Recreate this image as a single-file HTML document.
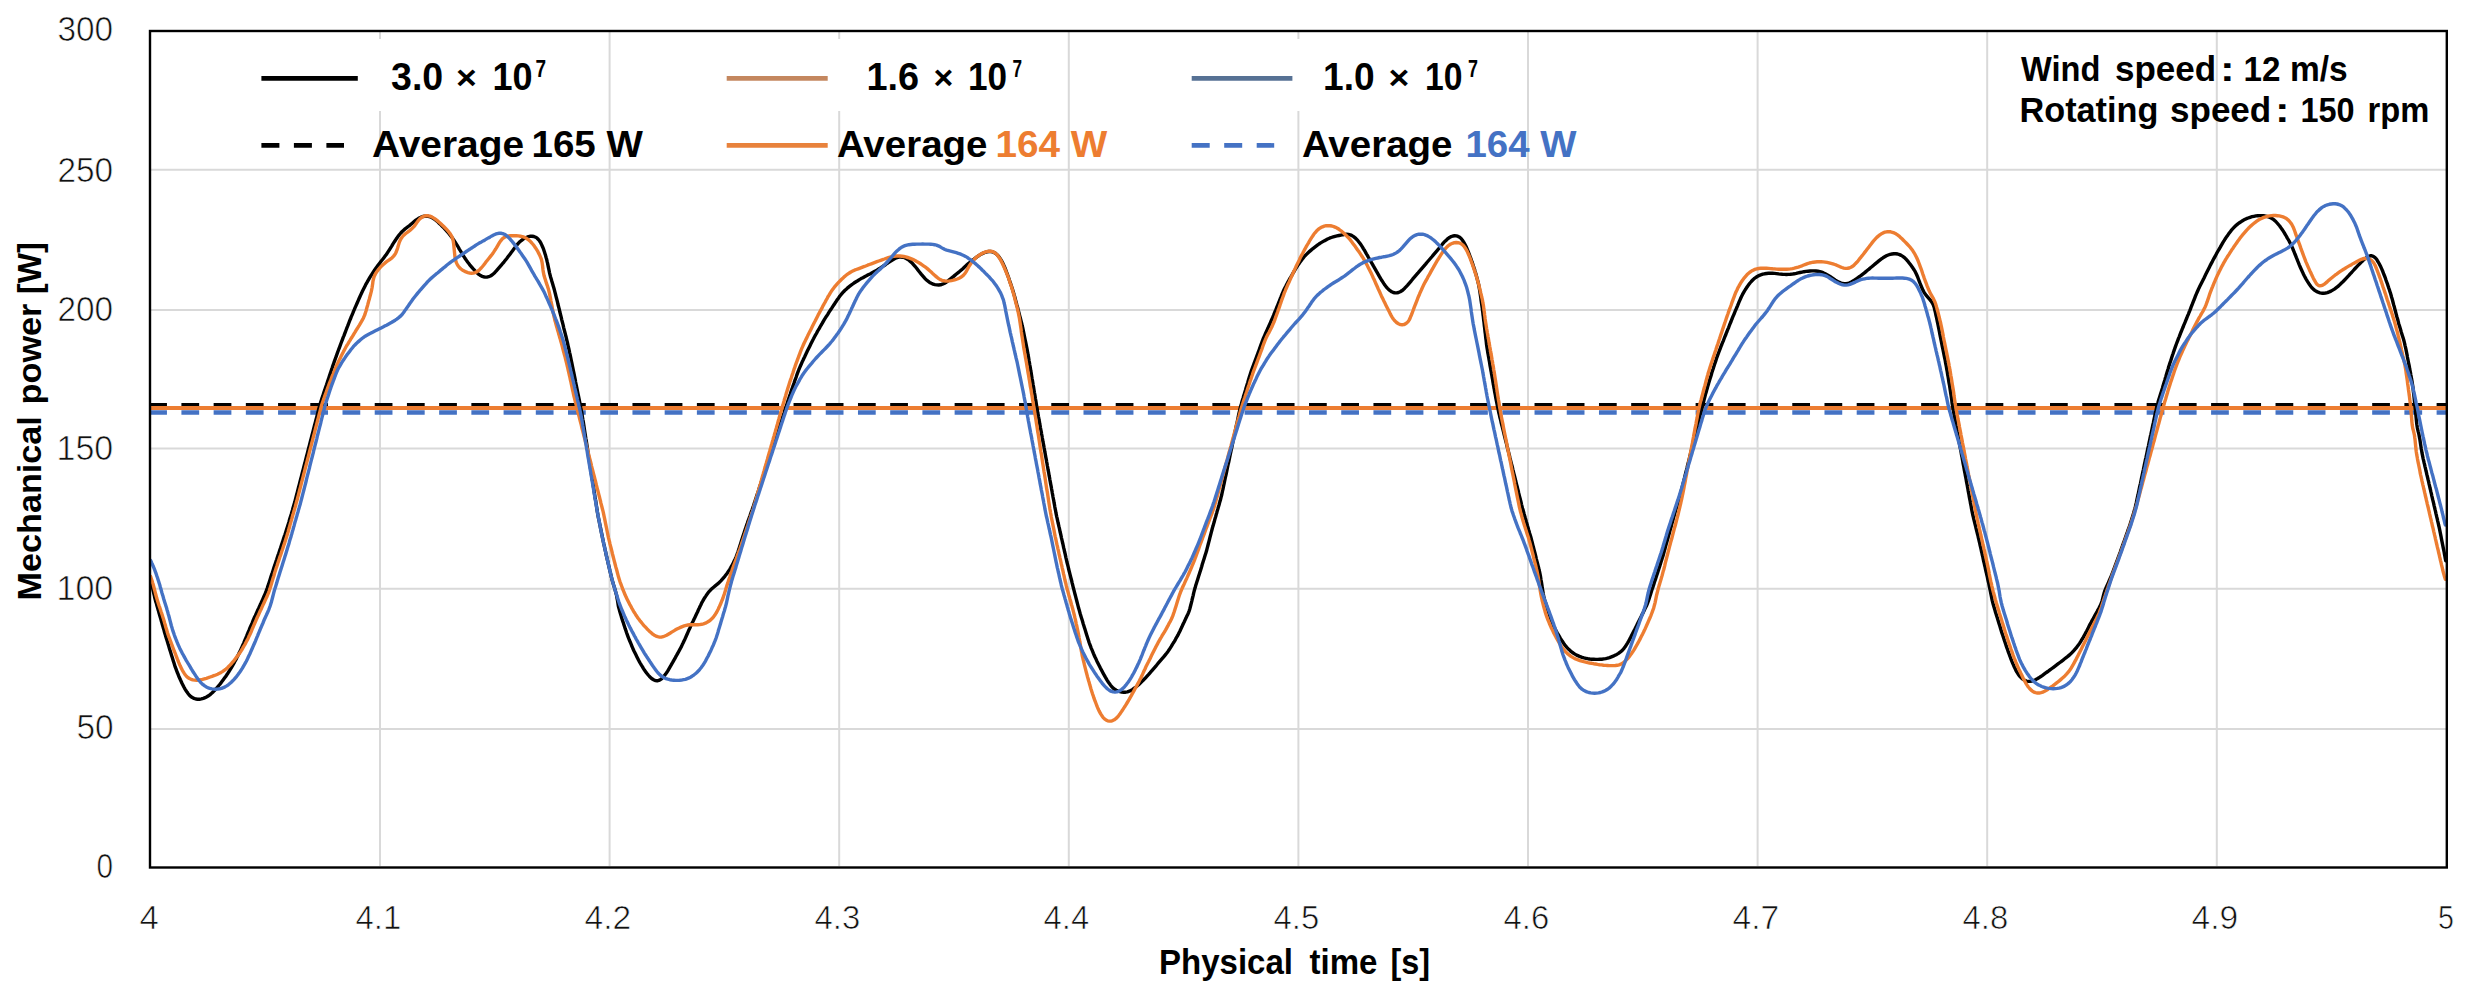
<!DOCTYPE html>
<html><head><meta charset="utf-8"><title>Mechanical power vs physical time</title>
<style>html,body{margin:0;padding:0;background:#fff;}body{width:2467px;height:996px;overflow:hidden;}svg{display:block;}</style>
</head><body>
<svg width="2467" height="996" viewBox="0 0 2467 996" font-family='"Liberation Sans", Arial, sans-serif'>
<rect width="2467" height="996" fill="#fff"/>
<g stroke="#d9d9d9" stroke-width="2"><line x1="151" y1="728.9" x2="2446" y2="728.9"/><line x1="151" y1="588.8" x2="2446" y2="588.8"/><line x1="151" y1="448.4" x2="2446" y2="448.4"/><line x1="151" y1="309.9" x2="2446" y2="309.9"/><line x1="151" y1="169.8" x2="2446" y2="169.8"/><line x1="380.0" y1="32" x2="380.0" y2="866"/><line x1="609.6" y1="32" x2="609.6" y2="866"/><line x1="839.2" y1="32" x2="839.2" y2="866"/><line x1="1068.8" y1="32" x2="1068.8" y2="866"/><line x1="1298.4" y1="32" x2="1298.4" y2="866"/><line x1="1528.0" y1="32" x2="1528.0" y2="866"/><line x1="1757.6" y1="32" x2="1757.6" y2="866"/><line x1="1987.2" y1="32" x2="1987.2" y2="866"/><line x1="2216.8" y1="32" x2="2216.8" y2="866"/></g>
<rect x="250" y="39" width="300" height="72" fill="#fff"/>
<rect x="715" y="39" width="300" height="72" fill="#fff"/>
<rect x="1180" y="39" width="300" height="72" fill="#fff"/>
<line x1="149.2" y1="404.4" x2="2446" y2="404.4" stroke="#000" stroke-width="3" stroke-dasharray="17.75 14.467"/>
<line x1="149.2" y1="412.5" x2="2446" y2="412.5" stroke="#4472c4" stroke-width="4.4" stroke-dasharray="17.75 14.467"/>
<line x1="151" y1="408" x2="2446" y2="408" stroke="#ed7d31" stroke-width="4"/>
<defs><clipPath id="pc"><rect x="151" y="32" width="2295" height="834"/></clipPath></defs>
<g fill="none" stroke-width="3.4" stroke-linejoin="round" stroke-linecap="round" clip-path="url(#pc)">
<path stroke="#000" d="M150.6,582.0 L151.0,583.1 L151.5,584.6 L152.1,586.3 L152.6,588.1 L153.0,590.0 L153.5,592.0 L153.9,593.9 L154.4,595.9 L154.8,597.8 L155.3,599.8 L155.8,601.7 L156.4,603.6 L156.9,605.5 L157.5,607.5 L158.0,609.4 L158.6,611.3 L159.1,613.2 L159.7,615.2 L160.2,617.1 L160.8,619.0 L161.3,620.9 L161.9,622.8 L162.4,624.8 L163.0,626.7 L163.5,628.6 L164.1,630.5 L164.6,632.5 L165.2,634.4 L165.7,636.3 L166.3,638.2 L166.9,640.1 L167.5,642.0 L168.1,644.0 L168.7,645.9 L169.2,647.8 L169.8,649.7 L170.4,651.6 L171.0,653.5 L171.6,655.4 L172.2,657.3 L172.8,659.2 L173.4,661.2 L174.0,663.1 L174.6,665.0 L175.2,666.9 L175.9,668.7 L176.6,670.6 L177.3,672.5 L178.1,674.3 L178.8,676.2 L179.6,678.0 L180.4,679.8 L181.3,681.7 L182.1,683.5 L183.0,685.2 L183.9,687.0 L184.9,688.8 L185.9,690.5 L187.0,692.1 L188.2,693.7 L189.4,695.2 L190.8,696.5 L192.4,697.6 L194.0,698.4 L195.8,699.0 L197.7,699.2 L199.5,699.2 L201.4,698.9 L203.3,698.4 L205.1,697.7 L206.9,696.8 L208.5,695.8 L210.1,694.6 L211.6,693.3 L213.1,691.9 L214.4,690.5 L215.8,689.0 L217.1,687.5 L218.4,686.0 L219.7,684.5 L220.9,682.9 L222.1,681.3 L223.3,679.7 L224.5,678.1 L225.7,676.5 L226.8,674.8 L227.9,673.2 L229.0,671.5 L230.0,669.8 L231.1,668.1 L232.1,666.4 L233.1,664.6 L234.1,662.9 L235.0,661.1 L236.0,659.4 L236.9,657.6 L237.8,655.8 L238.7,654.0 L239.5,652.2 L240.4,650.4 L241.3,648.6 L242.1,646.8 L242.9,644.9 L243.7,643.1 L244.4,641.3 L245.2,639.4 L246.0,637.6 L246.8,635.7 L247.5,633.9 L248.3,632.0 L249.1,630.2 L249.8,628.3 L250.6,626.5 L251.4,624.7 L252.2,622.8 L252.9,621.0 L253.7,619.1 L254.5,617.3 L255.4,615.5 L256.2,613.7 L257.0,611.8 L257.8,610.0 L258.7,608.2 L259.5,606.4 L260.3,604.6 L261.2,602.7 L262.0,600.9 L262.8,599.1 L263.6,597.3 L264.4,595.4 L265.2,593.6 L266.0,591.7 L266.6,589.9 L267.3,588.0 L267.9,586.1 L268.6,584.2 L269.2,582.3 L269.8,580.4 L270.4,578.5 L271.0,576.6 L271.6,574.7 L272.3,572.8 L272.9,570.9 L273.5,569.0 L274.1,567.1 L274.8,565.2 L275.4,563.3 L276.0,561.4 L276.7,559.5 L277.3,557.6 L277.9,555.7 L278.6,553.8 L279.2,551.9 L279.8,550.0 L280.5,548.1 L281.1,546.2 L281.7,544.3 L282.4,542.4 L283.0,540.5 L283.6,538.6 L284.2,536.7 L284.9,534.8 L285.5,532.9 L286.1,531.0 L286.7,529.1 L287.3,527.2 L287.9,525.3 L288.5,523.4 L289.1,521.5 L289.6,519.5 L290.2,517.6 L290.8,515.7 L291.4,513.8 L291.9,511.9 L292.5,510.0 L293.0,508.0 L293.6,506.1 L294.1,504.2 L294.7,502.3 L295.2,500.3 L295.7,498.4 L296.2,496.5 L296.7,494.5 L297.2,492.6 L297.7,490.7 L298.2,488.7 L298.7,486.8 L299.2,484.9 L299.7,482.9 L300.2,481.0 L300.7,479.0 L301.2,477.1 L301.7,475.2 L302.2,473.2 L302.7,471.3 L303.2,469.4 L303.7,467.4 L304.2,465.5 L304.7,463.5 L305.2,461.6 L305.7,459.7 L306.2,457.7 L306.7,455.8 L307.2,453.9 L307.7,451.9 L308.2,450.0 L308.7,448.0 L309.2,446.1 L309.7,444.2 L310.2,442.2 L310.7,440.3 L311.2,438.4 L311.7,436.4 L312.2,434.5 L312.7,432.6 L313.2,430.6 L313.7,428.7 L314.2,426.7 L314.7,424.8 L315.2,422.9 L315.7,420.9 L316.2,419.0 L316.7,417.1 L317.2,415.1 L317.7,413.2 L318.2,411.2 L318.7,409.3 L319.2,407.4 L319.7,405.5 L320.3,403.5 L320.9,401.6 L321.5,399.7 L322.1,397.8 L322.8,395.9 L323.4,394.0 L324.0,392.1 L324.7,390.2 L325.3,388.3 L325.9,386.5 L326.6,384.6 L327.2,382.7 L327.8,380.8 L328.5,378.9 L329.1,377.0 L329.7,375.1 L330.4,373.2 L331.0,371.3 L331.6,369.4 L332.3,367.5 L332.9,365.6 L333.6,363.7 L334.2,361.8 L334.9,359.9 L335.6,358.0 L336.3,356.2 L336.9,354.3 L337.6,352.4 L338.3,350.5 L339.0,348.6 L339.7,346.8 L340.4,344.9 L341.1,343.0 L341.8,341.2 L342.5,339.3 L343.2,337.4 L344.0,335.6 L344.7,333.7 L345.4,331.8 L346.1,330.0 L346.8,328.1 L347.6,326.2 L348.3,324.4 L349.0,322.5 L349.7,320.6 L350.5,318.8 L351.2,316.9 L352.0,315.1 L352.8,313.2 L353.5,311.4 L354.3,309.6 L355.1,307.7 L355.9,305.9 L356.7,304.0 L357.5,302.2 L358.3,300.4 L359.1,298.5 L359.9,296.7 L360.7,294.9 L361.6,293.1 L362.4,291.3 L363.3,289.5 L364.2,287.7 L365.1,285.9 L366.0,284.1 L367.0,282.4 L368.0,280.6 L369.0,278.9 L370.0,277.2 L371.1,275.5 L372.1,273.8 L373.2,272.1 L374.3,270.5 L375.5,268.8 L376.6,267.2 L377.8,265.6 L379.0,264.0 L380.2,262.4 L381.5,260.8 L382.7,259.3 L383.9,257.7 L385.1,256.1 L386.3,254.5 L387.4,252.8 L388.5,251.1 L389.6,249.5 L390.6,247.8 L391.7,246.1 L392.7,244.4 L393.8,242.7 L394.9,241.0 L396.0,239.3 L397.1,237.7 L398.3,236.1 L399.5,234.5 L400.8,233.0 L402.2,231.5 L403.6,230.2 L405.1,228.9 L406.7,227.7 L408.2,226.5 L409.8,225.3 L411.3,224.0 L412.8,222.7 L414.4,221.4 L415.9,220.2 L417.5,219.1 L419.2,218.0 L421.0,217.2 L422.8,216.5 L424.6,216.2 L426.5,216.1 L428.3,216.3 L430.2,216.8 L431.9,217.6 L433.5,218.6 L435.1,219.7 L436.7,221.0 L438.2,222.3 L439.6,223.7 L441.1,225.0 L442.5,226.5 L443.9,227.9 L445.2,229.3 L446.6,230.8 L447.9,232.3 L449.2,233.9 L450.4,235.4 L451.6,237.0 L452.8,238.6 L453.9,240.3 L455.0,241.9 L456.1,243.6 L457.2,245.3 L458.2,247.0 L459.2,248.8 L460.2,250.5 L461.2,252.2 L462.3,253.9 L463.3,255.6 L464.4,257.3 L465.5,259.0 L466.6,260.6 L467.8,262.3 L469.0,263.8 L470.2,265.4 L471.5,266.9 L472.8,268.4 L474.2,269.9 L475.5,271.4 L477.0,272.7 L478.4,274.1 L480.0,275.2 L481.6,276.1 L483.3,276.8 L485.1,277.1 L486.9,277.1 L488.7,276.7 L490.4,276.0 L492.0,275.0 L493.5,273.7 L494.9,272.4 L496.3,270.9 L497.6,269.4 L498.9,267.9 L500.2,266.4 L501.5,264.9 L502.8,263.3 L504.1,261.8 L505.3,260.3 L506.6,258.7 L507.8,257.1 L509.0,255.5 L510.2,253.9 L511.4,252.3 L512.6,250.7 L513.8,249.1 L515.0,247.5 L516.2,245.9 L517.4,244.4 L518.7,242.9 L520.1,241.5 L521.6,240.3 L523.2,239.1 L524.9,238.1 L526.7,237.3 L528.5,236.6 L530.3,236.3 L532.1,236.2 L533.9,236.5 L535.6,237.2 L537.1,238.2 L538.4,239.5 L539.6,241.0 L540.6,242.6 L541.5,244.4 L542.3,246.2 L543.1,248.0 L543.8,249.9 L544.4,251.8 L545.0,253.7 L545.6,255.6 L546.1,257.5 L546.7,259.5 L547.1,261.4 L547.6,263.4 L548.0,265.3 L548.4,267.3 L548.8,269.2 L549.2,271.2 L549.6,273.1 L550.1,275.1 L550.6,277.0 L551.2,278.9 L551.7,280.8 L552.3,282.8 L552.9,284.7 L553.4,286.6 L554.0,288.5 L554.5,290.4 L555.0,292.4 L555.5,294.3 L556.0,296.3 L556.5,298.2 L557.0,300.1 L557.5,302.1 L557.9,304.0 L558.4,306.0 L558.9,307.9 L559.4,309.8 L559.8,311.8 L560.3,313.7 L560.8,315.7 L561.3,317.6 L561.7,319.6 L562.2,321.5 L562.7,323.4 L563.2,325.4 L563.6,327.3 L564.1,329.3 L564.6,331.2 L565.1,333.2 L565.6,335.1 L566.1,337.0 L566.5,339.0 L567.0,340.9 L567.5,342.9 L567.9,344.8 L568.3,346.8 L568.8,348.7 L569.2,350.7 L569.6,352.6 L570.1,354.6 L570.5,356.5 L570.9,358.5 L571.3,360.5 L571.7,362.4 L572.1,364.4 L572.5,366.3 L572.9,368.3 L573.3,370.3 L573.7,372.2 L574.1,374.2 L574.5,376.1 L574.9,378.1 L575.3,380.1 L575.6,382.0 L576.0,384.0 L576.4,385.9 L576.8,387.9 L577.2,389.9 L577.6,391.8 L578.0,393.8 L578.4,395.7 L578.8,397.7 L579.2,399.7 L579.6,401.6 L580.0,403.6 L580.4,405.6 L580.7,407.5 L581.1,409.5 L581.5,411.4 L581.9,413.4 L582.2,415.4 L582.5,417.4 L582.8,419.3 L583.2,421.3 L583.5,423.3 L583.8,425.3 L584.1,427.2 L584.4,429.2 L584.7,431.2 L585.0,433.2 L585.3,435.1 L585.6,437.1 L585.9,439.1 L586.3,441.1 L586.6,443.0 L586.9,445.0 L587.2,447.0 L587.5,449.0 L587.8,450.9 L588.1,452.9 L588.4,454.9 L588.7,456.9 L589.0,458.8 L589.4,460.8 L589.7,462.8 L590.0,464.8 L590.3,466.7 L590.6,468.7 L590.9,470.7 L591.2,472.7 L591.5,474.6 L591.8,476.6 L592.1,478.6 L592.5,480.6 L592.8,482.6 L593.1,484.5 L593.4,486.5 L593.7,488.5 L594.0,490.5 L594.3,492.4 L594.6,494.4 L594.9,496.4 L595.2,498.4 L595.6,500.3 L595.9,502.3 L596.2,504.3 L596.5,506.3 L596.8,508.2 L597.1,510.2 L597.4,512.2 L597.8,514.2 L598.1,516.1 L598.5,518.1 L598.9,520.0 L599.3,522.0 L599.7,524.0 L600.1,525.9 L600.5,527.9 L600.9,529.9 L601.3,531.8 L601.7,533.8 L602.1,535.7 L602.5,537.7 L602.9,539.7 L603.3,541.6 L603.7,543.6 L604.2,545.5 L604.6,547.5 L605.0,549.4 L605.5,551.4 L605.9,553.3 L606.3,555.3 L606.8,557.2 L607.2,559.2 L607.7,561.1 L608.1,563.1 L608.6,565.0 L609.0,567.0 L609.5,568.9 L609.9,570.9 L610.4,572.8 L610.9,574.8 L611.3,576.7 L611.8,578.6 L612.3,580.6 L612.9,582.5 L613.4,584.4 L614.0,586.3 L614.6,588.2 L615.2,590.2 L615.7,592.1 L616.2,594.0 L616.7,595.9 L617.0,597.9 L617.4,599.9 L617.7,601.8 L618.0,603.8 L618.3,605.8 L618.8,607.7 L619.3,609.6 L619.8,611.6 L620.4,613.5 L621.0,615.4 L621.5,617.3 L622.1,619.2 L622.7,621.1 L623.4,623.0 L624.0,624.9 L624.6,626.8 L625.2,628.7 L625.9,630.6 L626.5,632.5 L627.2,634.4 L627.9,636.3 L628.6,638.1 L629.3,640.0 L630.1,641.8 L630.9,643.7 L631.6,645.5 L632.4,647.4 L633.2,649.2 L634.0,651.0 L634.9,652.8 L635.8,654.6 L636.7,656.4 L637.6,658.2 L638.5,660.0 L639.4,661.7 L640.4,663.5 L641.4,665.2 L642.5,666.9 L643.5,668.6 L644.6,670.3 L645.8,671.9 L647.0,673.5 L648.2,675.0 L649.5,676.5 L650.9,677.9 L652.4,679.1 L654.0,680.0 L655.6,680.6 L657.2,680.8 L658.8,680.4 L660.3,679.7 L661.8,678.6 L663.1,677.2 L664.4,675.7 L665.6,674.1 L666.7,672.5 L667.8,670.8 L668.8,669.1 L669.8,667.4 L670.8,665.7 L671.8,663.9 L672.8,662.2 L673.8,660.4 L674.8,658.7 L675.7,656.9 L676.7,655.2 L677.7,653.4 L678.6,651.7 L679.6,649.9 L680.5,648.2 L681.5,646.4 L682.3,644.6 L683.2,642.8 L684.0,641.0 L684.9,639.2 L685.7,637.3 L686.5,635.5 L687.3,633.7 L688.1,631.9 L688.9,630.0 L689.8,628.2 L690.6,626.4 L691.4,624.6 L692.3,622.8 L693.2,621.0 L694.0,619.2 L694.9,617.4 L695.8,615.6 L696.6,613.8 L697.5,612.0 L698.3,610.1 L699.2,608.3 L700.0,606.5 L700.9,604.7 L701.7,602.9 L702.7,601.2 L703.7,599.4 L704.7,597.7 L705.8,596.1 L706.9,594.4 L708.1,592.8 L709.3,591.3 L710.7,589.8 L712.1,588.5 L713.6,587.2 L715.2,585.9 L716.7,584.7 L718.2,583.4 L719.7,582.0 L721.1,580.6 L722.4,579.1 L723.7,577.6 L725.0,576.1 L726.2,574.5 L727.4,572.9 L728.5,571.2 L729.6,569.6 L730.6,567.9 L731.6,566.1 L732.6,564.4 L733.5,562.6 L734.3,560.8 L735.2,559.0 L736.0,557.1 L736.7,555.3 L737.4,553.4 L738.1,551.5 L738.7,549.6 L739.3,547.7 L739.9,545.8 L740.5,543.9 L741.1,542.0 L741.7,540.1 L742.3,538.2 L742.9,536.3 L743.6,534.4 L744.2,532.5 L744.8,530.6 L745.5,528.7 L746.1,526.8 L746.7,524.9 L747.4,523.0 L748.0,521.1 L748.7,519.3 L749.4,517.4 L750.1,515.5 L750.7,513.6 L751.4,511.7 L752.1,509.8 L752.7,507.9 L753.4,506.1 L754.0,504.2 L754.6,502.3 L755.3,500.4 L755.9,498.5 L756.5,496.6 L757.1,494.7 L757.8,492.8 L758.4,490.9 L759.0,489.0 L759.6,487.1 L760.3,485.2 L760.9,483.3 L761.5,481.4 L762.1,479.5 L762.8,477.6 L763.4,475.7 L764.0,473.8 L764.6,471.9 L765.2,470.0 L765.9,468.1 L766.5,466.2 L767.1,464.3 L767.7,462.4 L768.4,460.5 L769.0,458.6 L769.6,456.7 L770.2,454.8 L770.9,452.9 L771.5,451.0 L772.1,449.1 L772.7,447.2 L773.4,445.3 L774.0,443.4 L774.6,441.5 L775.2,439.6 L775.9,437.7 L776.5,435.8 L777.1,433.9 L777.7,432.0 L778.3,430.1 L779.0,428.2 L779.6,426.3 L780.2,424.4 L780.8,422.5 L781.5,420.6 L782.1,418.7 L782.7,416.8 L783.3,414.9 L784.0,413.0 L784.6,411.1 L785.2,409.2 L785.8,407.3 L786.5,405.4 L787.1,403.5 L787.7,401.6 L788.4,399.7 L789.0,397.8 L789.6,395.9 L790.3,394.0 L790.9,392.1 L791.5,390.2 L792.2,388.3 L792.9,386.4 L793.5,384.5 L794.2,382.6 L794.8,380.7 L795.5,378.9 L796.2,377.0 L796.8,375.1 L797.5,373.2 L798.2,371.3 L798.9,369.5 L799.7,367.6 L800.5,365.8 L801.3,364.0 L802.1,362.1 L803.0,360.3 L803.8,358.5 L804.7,356.7 L805.5,354.9 L806.4,353.1 L807.2,351.3 L808.1,349.5 L809.0,347.7 L809.9,345.9 L810.8,344.1 L811.7,342.3 L812.6,340.5 L813.5,338.8 L814.4,337.0 L815.4,335.2 L816.4,333.5 L817.3,331.7 L818.3,330.0 L819.3,328.3 L820.3,326.5 L821.3,324.8 L822.3,323.1 L823.3,321.3 L824.3,319.6 L825.4,317.9 L826.5,316.2 L827.6,314.6 L828.6,312.9 L829.7,311.2 L830.8,309.5 L831.9,307.9 L833.0,306.2 L834.1,304.5 L835.2,302.8 L836.3,301.2 L837.4,299.5 L838.6,297.9 L839.7,296.3 L841.0,294.7 L842.3,293.2 L843.6,291.7 L845.0,290.3 L846.5,289.0 L848.0,287.6 L849.5,286.4 L851.1,285.2 L852.7,284.0 L854.3,282.8 L856.0,281.7 L857.7,280.7 L859.4,279.6 L861.1,278.6 L862.9,277.7 L864.6,276.7 L866.4,275.8 L868.2,274.8 L870.0,273.9 L871.7,273.0 L873.5,272.0 L875.2,271.1 L876.9,270.1 L878.7,269.0 L880.4,268.0 L882.0,266.9 L883.7,265.8 L885.4,264.7 L887.0,263.5 L888.7,262.4 L890.3,261.3 L892.0,260.2 L893.7,259.2 L895.4,258.3 L897.1,257.6 L899.0,257.1 L900.8,257.0 L902.6,257.2 L904.5,257.7 L906.2,258.5 L907.9,259.5 L909.4,260.6 L910.9,261.9 L912.4,263.3 L913.7,264.8 L915.0,266.3 L916.2,267.8 L917.5,269.4 L918.7,271.0 L919.9,272.5 L921.2,274.1 L922.5,275.6 L923.8,277.1 L925.1,278.6 L926.5,280.0 L928.0,281.2 L929.6,282.4 L931.3,283.3 L933.1,284.1 L934.9,284.6 L936.8,284.9 L938.7,285.0 L940.6,284.8 L942.4,284.2 L944.1,283.5 L945.7,282.5 L947.4,281.3 L948.9,280.1 L950.5,278.9 L952.1,277.6 L953.6,276.4 L955.1,275.1 L956.7,273.8 L958.2,272.6 L959.8,271.3 L961.3,270.0 L962.8,268.7 L964.3,267.3 L965.7,266.0 L967.2,264.6 L968.7,263.3 L970.3,262.1 L971.8,260.8 L973.4,259.6 L975.0,258.4 L976.6,257.2 L978.2,256.0 L979.9,254.9 L981.6,253.9 L983.3,253.1 L985.2,252.3 L987.0,251.8 L988.9,251.5 L990.7,251.5 L992.5,251.9 L994.2,252.5 L995.7,253.5 L997.2,254.8 L998.5,256.2 L999.6,257.8 L1000.7,259.4 L1001.7,261.1 L1002.7,262.9 L1003.5,264.7 L1004.3,266.5 L1005.1,268.3 L1005.8,270.2 L1006.5,272.1 L1007.2,273.9 L1007.9,275.8 L1008.6,277.7 L1009.2,279.6 L1009.9,281.5 L1010.5,283.4 L1011.2,285.3 L1011.8,287.2 L1012.4,289.1 L1013.0,291.0 L1013.6,292.9 L1014.1,294.8 L1014.7,296.7 L1015.2,298.7 L1015.7,300.6 L1016.2,302.5 L1016.7,304.5 L1017.3,306.4 L1017.8,308.3 L1018.3,310.3 L1018.8,312.2 L1019.3,314.1 L1019.8,316.1 L1020.3,318.0 L1020.8,319.9 L1021.3,321.9 L1021.8,323.8 L1022.2,325.8 L1022.7,327.7 L1023.1,329.7 L1023.5,331.6 L1023.9,333.6 L1024.3,335.5 L1024.7,337.5 L1025.1,339.5 L1025.5,341.4 L1025.9,343.4 L1026.3,345.3 L1026.7,347.3 L1027.1,349.3 L1027.4,351.2 L1027.8,353.2 L1028.1,355.2 L1028.5,357.1 L1028.8,359.1 L1029.1,361.1 L1029.5,363.1 L1029.8,365.0 L1030.2,367.0 L1030.5,369.0 L1030.8,370.9 L1031.2,372.9 L1031.5,374.9 L1031.8,376.9 L1032.1,378.8 L1032.5,380.8 L1032.8,382.8 L1033.1,384.8 L1033.5,386.7 L1033.8,388.7 L1034.1,390.7 L1034.4,392.6 L1034.8,394.6 L1035.1,396.6 L1035.4,398.6 L1035.8,400.5 L1036.1,402.5 L1036.4,404.5 L1036.7,406.5 L1037.1,408.4 L1037.4,410.4 L1037.7,412.4 L1038.1,414.3 L1038.4,416.3 L1038.8,418.3 L1039.1,420.2 L1039.5,422.2 L1039.8,424.2 L1040.2,426.2 L1040.5,428.1 L1040.9,430.1 L1041.3,432.1 L1041.6,434.0 L1042.0,436.0 L1042.3,438.0 L1042.7,439.9 L1043.0,441.9 L1043.4,443.9 L1043.8,445.8 L1044.1,447.8 L1044.5,449.8 L1044.8,451.7 L1045.2,453.7 L1045.5,455.7 L1045.9,457.6 L1046.3,459.6 L1046.6,461.6 L1047.0,463.5 L1047.3,465.5 L1047.7,467.5 L1048.0,469.4 L1048.4,471.4 L1048.8,473.4 L1049.1,475.4 L1049.5,477.3 L1049.8,479.3 L1050.2,481.3 L1050.5,483.2 L1050.9,485.2 L1051.3,487.2 L1051.6,489.1 L1052.0,491.1 L1052.3,493.1 L1052.7,495.0 L1053.0,497.0 L1053.4,499.0 L1053.8,500.9 L1054.1,502.9 L1054.5,504.9 L1054.8,506.8 L1055.2,508.8 L1055.6,510.8 L1055.9,512.7 L1056.3,514.7 L1056.7,516.6 L1057.2,518.6 L1057.6,520.6 L1058.0,522.5 L1058.5,524.5 L1058.9,526.4 L1059.4,528.4 L1059.8,530.3 L1060.2,532.3 L1060.7,534.2 L1061.1,536.2 L1061.5,538.1 L1062.0,540.1 L1062.4,542.0 L1062.9,544.0 L1063.3,545.9 L1063.7,547.9 L1064.2,549.8 L1064.6,551.8 L1065.1,553.7 L1065.5,555.7 L1065.9,557.6 L1066.4,559.6 L1066.8,561.5 L1067.3,563.5 L1067.8,565.4 L1068.3,567.4 L1068.7,569.3 L1069.2,571.2 L1069.7,573.2 L1070.2,575.1 L1070.7,577.1 L1071.2,579.0 L1071.7,580.9 L1072.1,582.9 L1072.6,584.8 L1073.1,586.8 L1073.6,588.7 L1074.1,590.6 L1074.6,592.6 L1075.1,594.5 L1075.6,596.4 L1076.1,598.4 L1076.6,600.3 L1077.1,602.2 L1077.6,604.2 L1078.1,606.1 L1078.6,608.1 L1079.2,610.0 L1079.7,611.9 L1080.2,613.8 L1080.8,615.8 L1081.4,617.7 L1082.0,619.6 L1082.6,621.5 L1083.1,623.4 L1083.7,625.3 L1084.3,627.2 L1084.9,629.1 L1085.5,631.0 L1086.1,633.0 L1086.7,634.9 L1087.3,636.8 L1087.9,638.7 L1088.5,640.6 L1089.1,642.5 L1089.8,644.4 L1090.5,646.2 L1091.2,648.1 L1092.0,649.9 L1092.8,651.8 L1093.5,653.6 L1094.3,655.5 L1095.1,657.3 L1096.0,659.1 L1096.8,660.9 L1097.7,662.7 L1098.6,664.5 L1099.5,666.3 L1100.4,668.1 L1101.3,669.8 L1102.3,671.6 L1103.2,673.4 L1104.2,675.1 L1105.2,676.9 L1106.2,678.6 L1107.2,680.3 L1108.3,682.0 L1109.4,683.6 L1110.6,685.2 L1111.8,686.7 L1113.2,688.1 L1114.7,689.3 L1116.3,690.2 L1118.1,691.0 L1119.9,691.6 L1121.8,692.1 L1123.7,692.2 L1125.6,692.2 L1127.5,691.8 L1129.3,691.2 L1131.1,690.4 L1132.7,689.4 L1134.3,688.2 L1135.9,687.0 L1137.4,685.7 L1138.9,684.4 L1140.4,683.0 L1141.8,681.6 L1143.2,680.2 L1144.6,678.8 L1146.0,677.3 L1147.3,675.9 L1148.7,674.4 L1150.0,672.9 L1151.3,671.3 L1152.6,669.8 L1153.9,668.3 L1155.2,666.8 L1156.5,665.3 L1157.8,663.7 L1159.1,662.2 L1160.4,660.7 L1161.7,659.2 L1163.0,657.7 L1164.3,656.1 L1165.5,654.6 L1166.8,653.0 L1168.0,651.4 L1169.1,649.8 L1170.2,648.1 L1171.3,646.4 L1172.3,644.7 L1173.3,643.0 L1174.4,641.3 L1175.4,639.6 L1176.3,637.8 L1177.3,636.1 L1178.3,634.3 L1179.2,632.5 L1180.1,630.7 L1180.9,628.9 L1181.8,627.1 L1182.6,625.3 L1183.4,623.5 L1184.3,621.7 L1185.1,619.9 L1186.0,618.1 L1186.8,616.3 L1187.7,614.5 L1188.5,612.6 L1189.2,610.8 L1189.8,608.9 L1190.3,607.0 L1190.8,605.0 L1191.3,603.1 L1191.8,601.1 L1192.2,599.2 L1192.7,597.3 L1193.2,595.3 L1193.6,593.4 L1194.1,591.4 L1194.6,589.5 L1195.2,587.6 L1195.7,585.6 L1196.3,583.7 L1196.9,581.8 L1197.5,579.9 L1198.1,578.0 L1198.7,576.1 L1199.3,574.2 L1199.9,572.3 L1200.5,570.4 L1201.1,568.5 L1201.7,566.5 L1202.2,564.6 L1202.8,562.7 L1203.4,560.8 L1204.0,558.9 L1204.6,557.0 L1205.2,555.1 L1205.8,553.2 L1206.4,551.3 L1206.9,549.3 L1207.4,547.4 L1207.9,545.5 L1208.4,543.5 L1208.9,541.6 L1209.4,539.7 L1209.9,537.7 L1210.4,535.8 L1210.9,533.8 L1211.4,531.9 L1211.9,530.0 L1212.4,528.0 L1213.0,526.1 L1213.5,524.2 L1214.1,522.3 L1214.6,520.3 L1215.1,518.4 L1215.7,516.5 L1216.2,514.6 L1216.8,512.7 L1217.3,510.7 L1217.9,508.8 L1218.4,506.9 L1219.0,505.0 L1219.5,503.0 L1220.1,501.1 L1220.6,499.2 L1221.1,497.2 L1221.6,495.3 L1222.0,493.4 L1222.4,491.4 L1222.9,489.4 L1223.3,487.5 L1223.7,485.5 L1224.1,483.6 L1224.5,481.6 L1224.9,479.7 L1225.3,477.7 L1225.8,475.7 L1226.2,473.8 L1226.6,471.8 L1227.0,469.9 L1227.4,467.9 L1227.8,466.0 L1228.2,464.0 L1228.7,462.1 L1229.1,460.1 L1229.5,458.1 L1229.9,456.2 L1230.3,454.2 L1230.7,452.3 L1231.1,450.3 L1231.6,448.4 L1232.0,446.4 L1232.4,444.4 L1232.8,442.5 L1233.2,440.5 L1233.6,438.6 L1234.1,436.6 L1234.5,434.7 L1234.9,432.7 L1235.3,430.7 L1235.7,428.8 L1236.1,426.8 L1236.5,424.9 L1237.0,422.9 L1237.4,421.0 L1237.8,419.0 L1238.2,417.1 L1238.6,415.1 L1239.0,413.1 L1239.5,411.2 L1239.9,409.2 L1240.4,407.3 L1240.9,405.4 L1241.5,403.4 L1242.0,401.5 L1242.6,399.6 L1243.2,397.7 L1243.7,395.8 L1244.3,393.9 L1244.9,391.9 L1245.5,390.0 L1246.0,388.1 L1246.6,386.2 L1247.2,384.3 L1247.8,382.4 L1248.3,380.5 L1248.9,378.5 L1249.5,376.6 L1250.1,374.7 L1250.7,372.8 L1251.3,370.9 L1252.0,369.0 L1252.7,367.2 L1253.4,365.3 L1254.1,363.4 L1254.8,361.5 L1255.5,359.7 L1256.2,357.8 L1256.9,355.9 L1257.6,354.1 L1258.3,352.2 L1259.0,350.3 L1259.7,348.4 L1260.3,346.5 L1261.0,344.7 L1261.7,342.8 L1262.4,340.9 L1263.1,339.0 L1263.9,337.2 L1264.7,335.4 L1265.5,333.5 L1266.3,331.7 L1267.1,329.9 L1268.0,328.1 L1268.8,326.2 L1269.6,324.4 L1270.4,322.6 L1271.2,320.7 L1272.0,318.9 L1272.8,317.1 L1273.6,315.2 L1274.3,313.4 L1275.1,311.5 L1275.9,309.7 L1276.6,307.8 L1277.4,306.0 L1278.1,304.1 L1278.9,302.3 L1279.6,300.4 L1280.3,298.5 L1281.1,296.7 L1281.8,294.8 L1282.6,293.0 L1283.3,291.2 L1284.2,289.3 L1285.1,287.5 L1286.0,285.8 L1286.9,284.0 L1287.9,282.2 L1288.8,280.5 L1289.8,278.7 L1290.8,277.0 L1291.8,275.3 L1292.8,273.5 L1293.8,271.8 L1294.8,270.1 L1295.9,268.4 L1297.0,266.7 L1298.0,265.0 L1299.2,263.4 L1300.3,261.8 L1301.5,260.2 L1302.7,258.6 L1304.0,257.0 L1305.3,255.5 L1306.7,254.1 L1308.1,252.7 L1309.6,251.4 L1311.1,250.1 L1312.6,248.8 L1314.2,247.6 L1315.8,246.4 L1317.4,245.2 L1319.0,244.0 L1320.7,242.9 L1322.4,241.9 L1324.1,240.9 L1325.9,239.9 L1327.6,239.0 L1329.5,238.2 L1331.3,237.5 L1333.2,236.9 L1335.1,236.3 L1337.0,235.9 L1339.0,235.5 L1340.9,235.1 L1342.9,234.7 L1344.8,234.4 L1346.7,234.3 L1348.5,234.4 L1350.3,234.8 L1352.0,235.6 L1353.6,236.6 L1355.1,237.8 L1356.5,239.2 L1357.9,240.7 L1359.1,242.2 L1360.3,243.8 L1361.4,245.4 L1362.5,247.1 L1363.5,248.8 L1364.6,250.5 L1365.6,252.3 L1366.5,254.0 L1367.5,255.7 L1368.5,257.5 L1369.5,259.2 L1370.5,261.0 L1371.5,262.7 L1372.5,264.4 L1373.5,266.2 L1374.5,267.9 L1375.5,269.6 L1376.5,271.4 L1377.5,273.1 L1378.5,274.8 L1379.5,276.6 L1380.5,278.3 L1381.5,280.0 L1382.6,281.7 L1383.7,283.4 L1384.8,285.0 L1386.0,286.6 L1387.3,288.1 L1388.7,289.5 L1390.1,290.7 L1391.7,291.8 L1393.3,292.5 L1395.0,292.9 L1396.8,292.9 L1398.5,292.5 L1400.2,291.8 L1401.8,290.8 L1403.3,289.6 L1404.7,288.2 L1406.0,286.8 L1407.4,285.3 L1408.7,283.8 L1410.0,282.3 L1411.3,280.8 L1412.6,279.2 L1413.9,277.7 L1415.2,276.2 L1416.5,274.7 L1417.8,273.2 L1419.1,271.6 L1420.4,270.1 L1421.7,268.6 L1423.0,267.1 L1424.3,265.6 L1425.6,264.1 L1426.9,262.5 L1428.2,261.0 L1429.5,259.5 L1430.8,258.0 L1432.1,256.5 L1433.4,254.9 L1434.7,253.4 L1436.0,251.9 L1437.3,250.4 L1438.6,248.8 L1439.9,247.3 L1441.1,245.8 L1442.4,244.2 L1443.7,242.7 L1445.1,241.2 L1446.5,239.9 L1447.9,238.6 L1449.5,237.5 L1451.2,236.6 L1452.9,236.0 L1454.7,235.8 L1456.5,235.9 L1458.1,236.4 L1459.7,237.3 L1461.1,238.5 L1462.3,240.0 L1463.4,241.6 L1464.4,243.3 L1465.3,245.0 L1466.2,246.8 L1467.0,248.6 L1467.7,250.5 L1468.5,252.3 L1469.2,254.2 L1469.9,256.1 L1470.6,257.9 L1471.3,259.8 L1471.9,261.7 L1472.6,263.6 L1473.2,265.5 L1473.8,267.4 L1474.5,269.3 L1475.0,271.2 L1475.6,273.1 L1476.2,275.1 L1476.7,277.0 L1477.2,278.9 L1477.7,280.8 L1478.2,282.8 L1478.7,284.7 L1479.0,286.7 L1479.4,288.7 L1479.7,290.6 L1480.0,292.6 L1480.3,294.6 L1480.6,296.6 L1480.9,298.6 L1481.1,300.5 L1481.4,302.5 L1481.7,304.5 L1482.0,306.5 L1482.3,308.5 L1482.5,310.4 L1482.8,312.4 L1483.0,314.4 L1483.3,316.4 L1483.5,318.4 L1483.7,320.4 L1484.0,322.3 L1484.2,324.3 L1484.4,326.3 L1484.7,328.3 L1484.9,330.3 L1485.1,332.3 L1485.4,334.3 L1485.6,336.3 L1485.8,338.2 L1486.1,340.2 L1486.3,342.2 L1486.5,344.2 L1486.8,346.2 L1487.1,348.2 L1487.4,350.1 L1487.7,352.1 L1488.1,354.1 L1488.4,356.0 L1488.8,358.0 L1489.1,360.0 L1489.5,362.0 L1489.8,363.9 L1490.1,365.9 L1490.5,367.9 L1490.8,369.8 L1491.2,371.8 L1491.5,373.8 L1491.9,375.7 L1492.2,377.7 L1492.6,379.7 L1492.9,381.7 L1493.2,383.6 L1493.6,385.6 L1493.9,387.6 L1494.3,389.5 L1494.6,391.5 L1495.0,393.5 L1495.4,395.4 L1495.7,397.4 L1496.1,399.4 L1496.5,401.3 L1496.9,403.3 L1497.3,405.3 L1497.7,407.2 L1498.1,409.2 L1498.5,411.1 L1498.9,413.1 L1499.4,415.0 L1499.8,417.0 L1500.3,418.9 L1500.8,420.9 L1501.2,422.8 L1501.7,424.7 L1502.2,426.7 L1502.7,428.6 L1503.2,430.6 L1503.7,432.5 L1504.1,434.4 L1504.6,436.4 L1505.1,438.3 L1505.6,440.3 L1506.1,442.2 L1506.6,444.2 L1507.0,446.1 L1507.5,448.0 L1508.0,450.0 L1508.5,451.9 L1509.0,453.9 L1509.5,455.8 L1509.9,457.7 L1510.4,459.7 L1510.9,461.6 L1511.4,463.6 L1511.9,465.5 L1512.4,467.4 L1512.8,469.4 L1513.3,471.3 L1513.8,473.3 L1514.3,475.2 L1514.8,477.1 L1515.3,479.1 L1515.7,481.0 L1516.2,483.0 L1516.7,484.9 L1517.2,486.8 L1517.7,488.8 L1518.2,490.7 L1518.6,492.7 L1519.1,494.6 L1519.6,496.6 L1520.1,498.5 L1520.6,500.4 L1521.1,502.4 L1521.5,504.3 L1522.0,506.3 L1522.5,508.2 L1523.1,510.1 L1523.6,512.0 L1524.1,514.0 L1524.7,515.9 L1525.2,517.8 L1525.8,519.7 L1526.3,521.7 L1526.9,523.6 L1527.4,525.5 L1528.0,527.4 L1528.5,529.4 L1529.1,531.3 L1529.6,533.2 L1530.2,535.1 L1530.8,537.0 L1531.3,539.0 L1531.8,540.9 L1532.3,542.8 L1532.8,544.8 L1533.3,546.7 L1533.8,548.6 L1534.3,550.6 L1534.8,552.5 L1535.3,554.5 L1535.8,556.4 L1536.2,558.3 L1536.7,560.3 L1537.2,562.2 L1537.7,564.2 L1538.2,566.1 L1538.7,568.0 L1539.1,570.0 L1539.6,571.9 L1540.0,573.9 L1540.4,575.8 L1540.7,577.8 L1541.0,579.8 L1541.4,581.8 L1541.7,583.7 L1542.0,585.7 L1542.2,587.7 L1542.6,589.7 L1542.9,591.6 L1543.2,593.6 L1543.6,595.6 L1544.0,597.5 L1544.5,599.4 L1545.1,601.4 L1545.7,603.3 L1546.3,605.2 L1546.9,607.1 L1547.5,609.0 L1548.1,610.9 L1548.8,612.8 L1549.4,614.7 L1550.0,616.6 L1550.7,618.5 L1551.4,620.4 L1552.1,622.2 L1552.8,624.1 L1553.6,625.9 L1554.5,627.7 L1555.4,629.5 L1556.3,631.2 L1557.3,633.0 L1558.3,634.7 L1559.3,636.4 L1560.3,638.1 L1561.4,639.8 L1562.5,641.5 L1563.6,643.2 L1564.7,644.8 L1566.0,646.3 L1567.3,647.8 L1568.7,649.3 L1570.1,650.6 L1571.6,651.9 L1573.2,653.0 L1574.9,654.1 L1576.6,655.1 L1578.4,655.9 L1580.2,656.7 L1582.1,657.4 L1584.0,657.9 L1585.9,658.3 L1587.9,658.7 L1589.9,659.0 L1591.8,659.2 L1593.8,659.3 L1595.8,659.4 L1597.8,659.4 L1599.8,659.3 L1601.8,659.2 L1603.8,658.9 L1605.7,658.6 L1607.6,658.2 L1609.5,657.6 L1611.4,656.9 L1613.2,656.2 L1615.0,655.3 L1616.8,654.4 L1618.5,653.4 L1620.1,652.2 L1621.6,651.0 L1622.9,649.6 L1624.2,648.1 L1625.4,646.5 L1626.4,644.8 L1627.5,643.1 L1628.5,641.4 L1629.5,639.6 L1630.4,637.9 L1631.3,636.1 L1632.2,634.3 L1633.1,632.5 L1634.0,630.7 L1634.9,629.0 L1635.8,627.2 L1636.7,625.4 L1637.6,623.6 L1638.5,621.8 L1639.4,620.0 L1640.3,618.2 L1641.2,616.4 L1642.1,614.6 L1643.0,612.9 L1643.9,611.1 L1644.7,609.3 L1645.6,607.5 L1646.5,605.7 L1647.3,603.9 L1648.0,602.0 L1648.7,600.1 L1649.3,598.2 L1649.9,596.3 L1650.5,594.4 L1651.1,592.5 L1651.7,590.6 L1652.3,588.7 L1653.0,586.8 L1653.6,584.9 L1654.2,583.0 L1654.8,581.1 L1655.5,579.2 L1656.1,577.3 L1656.7,575.4 L1657.4,573.5 L1658.0,571.6 L1658.6,569.7 L1659.2,567.8 L1659.8,565.9 L1660.4,564.0 L1661.0,562.1 L1661.6,560.2 L1662.2,558.3 L1662.8,556.4 L1663.4,554.4 L1663.9,552.5 L1664.4,550.6 L1665.0,548.7 L1665.5,546.7 L1666.0,544.8 L1666.6,542.9 L1667.1,541.0 L1667.7,539.0 L1668.2,537.1 L1668.7,535.2 L1669.3,533.2 L1669.8,531.3 L1670.3,529.4 L1670.9,527.5 L1671.4,525.5 L1671.9,523.6 L1672.5,521.7 L1673.0,519.8 L1673.5,517.8 L1674.1,515.9 L1674.6,514.0 L1675.2,512.1 L1675.7,510.1 L1676.3,508.2 L1676.9,506.3 L1677.4,504.4 L1678.0,502.5 L1678.6,500.5 L1679.1,498.6 L1679.7,496.7 L1680.2,494.8 L1680.7,492.9 L1681.2,490.9 L1681.7,489.0 L1682.2,487.0 L1682.7,485.1 L1683.2,483.2 L1683.7,481.2 L1684.2,479.3 L1684.7,477.3 L1685.1,475.4 L1685.6,473.5 L1686.1,471.5 L1686.6,469.6 L1687.1,467.6 L1687.5,465.7 L1688.0,463.8 L1688.5,461.8 L1689.0,459.9 L1689.5,457.9 L1690.0,456.0 L1690.4,454.0 L1690.9,452.1 L1691.4,450.2 L1691.9,448.2 L1692.4,446.3 L1692.9,444.3 L1693.3,442.4 L1693.8,440.5 L1694.3,438.5 L1694.8,436.6 L1695.3,434.6 L1695.8,432.7 L1696.2,430.8 L1696.7,428.8 L1697.2,426.9 L1697.7,424.9 L1698.2,423.0 L1698.7,421.1 L1699.1,419.1 L1699.6,417.2 L1700.1,415.2 L1700.6,413.3 L1701.1,411.4 L1701.6,409.4 L1702.1,407.5 L1702.6,405.5 L1703.1,403.6 L1703.6,401.7 L1704.1,399.7 L1704.6,397.8 L1705.1,395.9 L1705.6,393.9 L1706.2,392.0 L1706.7,390.1 L1707.3,388.2 L1707.8,386.2 L1708.4,384.3 L1708.9,382.4 L1709.5,380.5 L1710.1,378.6 L1710.7,376.7 L1711.3,374.7 L1711.8,372.8 L1712.4,370.9 L1713.1,369.0 L1713.7,367.1 L1714.3,365.2 L1714.9,363.3 L1715.6,361.4 L1716.2,359.5 L1716.8,357.6 L1717.5,355.7 L1718.2,353.9 L1718.9,352.0 L1719.6,350.1 L1720.3,348.3 L1721.0,346.4 L1721.8,344.5 L1722.5,342.7 L1723.3,340.8 L1724.0,339.0 L1724.7,337.1 L1725.5,335.3 L1726.2,333.4 L1727.0,331.5 L1727.7,329.7 L1728.5,327.8 L1729.2,326.0 L1729.9,324.1 L1730.7,322.3 L1731.4,320.4 L1732.2,318.5 L1732.9,316.7 L1733.7,314.8 L1734.5,313.0 L1735.2,311.2 L1736.0,309.3 L1736.8,307.5 L1737.6,305.6 L1738.3,303.8 L1739.1,301.9 L1739.9,300.1 L1740.7,298.3 L1741.5,296.5 L1742.4,294.7 L1743.4,292.9 L1744.4,291.2 L1745.4,289.5 L1746.5,287.8 L1747.6,286.2 L1748.8,284.6 L1750.0,283.0 L1751.3,281.5 L1752.7,280.0 L1754.1,278.7 L1755.7,277.5 L1757.3,276.5 L1759.0,275.6 L1760.8,274.8 L1762.7,274.2 L1764.6,273.8 L1766.6,273.5 L1768.5,273.3 L1770.5,273.3 L1772.5,273.3 L1774.5,273.4 L1776.5,273.6 L1778.4,273.9 L1780.4,274.1 L1782.4,274.3 L1784.4,274.4 L1786.4,274.5 L1788.4,274.4 L1790.4,274.3 L1792.3,274.1 L1794.3,273.8 L1796.2,273.4 L1798.2,272.9 L1800.1,272.5 L1802.1,272.1 L1804.0,271.7 L1806.0,271.4 L1808.0,271.2 L1810.0,271.0 L1812.0,270.9 L1814.0,270.9 L1815.9,271.0 L1817.9,271.2 L1819.8,271.6 L1821.7,272.2 L1823.5,272.9 L1825.3,273.8 L1827.0,274.7 L1828.7,275.7 L1830.4,276.8 L1832.1,277.9 L1833.7,279.0 L1835.4,280.1 L1837.1,281.1 L1838.8,282.1 L1840.6,282.9 L1842.4,283.5 L1844.3,283.8 L1846.1,283.8 L1847.9,283.5 L1849.6,282.8 L1851.3,282.0 L1853.0,281.0 L1854.7,279.9 L1856.3,278.8 L1858.0,277.6 L1859.6,276.5 L1861.2,275.3 L1862.8,274.1 L1864.4,272.9 L1865.9,271.6 L1867.5,270.3 L1869.0,269.1 L1870.5,267.8 L1872.1,266.5 L1873.6,265.2 L1875.2,263.9 L1876.7,262.7 L1878.2,261.4 L1879.8,260.1 L1881.4,258.9 L1883.0,257.8 L1884.7,256.8 L1886.4,255.8 L1888.2,255.0 L1890.1,254.4 L1892.0,254.0 L1893.9,253.7 L1895.8,253.7 L1897.7,254.0 L1899.5,254.6 L1901.2,255.4 L1902.8,256.4 L1904.4,257.6 L1905.8,258.9 L1907.1,260.4 L1908.4,261.9 L1909.6,263.5 L1910.8,265.1 L1912.0,266.7 L1913.1,268.3 L1914.2,270.0 L1915.2,271.7 L1916.1,273.5 L1916.9,275.3 L1917.7,277.2 L1918.4,279.0 L1919.1,280.9 L1919.8,282.7 L1920.6,284.6 L1921.3,286.5 L1922.1,288.3 L1922.9,290.1 L1923.8,291.8 L1924.9,293.5 L1926.0,295.1 L1927.3,296.6 L1928.6,298.1 L1929.9,299.6 L1931.1,301.1 L1932.2,302.8 L1933.1,304.5 L1933.8,306.3 L1934.4,308.1 L1934.8,310.1 L1935.3,312.0 L1935.7,314.0 L1936.1,315.9 L1936.6,317.9 L1937.0,319.8 L1937.4,321.8 L1937.8,323.7 L1938.2,325.7 L1938.6,327.7 L1939.0,329.6 L1939.4,331.6 L1939.7,333.5 L1940.1,335.5 L1940.5,337.5 L1940.9,339.4 L1941.3,341.4 L1941.7,343.4 L1942.1,345.3 L1942.5,347.3 L1942.9,349.2 L1943.3,351.2 L1943.7,353.2 L1944.1,355.1 L1944.5,357.1 L1944.9,359.0 L1945.3,361.0 L1945.6,363.0 L1946.0,364.9 L1946.4,366.9 L1946.7,368.9 L1947.1,370.8 L1947.4,372.8 L1947.7,374.8 L1948.1,376.7 L1948.4,378.7 L1948.7,380.7 L1949.0,382.7 L1949.4,384.6 L1949.7,386.6 L1950.0,388.6 L1950.3,390.6 L1950.6,392.5 L1950.9,394.5 L1951.2,396.5 L1951.5,398.5 L1951.8,400.5 L1952.0,402.4 L1952.3,404.4 L1952.7,406.4 L1953.0,408.4 L1953.3,410.3 L1953.7,412.3 L1954.0,414.3 L1954.4,416.2 L1954.8,418.2 L1955.1,420.2 L1955.5,422.1 L1955.9,424.1 L1956.2,426.1 L1956.6,428.0 L1957.0,430.0 L1957.3,432.0 L1957.7,433.9 L1958.0,435.9 L1958.4,437.9 L1958.8,439.8 L1959.1,441.8 L1959.5,443.8 L1959.9,445.7 L1960.2,447.7 L1960.6,449.7 L1961.0,451.6 L1961.3,453.6 L1961.7,455.6 L1962.1,457.5 L1962.4,459.5 L1962.8,461.5 L1963.1,463.4 L1963.5,465.4 L1963.9,467.4 L1964.2,469.3 L1964.6,471.3 L1965.0,473.3 L1965.3,475.2 L1965.7,477.2 L1966.1,479.2 L1966.4,481.1 L1966.8,483.1 L1967.2,485.1 L1967.5,487.0 L1967.9,489.0 L1968.2,491.0 L1968.6,492.9 L1969.0,494.9 L1969.3,496.9 L1969.7,498.8 L1970.1,500.8 L1970.4,502.8 L1970.8,504.7 L1971.2,506.7 L1971.5,508.7 L1971.9,510.6 L1972.3,512.6 L1972.7,514.5 L1973.2,516.5 L1973.6,518.4 L1974.1,520.4 L1974.6,522.3 L1975.1,524.3 L1975.6,526.2 L1976.0,528.1 L1976.5,530.1 L1977.0,532.0 L1977.5,534.0 L1978.0,535.9 L1978.4,537.8 L1978.9,539.8 L1979.3,541.7 L1979.8,543.7 L1980.2,545.6 L1980.7,547.6 L1981.1,549.5 L1981.5,551.5 L1982.0,553.4 L1982.4,555.4 L1982.9,557.3 L1983.3,559.3 L1983.7,561.3 L1984.2,563.2 L1984.6,565.2 L1985.1,567.1 L1985.5,569.1 L1985.9,571.0 L1986.4,573.0 L1986.8,574.9 L1987.3,576.9 L1987.7,578.8 L1988.1,580.8 L1988.6,582.7 L1989.0,584.7 L1989.4,586.6 L1989.8,588.6 L1990.2,590.5 L1990.6,592.5 L1991.0,594.5 L1991.4,596.4 L1991.8,598.4 L1992.2,600.3 L1992.7,602.3 L1993.2,604.2 L1993.7,606.1 L1994.3,608.1 L1994.9,610.0 L1995.4,611.9 L1996.0,613.8 L1996.6,615.7 L1997.2,617.6 L1997.8,619.5 L1998.4,621.4 L1999.0,623.4 L1999.6,625.3 L2000.2,627.2 L2000.7,629.1 L2001.3,631.0 L2001.9,632.9 L2002.6,634.8 L2003.2,636.7 L2003.8,638.6 L2004.4,640.5 L2005.1,642.4 L2005.7,644.3 L2006.3,646.2 L2007.0,648.1 L2007.7,650.0 L2008.3,651.9 L2009.0,653.7 L2009.7,655.6 L2010.4,657.5 L2011.1,659.4 L2011.8,661.2 L2012.6,663.1 L2013.4,664.9 L2014.2,666.7 L2015.1,668.5 L2015.9,670.3 L2016.9,672.1 L2017.9,673.7 L2019.0,675.3 L2020.3,676.8 L2021.6,678.2 L2023.1,679.4 L2024.7,680.4 L2026.4,681.1 L2028.2,681.4 L2030.0,681.4 L2031.9,681.1 L2033.7,680.5 L2035.4,679.7 L2037.2,678.8 L2038.9,677.8 L2040.5,676.7 L2042.2,675.6 L2043.8,674.4 L2045.4,673.2 L2047.1,672.0 L2048.7,670.9 L2050.3,669.7 L2051.9,668.5 L2053.5,667.3 L2055.1,666.1 L2056.7,664.9 L2058.3,663.7 L2059.9,662.5 L2061.5,661.3 L2063.1,660.1 L2064.7,658.8 L2066.2,657.6 L2067.8,656.4 L2069.3,655.1 L2070.8,653.8 L2072.2,652.4 L2073.6,650.9 L2074.9,649.4 L2076.2,647.9 L2077.4,646.3 L2078.6,644.7 L2079.7,643.1 L2080.8,641.4 L2081.8,639.7 L2082.9,638.0 L2083.9,636.2 L2084.8,634.5 L2085.8,632.7 L2086.7,631.0 L2087.6,629.2 L2088.5,627.4 L2089.4,625.6 L2090.3,623.8 L2091.3,622.1 L2092.2,620.3 L2093.2,618.6 L2094.2,616.8 L2095.1,615.1 L2096.1,613.3 L2097.1,611.6 L2098.0,609.8 L2099.0,608.1 L2099.9,606.3 L2100.8,604.5 L2101.5,602.7 L2102.1,600.8 L2102.6,598.9 L2103.1,597.0 L2103.6,595.0 L2104.1,593.1 L2104.7,591.2 L2105.4,589.4 L2106.2,587.5 L2107.0,585.7 L2107.8,583.9 L2108.6,582.1 L2109.4,580.3 L2110.2,578.4 L2111.0,576.6 L2111.8,574.7 L2112.5,572.9 L2113.2,571.0 L2113.9,569.1 L2114.6,567.3 L2115.3,565.4 L2116.0,563.5 L2116.7,561.6 L2117.4,559.8 L2118.1,557.9 L2118.8,556.0 L2119.5,554.1 L2120.2,552.3 L2120.8,550.4 L2121.5,548.5 L2122.2,546.6 L2122.9,544.7 L2123.5,542.8 L2124.2,541.0 L2124.9,539.1 L2125.6,537.2 L2126.2,535.3 L2126.9,533.4 L2127.6,531.5 L2128.2,529.6 L2128.9,527.8 L2129.6,525.9 L2130.2,524.0 L2130.8,522.1 L2131.4,520.2 L2132.0,518.3 L2132.6,516.4 L2133.2,514.4 L2133.8,512.5 L2134.3,510.6 L2134.9,508.7 L2135.4,506.7 L2135.8,504.8 L2136.3,502.9 L2136.7,500.9 L2137.1,498.9 L2137.5,497.0 L2138.0,495.0 L2138.4,493.1 L2138.8,491.1 L2139.2,489.2 L2139.6,487.2 L2140.0,485.3 L2140.5,483.3 L2140.9,481.3 L2141.3,479.4 L2141.7,477.4 L2142.1,475.5 L2142.5,473.5 L2142.9,471.6 L2143.4,469.6 L2143.8,467.6 L2144.2,465.7 L2144.6,463.7 L2145.0,461.8 L2145.4,459.8 L2145.9,457.9 L2146.3,455.9 L2146.7,454.0 L2147.1,452.0 L2147.5,450.0 L2147.9,448.1 L2148.4,446.1 L2148.8,444.2 L2149.2,442.2 L2149.6,440.3 L2150.0,438.3 L2150.4,436.3 L2150.9,434.4 L2151.3,432.4 L2151.7,430.5 L2152.1,428.5 L2152.5,426.6 L2152.9,424.6 L2153.4,422.7 L2153.8,420.7 L2154.2,418.7 L2154.6,416.8 L2155.0,414.8 L2155.4,412.9 L2155.9,410.9 L2156.3,409.0 L2156.8,407.0 L2157.2,405.1 L2157.8,403.2 L2158.3,401.2 L2158.9,399.3 L2159.5,397.4 L2160.1,395.5 L2160.7,393.6 L2161.3,391.7 L2161.9,389.8 L2162.5,387.9 L2163.0,385.9 L2163.6,384.0 L2164.2,382.1 L2164.8,380.2 L2165.3,378.3 L2165.9,376.4 L2166.4,374.4 L2167.0,372.5 L2167.6,370.6 L2168.2,368.7 L2168.7,366.8 L2169.3,364.9 L2169.9,363.0 L2170.6,361.1 L2171.2,359.2 L2171.8,357.3 L2172.4,355.4 L2173.1,353.5 L2173.7,351.6 L2174.4,349.7 L2175.0,347.8 L2175.7,345.9 L2176.4,344.0 L2177.1,342.2 L2177.8,340.3 L2178.5,338.4 L2179.3,336.6 L2180.0,334.7 L2180.7,332.8 L2181.5,331.0 L2182.2,329.1 L2183.0,327.3 L2183.7,325.4 L2184.5,323.6 L2185.3,321.7 L2186.0,319.9 L2186.8,318.0 L2187.5,316.2 L2188.3,314.3 L2189.0,312.5 L2189.8,310.6 L2190.5,308.8 L2191.2,306.9 L2192.0,305.0 L2192.7,303.2 L2193.4,301.3 L2194.2,299.5 L2194.9,297.6 L2195.6,295.7 L2196.4,293.9 L2197.2,292.0 L2198.0,290.2 L2198.8,288.4 L2199.7,286.6 L2200.6,284.8 L2201.5,283.0 L2202.4,281.2 L2203.3,279.4 L2204.2,277.7 L2205.0,275.9 L2205.9,274.1 L2206.8,272.3 L2207.7,270.5 L2208.6,268.7 L2209.5,266.9 L2210.4,265.1 L2211.3,263.4 L2212.3,261.6 L2213.2,259.8 L2214.1,258.1 L2215.1,256.3 L2216.1,254.5 L2217.0,252.8 L2218.0,251.0 L2219.0,249.3 L2220.0,247.6 L2221.0,245.8 L2222.0,244.1 L2223.0,242.4 L2224.1,240.7 L2225.1,239.0 L2226.2,237.3 L2227.4,235.7 L2228.5,234.1 L2229.7,232.5 L2230.9,230.9 L2232.2,229.3 L2233.5,227.9 L2234.9,226.5 L2236.4,225.1 L2237.9,223.9 L2239.5,222.7 L2241.2,221.6 L2242.9,220.5 L2244.6,219.6 L2246.4,218.7 L2248.2,218.0 L2250.1,217.3 L2252.0,216.7 L2253.9,216.3 L2255.9,215.9 L2257.8,215.7 L2259.8,215.6 L2261.8,215.6 L2263.7,215.8 L2265.7,216.1 L2267.6,216.6 L2269.4,217.2 L2271.1,218.0 L2272.8,219.0 L2274.3,220.2 L2275.8,221.5 L2277.1,223.0 L2278.4,224.5 L2279.7,226.0 L2280.8,227.6 L2282.0,229.3 L2283.1,230.9 L2284.2,232.6 L2285.2,234.3 L2286.2,236.0 L2287.2,237.8 L2288.2,239.5 L2289.2,241.2 L2290.1,243.0 L2291.0,244.8 L2291.9,246.6 L2292.7,248.4 L2293.4,250.3 L2294.2,252.1 L2294.9,254.0 L2295.7,255.8 L2296.4,257.7 L2297.2,259.6 L2297.9,261.4 L2298.7,263.3 L2299.4,265.1 L2300.2,267.0 L2301.0,268.8 L2301.8,270.6 L2302.7,272.4 L2303.5,274.2 L2304.4,276.0 L2305.4,277.8 L2306.3,279.5 L2307.3,281.2 L2308.4,282.9 L2309.5,284.6 L2310.7,286.2 L2311.9,287.7 L2313.3,289.1 L2314.8,290.3 L2316.4,291.4 L2318.1,292.2 L2319.9,292.8 L2321.7,293.2 L2323.6,293.2 L2325.5,293.0 L2327.4,292.6 L2329.2,291.9 L2331.0,291.1 L2332.7,290.1 L2334.4,289.1 L2336.0,287.9 L2337.6,286.7 L2339.1,285.4 L2340.5,284.0 L2342.0,282.6 L2343.4,281.2 L2344.8,279.8 L2346.1,278.4 L2347.5,276.9 L2348.9,275.4 L2350.2,273.9 L2351.6,272.5 L2352.9,271.0 L2354.2,269.5 L2355.6,268.0 L2356.9,266.6 L2358.3,265.1 L2359.7,263.7 L2361.1,262.3 L2362.6,260.9 L2364.0,259.5 L2365.5,258.3 L2367.1,257.2 L2368.6,256.3 L2370.2,255.8 L2371.8,255.8 L2373.3,256.3 L2374.7,257.3 L2376.0,258.6 L2377.1,260.1 L2378.1,261.8 L2379.1,263.5 L2380.0,265.3 L2380.9,267.1 L2381.7,268.9 L2382.5,270.7 L2383.2,272.6 L2383.9,274.5 L2384.7,276.3 L2385.4,278.2 L2386.0,280.1 L2386.7,282.0 L2387.4,283.8 L2388.0,285.7 L2388.6,287.6 L2389.3,289.5 L2389.9,291.4 L2390.5,293.3 L2391.1,295.3 L2391.6,297.2 L2392.2,299.1 L2392.7,301.0 L2393.2,303.0 L2393.7,304.9 L2394.3,306.8 L2394.8,308.8 L2395.3,310.7 L2395.8,312.6 L2396.3,314.6 L2396.8,316.5 L2397.4,318.4 L2397.9,320.3 L2398.4,322.3 L2398.9,324.2 L2399.5,326.1 L2400.1,328.0 L2400.7,329.9 L2401.2,331.9 L2401.8,333.8 L2402.4,335.7 L2403.0,337.6 L2403.6,339.5 L2404.1,341.4 L2404.6,343.4 L2405.0,345.3 L2405.5,347.3 L2405.9,349.2 L2406.3,351.2 L2406.7,353.2 L2407.1,355.1 L2407.4,357.1 L2407.8,359.0 L2408.2,361.0 L2408.6,363.0 L2409.0,364.9 L2409.4,366.9 L2409.7,368.9 L2410.1,370.8 L2410.5,372.8 L2410.8,374.8 L2411.2,376.7 L2411.5,378.7 L2411.9,380.7 L2412.2,382.6 L2412.5,384.6 L2412.8,386.6 L2413.1,388.6 L2413.3,390.5 L2413.5,392.5 L2413.8,394.5 L2414.0,396.5 L2414.2,398.5 L2414.4,400.5 L2414.6,402.5 L2414.8,404.5 L2415.0,406.5 L2415.2,408.4 L2415.4,410.4 L2415.6,412.4 L2415.8,414.4 L2416.0,416.4 L2416.2,418.4 L2416.4,420.4 L2416.6,422.4 L2416.8,424.3 L2417.1,426.2 L2417.4,428.1 L2417.8,429.8 L2418.2,431.6 L2418.7,433.4 L2419.1,435.3 L2419.4,437.2 L2419.8,439.1 L2420.1,441.1 L2420.4,443.1 L2420.7,445.0 L2421.0,447.0 L2421.3,449.0 L2421.7,451.0 L2422.0,452.9 L2422.4,454.9 L2422.8,456.9 L2423.2,458.8 L2423.7,460.8 L2424.1,462.7 L2424.6,464.6 L2425.0,466.6 L2425.5,468.5 L2425.9,470.5 L2426.4,472.4 L2426.8,474.4 L2427.3,476.3 L2427.8,478.3 L2428.2,480.2 L2428.7,482.2 L2429.1,484.1 L2429.6,486.1 L2430.0,488.0 L2430.5,490.0 L2430.9,491.9 L2431.4,493.9 L2431.8,495.8 L2432.3,497.8 L2432.7,499.7 L2433.2,501.7 L2433.7,503.6 L2434.1,505.6 L2434.6,507.5 L2435.0,509.4 L2435.5,511.4 L2435.9,513.3 L2436.4,515.3 L2436.8,517.2 L2437.3,519.2 L2437.7,521.1 L2438.2,523.1 L2438.6,525.0 L2439.1,527.0 L2439.5,528.9 L2439.9,530.9 L2440.3,532.9 L2440.7,534.8 L2441.1,536.8 L2441.4,538.7 L2441.8,540.7 L2442.2,542.7 L2442.6,544.6 L2443.0,546.6 L2443.4,548.6 L2443.8,550.5 L2444.2,552.5 L2444.5,554.4 L2444.9,556.3 L2445.2,558.1 L2445.5,559.6 L2445.7,560.8 L2445.7,560.8"/>
<path stroke="#ed7d31" d="M150.6,576.6 L151.0,577.7 L151.5,579.2 L152.1,580.9 L152.6,582.7 L153.2,584.6 L153.7,586.5 L154.2,588.5 L154.7,590.4 L155.2,592.4 L155.7,594.3 L156.2,596.2 L156.7,598.1 L157.3,600.1 L157.9,602.0 L158.5,603.9 L159.1,605.8 L159.8,607.7 L160.4,609.6 L161.0,611.5 L161.7,613.4 L162.3,615.3 L162.9,617.2 L163.5,619.1 L164.1,621.0 L164.6,622.9 L165.2,624.8 L165.7,626.7 L166.3,628.7 L166.9,630.6 L167.4,632.5 L168.0,634.4 L168.7,636.3 L169.4,638.2 L170.1,640.1 L170.8,641.9 L171.5,643.8 L172.2,645.7 L172.9,647.5 L173.6,649.4 L174.3,651.3 L175.1,653.1 L175.8,655.0 L176.5,656.9 L177.2,658.7 L178.0,660.6 L178.7,662.4 L179.5,664.3 L180.3,666.1 L181.2,667.9 L182.1,669.7 L183.0,671.4 L184.1,673.1 L185.2,674.7 L186.4,676.2 L187.8,677.5 L189.4,678.5 L191.1,679.3 L192.9,679.9 L194.7,680.1 L196.7,680.2 L198.6,680.0 L200.6,679.7 L202.5,679.3 L204.4,678.8 L206.4,678.3 L208.3,677.7 L210.2,677.0 L212.0,676.4 L213.9,675.7 L215.8,675.0 L217.6,674.2 L219.4,673.3 L221.1,672.4 L222.8,671.4 L224.5,670.2 L226.0,669.0 L227.5,667.7 L228.9,666.3 L230.3,664.9 L231.6,663.4 L232.9,661.8 L234.2,660.3 L235.4,658.7 L236.6,657.1 L237.8,655.6 L239.0,653.9 L240.2,652.3 L241.3,650.6 L242.3,649.0 L243.3,647.2 L244.3,645.5 L245.3,643.8 L246.2,642.0 L247.2,640.2 L248.1,638.4 L248.9,636.6 L249.8,634.8 L250.6,633.0 L251.4,631.2 L252.1,629.3 L252.9,627.5 L253.7,625.6 L254.5,623.8 L255.3,622.0 L256.1,620.1 L256.9,618.3 L257.7,616.5 L258.6,614.7 L259.4,612.8 L260.2,611.0 L261.1,609.2 L261.9,607.4 L262.7,605.6 L263.6,603.8 L264.4,602.0 L265.3,600.1 L266.1,598.3 L267.0,596.5 L267.7,594.7 L268.5,592.8 L269.2,591.0 L269.8,589.1 L270.4,587.2 L271.0,585.3 L271.6,583.3 L272.1,581.4 L272.7,579.5 L273.3,577.6 L273.9,575.7 L274.4,573.8 L275.0,571.8 L275.6,569.9 L276.2,568.0 L276.9,566.1 L277.5,564.2 L278.1,562.3 L278.8,560.4 L279.4,558.5 L280.0,556.6 L280.7,554.8 L281.3,552.9 L281.9,551.0 L282.6,549.1 L283.2,547.2 L283.8,545.3 L284.5,543.4 L285.1,541.5 L285.7,539.6 L286.3,537.7 L286.9,535.8 L287.5,533.8 L288.1,531.9 L288.6,530.0 L289.2,528.1 L289.7,526.2 L290.2,524.2 L290.8,522.3 L291.3,520.4 L291.9,518.4 L292.4,516.5 L293.0,514.6 L293.5,512.7 L294.1,510.8 L294.6,508.8 L295.2,506.9 L295.7,505.0 L296.2,503.1 L296.8,501.1 L297.3,499.2 L297.8,497.3 L298.3,495.3 L298.8,493.4 L299.3,491.5 L299.8,489.5 L300.3,487.6 L300.8,485.7 L301.3,483.7 L301.8,481.8 L302.3,479.8 L302.8,477.9 L303.3,476.0 L303.8,474.0 L304.3,472.1 L304.8,470.2 L305.3,468.2 L305.8,466.3 L306.3,464.3 L306.8,462.4 L307.3,460.5 L307.8,458.5 L308.3,456.6 L308.8,454.7 L309.3,452.7 L309.8,450.8 L310.3,448.9 L310.8,446.9 L311.3,445.0 L311.8,443.0 L312.3,441.1 L312.8,439.2 L313.3,437.2 L313.8,435.3 L314.3,433.4 L314.8,431.4 L315.3,429.5 L315.8,427.5 L316.3,425.6 L316.8,423.7 L317.3,421.7 L317.8,419.8 L318.3,417.9 L318.8,415.9 L319.3,414.0 L319.8,412.1 L320.3,410.1 L320.8,408.2 L321.3,406.3 L321.9,404.4 L322.5,402.5 L323.2,400.6 L323.9,398.7 L324.5,396.8 L325.2,394.9 L325.9,393.0 L326.6,391.2 L327.2,389.3 L327.9,387.4 L328.6,385.5 L329.3,383.6 L330.0,381.8 L330.8,379.9 L331.5,378.1 L332.2,376.2 L333.0,374.3 L333.7,372.5 L334.5,370.6 L335.2,368.8 L336.0,366.9 L336.8,365.1 L337.7,363.3 L338.5,361.5 L339.4,359.7 L340.3,357.9 L341.2,356.1 L342.1,354.3 L343.0,352.6 L343.9,350.8 L344.9,349.0 L345.8,347.3 L346.8,345.5 L347.9,343.8 L348.9,342.1 L350.0,340.4 L351.0,338.7 L352.1,337.0 L353.1,335.3 L354.1,333.6 L355.2,331.9 L356.2,330.2 L357.3,328.5 L358.3,326.8 L359.4,325.1 L360.4,323.4 L361.4,321.7 L362.4,319.9 L363.3,318.2 L364.1,316.4 L364.9,314.5 L365.5,312.6 L366.1,310.7 L366.6,308.8 L367.1,306.9 L367.7,304.9 L368.2,303.0 L368.7,301.1 L369.3,299.2 L369.8,297.2 L370.3,295.3 L370.8,293.4 L371.3,291.4 L371.7,289.5 L372.1,287.5 L372.4,285.5 L372.7,283.6 L372.9,281.6 L373.3,279.7 L373.8,277.8 L374.4,276.0 L375.3,274.2 L376.3,272.5 L377.4,270.9 L378.6,269.3 L379.9,267.8 L381.3,266.4 L382.7,265.0 L384.2,263.7 L385.7,262.4 L387.3,261.2 L388.9,260.1 L390.5,259.0 L392.0,257.8 L393.4,256.4 L394.6,254.9 L395.6,253.3 L396.4,251.5 L397.1,249.7 L397.7,247.8 L398.2,245.9 L398.8,244.0 L399.4,242.1 L400.2,240.3 L401.1,238.6 L402.2,237.0 L403.5,235.5 L404.9,234.2 L406.4,233.0 L408.0,231.8 L409.6,230.6 L411.1,229.4 L412.5,228.0 L413.9,226.6 L415.1,225.1 L416.2,223.5 L417.3,221.9 L418.5,220.3 L419.8,218.9 L421.2,217.7 L422.8,216.7 L424.5,216.0 L426.3,215.7 L428.1,215.8 L429.9,216.2 L431.7,216.9 L433.4,217.9 L435.0,218.9 L436.6,220.1 L438.1,221.4 L439.7,222.7 L441.1,224.0 L442.6,225.4 L444.0,226.8 L445.4,228.2 L446.8,229.7 L448.1,231.1 L449.4,232.7 L450.5,234.3 L451.5,235.9 L452.3,237.7 L452.9,239.5 L453.3,241.4 L453.6,243.4 L453.8,245.4 L454.0,247.3 L454.2,249.3 L454.4,251.3 L454.6,253.3 L454.8,255.3 L455.0,257.3 L455.3,259.2 L455.8,261.1 L456.5,262.9 L457.3,264.6 L458.4,266.2 L459.6,267.7 L461.0,269.0 L462.6,270.2 L464.3,271.1 L466.0,271.9 L467.9,272.6 L469.7,273.0 L471.6,273.2 L473.4,273.1 L475.2,272.6 L476.8,271.8 L478.4,270.7 L479.8,269.4 L481.2,268.0 L482.5,266.5 L483.7,265.0 L484.9,263.4 L486.1,261.8 L487.4,260.2 L488.6,258.7 L489.9,257.1 L491.1,255.6 L492.4,254.0 L493.5,252.4 L494.6,250.7 L495.7,249.0 L496.7,247.3 L497.7,245.6 L498.7,243.9 L499.7,242.2 L500.9,240.6 L502.1,239.1 L503.4,237.9 L505.0,237.0 L506.7,236.4 L508.5,236.0 L510.5,235.8 L512.4,235.7 L514.4,235.7 L516.4,235.8 L518.4,235.9 L520.4,236.2 L522.3,236.6 L524.1,237.2 L525.8,238.0 L527.5,239.1 L529.0,240.2 L530.5,241.6 L531.8,243.0 L533.1,244.5 L534.3,246.1 L535.4,247.7 L536.5,249.4 L537.6,251.1 L538.5,252.9 L539.4,254.6 L540.2,256.4 L541.0,258.3 L541.6,260.1 L542.0,262.1 L542.3,264.0 L542.6,266.0 L542.8,268.0 L543.0,269.9 L543.3,271.9 L543.7,273.9 L544.1,275.8 L544.7,277.7 L545.3,279.6 L545.9,281.5 L546.5,283.4 L547.2,285.3 L547.8,287.2 L548.4,289.1 L548.9,291.0 L549.4,293.0 L549.8,294.9 L550.2,296.9 L550.6,298.8 L550.9,300.8 L551.3,302.8 L551.7,304.7 L552.1,306.7 L552.4,308.7 L552.8,310.6 L553.2,312.6 L553.6,314.5 L554.0,316.5 L554.5,318.4 L554.9,320.4 L555.5,322.3 L556.0,324.2 L556.5,326.2 L557.1,328.1 L557.6,330.0 L558.2,331.9 L558.7,333.9 L559.3,335.8 L559.8,337.7 L560.4,339.6 L560.9,341.6 L561.5,343.5 L562.0,345.4 L562.5,347.3 L563.0,349.3 L563.5,351.2 L564.0,353.1 L564.5,355.1 L565.1,357.0 L565.5,358.9 L566.0,360.9 L566.5,362.8 L567.0,364.8 L567.4,366.7 L567.9,368.7 L568.3,370.6 L568.8,372.6 L569.2,374.5 L569.7,376.5 L570.1,378.4 L570.5,380.4 L571.0,382.3 L571.4,384.3 L571.8,386.2 L572.2,388.2 L572.6,390.2 L573.1,392.1 L573.5,394.1 L573.9,396.0 L574.4,397.9 L574.9,399.9 L575.4,401.8 L575.9,403.8 L576.4,405.7 L576.8,407.6 L577.3,409.6 L577.8,411.5 L578.3,413.5 L578.8,415.4 L579.3,417.3 L579.8,419.3 L580.3,421.2 L580.8,423.2 L581.3,425.1 L581.7,427.0 L582.2,429.0 L582.7,430.9 L583.2,432.9 L583.7,434.8 L584.2,436.7 L584.7,438.7 L585.2,440.6 L585.7,442.6 L586.2,444.5 L586.6,446.4 L587.1,448.4 L587.6,450.3 L588.1,452.2 L588.6,454.2 L589.1,456.1 L589.6,458.1 L590.1,460.0 L590.6,461.9 L591.1,463.9 L591.5,465.8 L592.0,467.8 L592.5,469.7 L593.0,471.6 L593.5,473.6 L594.0,475.5 L594.5,477.5 L595.0,479.4 L595.5,481.3 L596.0,483.3 L596.4,485.2 L596.9,487.2 L597.4,489.1 L597.9,491.0 L598.4,493.0 L598.9,494.9 L599.4,496.8 L599.9,498.8 L600.4,500.7 L600.8,502.7 L601.3,504.6 L601.8,506.5 L602.3,508.5 L602.8,510.4 L603.3,512.4 L603.7,514.3 L604.1,516.3 L604.5,518.2 L604.9,520.2 L605.3,522.1 L605.7,524.1 L606.1,526.1 L606.5,528.0 L606.9,530.0 L607.3,532.0 L607.7,533.9 L608.1,535.9 L608.5,537.8 L609.0,539.8 L609.5,541.7 L609.9,543.7 L610.4,545.6 L610.9,547.5 L611.4,549.5 L611.9,551.4 L612.3,553.4 L612.8,555.3 L613.3,557.2 L613.8,559.2 L614.3,561.1 L614.8,563.0 L615.3,565.0 L615.8,566.9 L616.4,568.9 L616.9,570.8 L617.4,572.7 L617.9,574.6 L618.4,576.6 L619.0,578.5 L619.6,580.4 L620.2,582.3 L620.9,584.2 L621.6,586.0 L622.3,587.9 L623.0,589.8 L623.8,591.6 L624.5,593.5 L625.3,595.3 L626.1,597.1 L627.0,598.9 L627.9,600.7 L628.8,602.5 L629.7,604.3 L630.7,606.0 L631.6,607.8 L632.6,609.5 L633.6,611.3 L634.7,613.0 L635.7,614.7 L636.8,616.3 L637.9,618.0 L639.1,619.6 L640.3,621.2 L641.6,622.7 L642.9,624.3 L644.2,625.8 L645.5,627.2 L646.9,628.7 L648.3,630.1 L649.7,631.5 L651.2,632.8 L652.7,634.1 L654.3,635.2 L656.0,636.1 L657.7,636.7 L659.5,637.1 L661.3,637.1 L663.1,636.7 L664.8,636.0 L666.6,635.2 L668.3,634.2 L670.0,633.2 L671.7,632.1 L673.4,631.1 L675.1,630.1 L676.9,629.1 L678.7,628.2 L680.5,627.4 L682.3,626.6 L684.2,625.9 L686.1,625.4 L688.0,625.0 L689.9,624.8 L691.8,624.8 L693.8,624.8 L695.8,624.8 L697.7,624.8 L699.7,624.6 L701.6,624.3 L703.5,623.8 L705.4,623.2 L707.1,622.3 L708.8,621.3 L710.3,620.1 L711.8,618.8 L713.1,617.4 L714.3,615.8 L715.4,614.2 L716.5,612.5 L717.4,610.7 L718.3,609.0 L719.2,607.1 L720.0,605.3 L720.8,603.5 L721.5,601.6 L722.3,599.8 L723.0,597.9 L723.6,596.0 L724.3,594.1 L724.9,592.2 L725.5,590.3 L726.0,588.4 L726.6,586.5 L727.2,584.6 L727.9,582.7 L728.5,580.8 L729.1,578.9 L729.8,577.0 L730.4,575.1 L731.0,573.2 L731.7,571.3 L732.3,569.4 L733.0,567.5 L733.7,565.7 L734.4,563.8 L735.1,561.9 L735.8,560.0 L736.5,558.2 L737.1,556.3 L737.8,554.4 L738.5,552.5 L739.2,550.6 L739.9,548.8 L740.5,546.9 L741.2,545.0 L741.8,543.1 L742.5,541.2 L743.1,539.3 L743.8,537.4 L744.4,535.5 L745.0,533.6 L745.7,531.7 L746.3,529.8 L746.9,527.9 L747.6,526.0 L748.2,524.1 L748.8,522.2 L749.4,520.3 L750.1,518.4 L750.7,516.5 L751.3,514.6 L752.0,512.7 L752.6,510.8 L753.2,508.9 L753.7,507.0 L754.3,505.1 L754.9,503.2 L755.4,501.2 L756.0,499.3 L756.5,497.4 L757.1,495.5 L757.6,493.6 L758.2,491.6 L758.7,489.7 L759.3,487.8 L759.8,485.9 L760.4,483.9 L760.9,482.0 L761.5,480.1 L762.0,478.2 L762.5,476.2 L763.1,474.3 L763.6,472.4 L764.2,470.5 L764.7,468.6 L765.3,466.6 L765.8,464.7 L766.4,462.8 L766.9,460.9 L767.5,458.9 L768.0,457.0 L768.6,455.1 L769.1,453.2 L769.7,451.2 L770.2,449.3 L770.8,447.4 L771.3,445.5 L771.9,443.5 L772.4,441.6 L773.0,439.7 L773.5,437.8 L774.1,435.9 L774.6,433.9 L775.2,432.0 L775.7,430.1 L776.3,428.2 L776.8,426.2 L777.4,424.3 L777.9,422.4 L778.4,420.5 L779.0,418.5 L779.5,416.6 L780.1,414.7 L780.6,412.8 L781.2,410.9 L781.7,408.9 L782.3,407.0 L782.9,405.1 L783.4,403.2 L784.0,401.2 L784.5,399.3 L785.1,397.4 L785.7,395.5 L786.2,393.6 L786.8,391.7 L787.4,389.7 L788.0,387.8 L788.6,385.9 L789.2,384.0 L789.8,382.1 L790.4,380.2 L791.1,378.3 L791.7,376.4 L792.3,374.5 L793.0,372.6 L793.6,370.7 L794.2,368.8 L794.9,366.9 L795.5,365.1 L796.2,363.2 L796.9,361.3 L797.6,359.4 L798.3,357.6 L799.0,355.7 L799.7,353.8 L800.4,351.9 L801.1,350.1 L801.9,348.2 L802.7,346.4 L803.5,344.5 L804.3,342.7 L805.2,340.9 L806.1,339.1 L807.0,337.4 L807.8,335.6 L808.7,333.8 L809.6,332.0 L810.5,330.2 L811.4,328.4 L812.3,326.6 L813.2,324.8 L814.1,323.0 L815.0,321.3 L815.9,319.5 L816.8,317.7 L817.7,315.9 L818.6,314.1 L819.6,312.4 L820.5,310.6 L821.5,308.8 L822.4,307.1 L823.3,305.3 L824.3,303.5 L825.3,301.8 L826.2,300.0 L827.2,298.3 L828.1,296.5 L829.2,294.8 L830.2,293.1 L831.3,291.4 L832.4,289.8 L833.6,288.2 L834.8,286.6 L836.1,285.1 L837.4,283.6 L838.8,282.1 L840.2,280.7 L841.6,279.3 L843.1,277.9 L844.5,276.6 L846.1,275.3 L847.6,274.1 L849.3,273.0 L850.9,272.0 L852.7,271.1 L854.5,270.2 L856.3,269.5 L858.2,268.8 L860.1,268.1 L862.0,267.4 L863.8,266.7 L865.7,266.0 L867.6,265.2 L869.4,264.5 L871.3,263.8 L873.2,263.1 L875.1,262.4 L876.9,261.7 L878.8,261.0 L880.7,260.3 L882.6,259.6 L884.4,259.0 L886.3,258.3 L888.2,257.7 L890.1,257.1 L892.1,256.6 L894.0,256.3 L895.9,256.0 L897.9,255.9 L899.9,256.0 L901.9,256.2 L903.8,256.5 L905.7,256.9 L907.7,257.5 L909.6,258.1 L911.4,258.8 L913.2,259.6 L915.0,260.5 L916.7,261.5 L918.5,262.5 L920.2,263.5 L921.8,264.6 L923.5,265.8 L925.1,266.9 L926.7,268.1 L928.2,269.4 L929.7,270.7 L931.2,272.0 L932.6,273.4 L934.1,274.8 L935.6,276.1 L937.1,277.4 L938.7,278.6 L940.3,279.6 L942.0,280.3 L943.8,280.8 L945.7,281.1 L947.6,281.1 L949.6,280.9 L951.5,280.6 L953.5,280.2 L955.4,279.6 L957.3,279.0 L959.1,278.2 L960.8,277.3 L962.3,276.2 L963.7,274.9 L964.9,273.5 L966.0,271.9 L966.9,270.2 L967.9,268.4 L968.8,266.7 L969.9,265.0 L971.0,263.3 L972.2,261.7 L973.4,260.2 L974.8,258.8 L976.2,257.4 L977.8,256.2 L979.4,255.1 L981.0,254.0 L982.8,253.1 L984.6,252.3 L986.4,251.7 L988.3,251.3 L990.1,251.2 L991.9,251.4 L993.6,252.0 L995.1,253.0 L996.5,254.2 L997.8,255.7 L998.9,257.3 L1000.0,258.9 L1001.0,260.7 L1001.9,262.4 L1002.8,264.2 L1003.6,266.0 L1004.4,267.9 L1005.2,269.7 L1006.0,271.5 L1006.7,273.4 L1007.5,275.3 L1008.2,277.1 L1008.8,279.0 L1009.5,280.9 L1010.1,282.8 L1010.8,284.7 L1011.4,286.6 L1012.0,288.5 L1012.6,290.4 L1013.1,292.3 L1013.7,294.2 L1014.2,296.2 L1014.7,298.1 L1015.2,300.1 L1015.7,302.0 L1016.2,303.9 L1016.7,305.9 L1017.2,307.8 L1017.7,309.7 L1018.1,311.7 L1018.5,313.6 L1018.9,315.6 L1019.3,317.6 L1019.6,319.5 L1019.9,321.5 L1020.2,323.5 L1020.5,325.5 L1020.8,327.4 L1021.1,329.4 L1021.3,331.4 L1021.6,333.4 L1021.9,335.4 L1022.2,337.3 L1022.5,339.3 L1022.8,341.3 L1023.1,343.3 L1023.4,345.3 L1023.7,347.2 L1024.0,349.2 L1024.4,351.2 L1024.7,353.1 L1025.1,355.1 L1025.4,357.1 L1025.8,359.1 L1026.1,361.0 L1026.5,363.0 L1026.8,365.0 L1027.1,366.9 L1027.5,368.9 L1027.8,370.9 L1028.1,372.9 L1028.5,374.8 L1028.8,376.8 L1029.1,378.8 L1029.5,380.7 L1029.8,382.7 L1030.1,384.7 L1030.4,386.7 L1030.8,388.6 L1031.1,390.6 L1031.4,392.6 L1031.8,394.6 L1032.1,396.5 L1032.4,398.5 L1032.7,400.5 L1033.1,402.4 L1033.4,404.4 L1033.7,406.4 L1034.1,408.4 L1034.4,410.3 L1034.7,412.3 L1035.0,414.3 L1035.4,416.3 L1035.7,418.2 L1036.0,420.2 L1036.3,422.2 L1036.6,424.2 L1036.9,426.1 L1037.2,428.1 L1037.5,430.1 L1037.8,432.1 L1038.2,434.0 L1038.5,436.0 L1038.8,438.0 L1039.1,440.0 L1039.4,441.9 L1039.7,443.9 L1040.0,445.9 L1040.3,447.9 L1040.6,449.8 L1040.9,451.8 L1041.3,453.8 L1041.6,455.8 L1041.9,457.7 L1042.2,459.7 L1042.5,461.7 L1042.8,463.7 L1043.1,465.6 L1043.4,467.6 L1043.7,469.6 L1044.0,471.6 L1044.4,473.6 L1044.7,475.5 L1045.0,477.5 L1045.3,479.5 L1045.6,481.5 L1045.9,483.4 L1046.2,485.4 L1046.5,487.4 L1046.8,489.4 L1047.2,491.3 L1047.5,493.3 L1047.8,495.3 L1048.1,497.3 L1048.4,499.2 L1048.7,501.2 L1049.0,503.2 L1049.3,505.2 L1049.6,507.1 L1049.9,509.1 L1050.3,511.1 L1050.6,513.1 L1051.0,515.0 L1051.3,517.0 L1051.7,519.0 L1052.1,520.9 L1052.5,522.9 L1052.9,524.8 L1053.3,526.8 L1053.7,528.8 L1054.1,530.7 L1054.4,532.7 L1054.8,534.6 L1055.2,536.6 L1055.7,538.6 L1056.1,540.5 L1056.5,542.5 L1056.9,544.4 L1057.4,546.4 L1057.8,548.3 L1058.3,550.3 L1058.7,552.2 L1059.1,554.2 L1059.6,556.1 L1060.0,558.1 L1060.5,560.0 L1060.9,562.0 L1061.3,563.9 L1061.8,565.9 L1062.2,567.8 L1062.7,569.8 L1063.1,571.7 L1063.5,573.7 L1064.0,575.6 L1064.4,577.6 L1064.8,579.5 L1065.3,581.5 L1065.8,583.4 L1066.2,585.4 L1066.7,587.3 L1067.2,589.3 L1067.8,591.2 L1068.3,593.1 L1068.8,595.0 L1069.4,597.0 L1069.9,598.9 L1070.5,600.8 L1071.0,602.7 L1071.5,604.7 L1072.1,606.6 L1072.6,608.5 L1073.1,610.4 L1073.6,612.4 L1074.1,614.3 L1074.6,616.3 L1075.0,618.2 L1075.5,620.2 L1075.9,622.1 L1076.3,624.1 L1076.8,626.0 L1077.2,628.0 L1077.6,629.9 L1078.0,631.9 L1078.4,633.8 L1078.8,635.8 L1079.1,637.8 L1079.5,639.8 L1079.8,641.7 L1080.2,643.7 L1080.5,645.7 L1080.8,647.6 L1081.1,649.6 L1081.5,651.6 L1081.9,653.5 L1082.2,655.5 L1082.7,657.5 L1083.1,659.4 L1083.6,661.4 L1084.1,663.3 L1084.5,665.2 L1085.0,667.2 L1085.5,669.1 L1086.0,671.1 L1086.5,673.0 L1087.0,674.9 L1087.5,676.9 L1088.1,678.8 L1088.6,680.7 L1089.2,682.6 L1089.7,684.6 L1090.3,686.5 L1090.8,688.4 L1091.4,690.3 L1092.0,692.2 L1092.6,694.1 L1093.3,696.0 L1093.9,697.9 L1094.6,699.8 L1095.3,701.7 L1096.0,703.5 L1096.7,705.4 L1097.4,707.2 L1098.2,709.1 L1099.1,710.9 L1100.0,712.6 L1101.0,714.4 L1102.1,716.0 L1103.2,717.6 L1104.5,718.9 L1106.0,720.0 L1107.6,720.8 L1109.3,721.1 L1111.0,721.1 L1112.7,720.6 L1114.3,719.8 L1115.8,718.7 L1117.2,717.3 L1118.5,715.8 L1119.7,714.3 L1120.8,712.6 L1121.9,711.0 L1123.0,709.3 L1124.1,707.6 L1125.2,706.0 L1126.2,704.3 L1127.3,702.5 L1128.3,700.8 L1129.3,699.1 L1130.3,697.3 L1131.3,695.6 L1132.2,693.9 L1133.2,692.1 L1134.2,690.4 L1135.1,688.6 L1136.1,686.9 L1137.1,685.1 L1138.0,683.4 L1139.0,681.6 L1139.9,679.8 L1140.8,678.0 L1141.6,676.2 L1142.5,674.4 L1143.3,672.6 L1144.1,670.8 L1145.0,669.0 L1145.8,667.1 L1146.7,665.3 L1147.6,663.5 L1148.5,661.8 L1149.4,660.0 L1150.3,658.2 L1151.1,656.4 L1152.0,654.6 L1152.9,652.8 L1153.8,651.0 L1154.7,649.2 L1155.6,647.4 L1156.5,645.7 L1157.5,643.9 L1158.4,642.1 L1159.4,640.4 L1160.4,638.7 L1161.4,637.0 L1162.4,635.2 L1163.5,633.5 L1164.5,631.8 L1165.5,630.1 L1166.5,628.3 L1167.4,626.6 L1168.4,624.8 L1169.3,623.0 L1170.3,621.3 L1171.2,619.5 L1172.0,617.7 L1172.8,615.9 L1173.4,614.0 L1174.1,612.1 L1174.7,610.2 L1175.3,608.3 L1175.9,606.4 L1176.5,604.5 L1177.1,602.6 L1177.7,600.6 L1178.3,598.7 L1178.9,596.8 L1179.5,594.9 L1180.2,593.1 L1180.9,591.2 L1181.7,589.4 L1182.5,587.5 L1183.3,585.7 L1184.2,583.9 L1185.0,582.1 L1185.8,580.3 L1186.7,578.4 L1187.5,576.6 L1188.3,574.8 L1189.1,573.0 L1189.9,571.1 L1190.7,569.3 L1191.5,567.4 L1192.2,565.6 L1193.0,563.8 L1193.8,561.9 L1194.5,560.1 L1195.2,558.2 L1195.9,556.3 L1196.6,554.4 L1197.3,552.6 L1198.0,550.7 L1198.7,548.8 L1199.3,546.9 L1200.0,545.0 L1200.7,543.2 L1201.4,541.3 L1202.1,539.4 L1202.8,537.5 L1203.5,535.7 L1204.2,533.8 L1204.9,531.9 L1205.6,530.0 L1206.3,528.2 L1207.0,526.3 L1207.7,524.4 L1208.4,522.6 L1209.1,520.7 L1209.8,518.8 L1210.6,516.9 L1211.3,515.1 L1212.0,513.2 L1212.7,511.3 L1213.3,509.5 L1214.0,507.6 L1214.6,505.6 L1215.1,503.7 L1215.7,501.8 L1216.2,499.9 L1216.7,498.0 L1217.3,496.0 L1217.8,494.1 L1218.3,492.2 L1218.8,490.2 L1219.4,488.3 L1219.9,486.4 L1220.4,484.4 L1221.0,482.5 L1221.5,480.6 L1222.0,478.7 L1222.5,476.7 L1223.1,474.8 L1223.6,472.9 L1224.1,470.9 L1224.6,469.0 L1225.2,467.1 L1225.7,465.2 L1226.2,463.2 L1226.7,461.3 L1227.3,459.4 L1227.8,457.4 L1228.3,455.5 L1228.8,453.6 L1229.4,451.6 L1229.9,449.7 L1230.4,447.8 L1231.0,445.9 L1231.5,443.9 L1232.0,442.0 L1232.5,440.1 L1233.1,438.1 L1233.6,436.2 L1234.1,434.3 L1234.6,432.3 L1235.2,430.4 L1235.7,428.5 L1236.2,426.6 L1236.7,424.6 L1237.3,422.7 L1237.8,420.8 L1238.3,418.8 L1238.9,416.9 L1239.4,415.0 L1239.9,413.1 L1240.5,411.1 L1241.0,409.2 L1241.6,407.3 L1242.2,405.4 L1242.8,403.5 L1243.4,401.6 L1244.0,399.7 L1244.7,397.8 L1245.3,395.9 L1245.9,394.0 L1246.6,392.1 L1247.2,390.2 L1247.8,388.3 L1248.4,386.4 L1249.1,384.5 L1249.7,382.6 L1250.3,380.7 L1251.0,378.8 L1251.6,376.9 L1252.3,375.0 L1252.9,373.1 L1253.6,371.2 L1254.3,369.4 L1255.0,367.5 L1255.7,365.6 L1256.4,363.8 L1257.1,361.9 L1257.8,360.0 L1258.5,358.1 L1259.2,356.3 L1259.9,354.4 L1260.6,352.5 L1261.3,350.6 L1262.0,348.8 L1262.6,346.9 L1263.3,345.0 L1264.0,343.1 L1264.7,341.3 L1265.5,339.4 L1266.3,337.6 L1267.2,335.8 L1268.1,334.0 L1269.1,332.3 L1270.0,330.5 L1270.9,328.7 L1271.8,327.0 L1272.6,325.1 L1273.4,323.3 L1274.2,321.5 L1274.9,319.6 L1275.5,317.7 L1276.2,315.8 L1276.9,313.9 L1277.6,312.1 L1278.2,310.2 L1278.9,308.3 L1279.6,306.4 L1280.2,304.5 L1280.9,302.6 L1281.5,300.7 L1282.2,298.8 L1282.9,297.0 L1283.6,295.1 L1284.2,293.2 L1285.0,291.3 L1285.7,289.5 L1286.5,287.7 L1287.3,285.8 L1288.1,284.0 L1289.0,282.2 L1289.8,280.4 L1290.6,278.5 L1291.4,276.7 L1292.3,274.9 L1293.1,273.1 L1293.9,271.3 L1294.8,269.4 L1295.6,267.6 L1296.4,265.8 L1297.3,264.0 L1298.2,262.2 L1299.1,260.4 L1299.9,258.6 L1300.8,256.8 L1301.7,255.0 L1302.7,253.3 L1303.6,251.5 L1304.6,249.7 L1305.5,248.0 L1306.5,246.2 L1307.5,244.5 L1308.5,242.8 L1309.5,241.0 L1310.5,239.3 L1311.6,237.6 L1312.7,236.0 L1313.8,234.3 L1315.0,232.8 L1316.3,231.3 L1317.7,229.9 L1319.2,228.7 L1320.8,227.6 L1322.5,226.8 L1324.3,226.1 L1326.2,225.7 L1328.1,225.6 L1330.0,225.7 L1331.9,226.0 L1333.8,226.6 L1335.6,227.3 L1337.3,228.2 L1339.0,229.3 L1340.6,230.5 L1342.1,231.7 L1343.6,233.0 L1345.1,234.4 L1346.5,235.8 L1347.9,237.2 L1349.2,238.7 L1350.5,240.2 L1351.7,241.8 L1352.9,243.4 L1354.1,245.0 L1355.3,246.6 L1356.4,248.2 L1357.6,249.9 L1358.8,251.5 L1359.9,253.1 L1361.0,254.8 L1362.1,256.5 L1363.2,258.2 L1364.2,259.9 L1365.2,261.6 L1366.1,263.4 L1367.1,265.1 L1368.0,266.9 L1368.9,268.7 L1369.8,270.5 L1370.7,272.3 L1371.6,274.1 L1372.4,275.9 L1373.2,277.7 L1374.1,279.5 L1374.9,281.4 L1375.7,283.2 L1376.5,285.0 L1377.3,286.8 L1378.1,288.7 L1379.0,290.5 L1379.8,292.3 L1380.6,294.1 L1381.4,295.9 L1382.3,297.8 L1383.2,299.6 L1384.0,301.3 L1384.9,303.1 L1385.8,304.9 L1386.7,306.7 L1387.6,308.5 L1388.5,310.3 L1389.4,312.1 L1390.3,313.9 L1391.2,315.6 L1392.2,317.3 L1393.3,319.0 L1394.5,320.5 L1395.9,321.9 L1397.3,323.1 L1398.9,324.0 L1400.5,324.6 L1402.1,324.8 L1403.8,324.6 L1405.4,323.9 L1406.8,322.9 L1408.1,321.6 L1409.1,320.1 L1410.0,318.4 L1410.7,316.5 L1411.5,314.7 L1412.2,312.8 L1412.9,311.0 L1413.6,309.1 L1414.3,307.2 L1415.0,305.4 L1415.8,303.5 L1416.5,301.6 L1417.2,299.8 L1417.9,297.9 L1418.7,296.0 L1419.5,294.2 L1420.2,292.4 L1421.1,290.5 L1421.9,288.7 L1422.7,286.9 L1423.6,285.1 L1424.5,283.3 L1425.4,281.6 L1426.4,279.8 L1427.4,278.1 L1428.3,276.3 L1429.3,274.6 L1430.3,272.8 L1431.2,271.1 L1432.2,269.3 L1433.2,267.6 L1434.2,265.8 L1435.2,264.1 L1436.2,262.4 L1437.2,260.7 L1438.3,259.0 L1439.3,257.3 L1440.4,255.6 L1441.5,253.9 L1442.6,252.3 L1443.8,250.6 L1445.0,249.1 L1446.3,247.6 L1447.7,246.2 L1449.2,245.0 L1450.8,244.0 L1452.5,243.3 L1454.3,242.7 L1456.2,242.5 L1458.0,242.7 L1459.8,243.1 L1461.4,243.9 L1462.8,245.0 L1464.1,246.4 L1465.2,248.0 L1466.2,249.6 L1467.2,251.4 L1468.0,253.2 L1468.8,255.0 L1469.6,256.9 L1470.3,258.7 L1471.0,260.6 L1471.7,262.5 L1472.4,264.3 L1473.0,266.2 L1473.7,268.1 L1474.3,270.0 L1474.9,271.9 L1475.6,273.8 L1476.2,275.7 L1476.7,277.6 L1477.3,279.6 L1477.8,281.5 L1478.4,283.4 L1478.9,285.3 L1479.4,287.3 L1479.9,289.2 L1480.4,291.2 L1480.8,293.1 L1481.3,295.0 L1481.7,297.0 L1482.2,298.9 L1482.6,300.9 L1482.9,302.9 L1483.3,304.8 L1483.6,306.8 L1483.8,308.8 L1484.1,310.8 L1484.4,312.8 L1484.6,314.7 L1484.9,316.7 L1485.1,318.7 L1485.4,320.7 L1485.7,322.7 L1486.0,324.6 L1486.3,326.6 L1486.6,328.6 L1487.0,330.6 L1487.3,332.5 L1487.7,334.5 L1488.0,336.5 L1488.4,338.4 L1488.7,340.4 L1489.0,342.4 L1489.4,344.4 L1489.7,346.3 L1490.1,348.3 L1490.4,350.3 L1490.8,352.2 L1491.1,354.2 L1491.5,356.2 L1491.8,358.1 L1492.1,360.1 L1492.5,362.1 L1492.8,364.1 L1493.2,366.0 L1493.5,368.0 L1493.8,370.0 L1494.2,371.9 L1494.5,373.9 L1494.8,375.9 L1495.1,377.9 L1495.4,379.8 L1495.7,381.8 L1496.0,383.8 L1496.3,385.8 L1496.6,387.8 L1496.9,389.7 L1497.2,391.7 L1497.5,393.7 L1497.8,395.7 L1498.1,397.6 L1498.4,399.6 L1498.8,401.6 L1499.1,403.6 L1499.4,405.5 L1499.7,407.5 L1500.1,409.5 L1500.4,411.4 L1500.8,413.4 L1501.1,415.4 L1501.5,417.3 L1501.9,419.3 L1502.3,421.3 L1502.7,423.2 L1503.1,425.2 L1503.4,427.2 L1503.8,429.1 L1504.2,431.1 L1504.6,433.0 L1505.0,435.0 L1505.4,437.0 L1505.8,438.9 L1506.2,440.9 L1506.6,442.9 L1507.0,444.8 L1507.3,446.8 L1507.7,448.7 L1508.1,450.7 L1508.5,452.7 L1508.9,454.6 L1509.3,456.6 L1509.7,458.5 L1510.1,460.5 L1510.5,462.5 L1510.9,464.4 L1511.2,466.4 L1511.6,468.4 L1512.0,470.3 L1512.4,472.3 L1512.8,474.2 L1513.2,476.2 L1513.6,478.2 L1514.0,480.1 L1514.4,482.1 L1514.7,484.0 L1515.1,486.0 L1515.5,488.0 L1515.9,489.9 L1516.3,491.9 L1516.7,493.9 L1517.1,495.8 L1517.5,497.8 L1517.9,499.7 L1518.3,501.7 L1518.7,503.7 L1519.1,505.6 L1519.5,507.6 L1520.0,509.5 L1520.4,511.5 L1521.0,513.4 L1521.5,515.3 L1522.0,517.2 L1522.6,519.2 L1523.1,521.1 L1523.7,523.0 L1524.3,524.9 L1524.9,526.8 L1525.5,528.7 L1526.1,530.6 L1526.7,532.5 L1527.3,534.4 L1528.0,536.3 L1528.6,538.2 L1529.1,540.2 L1529.7,542.1 L1530.2,544.0 L1530.7,545.9 L1531.2,547.9 L1531.7,549.8 L1532.2,551.8 L1532.7,553.7 L1533.2,555.6 L1533.6,557.6 L1534.1,559.5 L1534.6,561.5 L1535.1,563.4 L1535.6,565.3 L1536.1,567.3 L1536.5,569.2 L1537.0,571.2 L1537.4,573.1 L1537.8,575.1 L1538.2,577.0 L1538.5,579.0 L1538.8,581.0 L1539.1,583.0 L1539.4,584.9 L1539.7,586.9 L1540.0,588.9 L1540.3,590.9 L1540.6,592.8 L1541.0,594.8 L1541.4,596.8 L1541.8,598.7 L1542.2,600.7 L1542.7,602.6 L1543.2,604.6 L1543.7,606.5 L1544.2,608.4 L1544.8,610.3 L1545.3,612.3 L1545.9,614.2 L1546.5,616.1 L1547.2,617.9 L1547.9,619.8 L1548.7,621.7 L1549.4,623.5 L1550.2,625.3 L1551.0,627.2 L1551.9,629.0 L1552.8,630.8 L1553.6,632.6 L1554.6,634.4 L1555.5,636.1 L1556.4,637.9 L1557.4,639.6 L1558.4,641.4 L1559.4,643.1 L1560.4,644.8 L1561.5,646.5 L1562.6,648.1 L1563.8,649.7 L1565.1,651.2 L1566.5,652.6 L1567.9,654.0 L1569.4,655.2 L1571.0,656.4 L1572.7,657.4 L1574.4,658.4 L1576.2,659.2 L1578.1,659.9 L1580.0,660.6 L1581.9,661.2 L1583.8,661.7 L1585.7,662.1 L1587.7,662.6 L1589.6,663.0 L1591.6,663.3 L1593.6,663.7 L1595.5,664.0 L1597.5,664.4 L1599.5,664.7 L1601.5,664.9 L1603.5,665.2 L1605.4,665.4 L1607.4,665.5 L1609.4,665.6 L1611.4,665.6 L1613.4,665.6 L1615.4,665.5 L1617.3,665.3 L1619.1,664.9 L1620.9,664.2 L1622.5,663.3 L1624.0,662.2 L1625.5,660.9 L1626.9,659.4 L1628.2,658.0 L1629.4,656.4 L1630.6,654.8 L1631.8,653.2 L1632.9,651.5 L1634.0,649.9 L1635.0,648.1 L1636.0,646.4 L1637.0,644.7 L1638.0,642.9 L1638.9,641.2 L1639.9,639.4 L1640.8,637.6 L1641.7,635.8 L1642.6,634.1 L1643.5,632.3 L1644.3,630.5 L1645.2,628.7 L1646.0,626.8 L1646.8,625.0 L1647.6,623.2 L1648.4,621.3 L1649.2,619.5 L1650.0,617.7 L1650.8,615.8 L1651.5,614.0 L1652.2,612.1 L1652.9,610.2 L1653.6,608.3 L1654.1,606.4 L1654.6,604.5 L1655.1,602.6 L1655.5,600.6 L1655.9,598.6 L1656.3,596.7 L1656.7,594.7 L1657.2,592.8 L1657.7,590.9 L1658.2,588.9 L1658.7,587.0 L1659.3,585.1 L1659.8,583.2 L1660.4,581.2 L1661.0,579.3 L1661.5,577.4 L1662.1,575.5 L1662.6,573.6 L1663.1,571.6 L1663.7,569.7 L1664.2,567.8 L1664.7,565.8 L1665.1,563.9 L1665.6,561.9 L1666.1,560.0 L1666.6,558.1 L1667.1,556.1 L1667.6,554.2 L1668.1,552.2 L1668.6,550.3 L1669.1,548.4 L1669.6,546.4 L1670.1,544.5 L1670.6,542.6 L1671.2,540.6 L1671.7,538.7 L1672.2,536.8 L1672.7,534.8 L1673.2,532.9 L1673.7,531.0 L1674.2,529.0 L1674.8,527.1 L1675.3,525.2 L1675.8,523.3 L1676.3,521.3 L1676.8,519.4 L1677.3,517.4 L1677.8,515.5 L1678.3,513.6 L1678.7,511.6 L1679.2,509.7 L1679.7,507.7 L1680.1,505.8 L1680.6,503.8 L1681.0,501.9 L1681.5,499.9 L1681.9,498.0 L1682.3,496.0 L1682.7,494.1 L1683.1,492.1 L1683.5,490.1 L1683.9,488.2 L1684.2,486.2 L1684.6,484.3 L1685.0,482.3 L1685.4,480.3 L1685.7,478.4 L1686.1,476.4 L1686.5,474.4 L1686.8,472.5 L1687.2,470.5 L1687.6,468.5 L1687.9,466.6 L1688.3,464.6 L1688.7,462.6 L1689.0,460.7 L1689.4,458.7 L1689.8,456.7 L1690.2,454.8 L1690.5,452.8 L1690.9,450.8 L1691.3,448.9 L1691.6,446.9 L1692.0,444.9 L1692.4,443.0 L1692.7,441.0 L1693.1,439.0 L1693.5,437.1 L1693.8,435.1 L1694.2,433.1 L1694.6,431.2 L1694.9,429.2 L1695.3,427.2 L1695.7,425.3 L1696.1,423.3 L1696.4,421.3 L1696.8,419.4 L1697.2,417.4 L1697.5,415.5 L1697.9,413.5 L1698.3,411.5 L1698.7,409.6 L1699.1,407.6 L1699.6,405.7 L1700.0,403.7 L1700.5,401.8 L1701.1,399.9 L1701.6,397.9 L1702.1,396.0 L1702.6,394.1 L1703.1,392.1 L1703.6,390.2 L1704.1,388.3 L1704.7,386.3 L1705.2,384.4 L1705.7,382.5 L1706.2,380.5 L1706.7,378.6 L1707.2,376.7 L1707.8,374.7 L1708.3,372.8 L1708.9,370.9 L1709.5,369.0 L1710.1,367.1 L1710.7,365.2 L1711.3,363.3 L1712.0,361.4 L1712.6,359.5 L1713.2,357.6 L1713.9,355.7 L1714.5,353.8 L1715.1,351.9 L1715.8,350.0 L1716.4,348.1 L1717.0,346.2 L1717.7,344.3 L1718.3,342.4 L1718.9,340.5 L1719.6,338.6 L1720.2,336.7 L1720.8,334.8 L1721.5,332.9 L1722.1,331.0 L1722.7,329.1 L1723.4,327.2 L1724.0,325.3 L1724.6,323.4 L1725.3,321.5 L1725.9,319.7 L1726.5,317.8 L1727.2,315.9 L1727.9,314.0 L1728.5,312.1 L1729.2,310.2 L1729.9,308.3 L1730.6,306.5 L1731.3,304.6 L1731.9,302.7 L1732.6,300.8 L1733.3,298.9 L1734.0,297.1 L1734.7,295.2 L1735.4,293.3 L1736.2,291.5 L1737.1,289.7 L1737.9,287.9 L1738.9,286.2 L1739.9,284.4 L1740.9,282.7 L1742.0,281.0 L1743.1,279.4 L1744.3,277.8 L1745.6,276.3 L1746.9,274.8 L1748.3,273.5 L1749.8,272.2 L1751.5,271.1 L1753.2,270.2 L1754.9,269.4 L1756.8,268.9 L1758.7,268.5 L1760.7,268.3 L1762.6,268.2 L1764.6,268.2 L1766.6,268.3 L1768.6,268.4 L1770.6,268.6 L1772.6,268.8 L1774.6,268.9 L1776.6,269.1 L1778.6,269.2 L1780.6,269.3 L1782.6,269.3 L1784.6,269.3 L1786.6,269.2 L1788.5,269.1 L1790.5,268.9 L1792.5,268.6 L1794.4,268.2 L1796.3,267.7 L1798.3,267.2 L1800.1,266.5 L1802.0,265.8 L1803.8,265.0 L1805.6,264.3 L1807.5,263.6 L1809.4,263.0 L1811.3,262.6 L1813.3,262.2 L1815.2,262.0 L1817.2,261.8 L1819.2,261.8 L1821.2,261.8 L1823.2,261.9 L1825.2,262.1 L1827.1,262.4 L1829.1,262.8 L1831.0,263.3 L1832.9,263.8 L1834.8,264.5 L1836.6,265.2 L1838.4,266.0 L1840.2,266.8 L1842.0,267.5 L1843.8,268.1 L1845.7,268.4 L1847.5,268.3 L1849.3,268.0 L1851.0,267.3 L1852.6,266.3 L1854.1,265.1 L1855.4,263.7 L1856.8,262.3 L1858.1,260.8 L1859.3,259.2 L1860.6,257.7 L1861.8,256.1 L1863.1,254.5 L1864.3,252.9 L1865.5,251.4 L1866.7,249.8 L1867.9,248.2 L1869.2,246.6 L1870.4,245.0 L1871.6,243.4 L1872.8,241.9 L1874.1,240.3 L1875.4,238.9 L1876.8,237.4 L1878.3,236.1 L1879.8,234.9 L1881.4,233.8 L1883.1,232.9 L1884.9,232.2 L1886.8,231.8 L1888.7,231.7 L1890.6,231.8 L1892.4,232.3 L1894.2,232.9 L1895.9,233.8 L1897.5,234.9 L1899.1,236.1 L1900.5,237.4 L1902.0,238.8 L1903.4,240.2 L1904.8,241.6 L1906.2,243.0 L1907.6,244.5 L1908.9,245.9 L1910.3,247.4 L1911.5,249.0 L1912.7,250.6 L1913.8,252.3 L1914.8,254.0 L1915.7,255.7 L1916.6,257.5 L1917.4,259.3 L1918.2,261.2 L1918.9,263.0 L1919.6,264.9 L1920.3,266.8 L1921.0,268.6 L1921.7,270.5 L1922.3,272.4 L1922.9,274.3 L1923.6,276.2 L1924.2,278.1 L1924.9,280.0 L1925.6,281.9 L1926.3,283.7 L1927.0,285.6 L1927.8,287.5 L1928.5,289.3 L1929.3,291.1 L1930.2,292.9 L1931.1,294.7 L1932.1,296.4 L1933.1,298.1 L1934.0,299.9 L1934.8,301.7 L1935.5,303.5 L1936.1,305.4 L1936.6,307.3 L1937.2,309.3 L1937.7,311.2 L1938.2,313.1 L1938.7,315.1 L1939.2,317.0 L1939.6,319.0 L1940.1,320.9 L1940.6,322.8 L1941.0,324.8 L1941.4,326.7 L1941.8,328.7 L1942.2,330.7 L1942.6,332.6 L1943.0,334.6 L1943.3,336.6 L1943.7,338.5 L1944.1,340.5 L1944.5,342.4 L1944.9,344.4 L1945.3,346.4 L1945.7,348.3 L1946.1,350.3 L1946.5,352.2 L1946.9,354.2 L1947.3,356.2 L1947.7,358.1 L1948.1,360.1 L1948.5,362.0 L1948.9,364.0 L1949.2,366.0 L1949.6,367.9 L1949.9,369.9 L1950.3,371.9 L1950.6,373.9 L1950.9,375.8 L1951.3,377.8 L1951.6,379.8 L1951.9,381.7 L1952.2,383.7 L1952.5,385.7 L1952.9,387.7 L1953.2,389.6 L1953.5,391.6 L1953.8,393.6 L1954.0,395.6 L1954.3,397.6 L1954.6,399.5 L1954.9,401.5 L1955.2,403.5 L1955.5,405.5 L1955.9,407.4 L1956.2,409.4 L1956.6,411.4 L1956.9,413.3 L1957.3,415.3 L1957.7,417.3 L1958.0,419.2 L1958.4,421.2 L1958.8,423.2 L1959.2,425.1 L1959.5,427.1 L1959.9,429.1 L1960.3,431.0 L1960.7,433.0 L1961.0,435.0 L1961.4,436.9 L1961.8,438.9 L1962.2,440.9 L1962.5,442.8 L1962.9,444.8 L1963.3,446.7 L1963.7,448.7 L1964.0,450.7 L1964.4,452.6 L1964.8,454.6 L1965.2,456.6 L1965.5,458.5 L1965.9,460.5 L1966.3,462.5 L1966.7,464.4 L1967.0,466.4 L1967.4,468.4 L1967.8,470.3 L1968.2,472.3 L1968.5,474.3 L1968.9,476.2 L1969.3,478.2 L1969.7,480.1 L1970.0,482.1 L1970.4,484.1 L1970.8,486.0 L1971.2,488.0 L1971.5,490.0 L1971.9,491.9 L1972.3,493.9 L1972.7,495.9 L1973.0,497.8 L1973.4,499.8 L1973.8,501.8 L1974.2,503.7 L1974.5,505.7 L1974.9,507.6 L1975.3,509.6 L1975.7,511.6 L1976.1,513.5 L1976.5,515.5 L1976.9,517.4 L1977.3,519.4 L1977.8,521.3 L1978.2,523.3 L1978.7,525.3 L1979.1,527.2 L1979.5,529.2 L1980.0,531.1 L1980.4,533.1 L1980.8,535.0 L1981.3,537.0 L1981.7,538.9 L1982.2,540.9 L1982.6,542.8 L1983.0,544.8 L1983.5,546.7 L1983.9,548.7 L1984.4,550.6 L1984.8,552.6 L1985.2,554.5 L1985.7,556.5 L1986.1,558.4 L1986.5,560.4 L1987.0,562.3 L1987.4,564.3 L1987.8,566.2 L1988.2,568.2 L1988.6,570.2 L1989.0,572.1 L1989.3,574.1 L1989.7,576.1 L1990.1,578.0 L1990.5,580.0 L1990.9,581.9 L1991.4,583.9 L1991.8,585.8 L1992.3,587.8 L1992.7,589.7 L1993.2,591.7 L1993.8,593.6 L1994.3,595.5 L1994.8,597.4 L1995.3,599.4 L1995.9,601.3 L1996.4,603.2 L1997.0,605.1 L1997.6,607.1 L1998.2,609.0 L1998.8,610.9 L1999.3,612.8 L1999.9,614.7 L2000.5,616.6 L2001.1,618.5 L2001.7,620.4 L2002.3,622.4 L2002.9,624.3 L2003.5,626.2 L2004.0,628.1 L2004.6,630.0 L2005.2,631.9 L2005.8,633.8 L2006.5,635.7 L2007.1,637.6 L2007.7,639.5 L2008.3,641.4 L2009.0,643.3 L2009.6,645.2 L2010.3,647.1 L2010.9,649.0 L2011.6,650.9 L2012.3,652.7 L2012.9,654.6 L2013.6,656.5 L2014.3,658.4 L2015.1,660.2 L2015.8,662.1 L2016.6,663.9 L2017.4,665.8 L2018.2,667.6 L2019.0,669.4 L2019.9,671.2 L2020.7,673.0 L2021.6,674.8 L2022.4,676.6 L2023.3,678.4 L2024.2,680.2 L2025.2,682.0 L2026.1,683.7 L2027.2,685.4 L2028.3,687.0 L2029.6,688.5 L2030.9,689.9 L2032.4,691.1 L2033.9,692.1 L2035.6,692.7 L2037.3,693.0 L2039.2,693.0 L2041.0,692.6 L2042.8,692.1 L2044.6,691.3 L2046.3,690.3 L2048.0,689.2 L2049.6,688.1 L2051.2,686.9 L2052.8,685.8 L2054.4,684.6 L2056.0,683.4 L2057.6,682.2 L2059.2,680.9 L2060.7,679.6 L2062.2,678.3 L2063.7,677.0 L2065.1,675.6 L2066.5,674.1 L2067.8,672.6 L2069.1,671.1 L2070.2,669.5 L2071.3,667.8 L2072.3,666.1 L2073.3,664.4 L2074.3,662.6 L2075.2,660.9 L2076.2,659.1 L2077.1,657.3 L2078.0,655.6 L2078.9,653.8 L2079.8,652.0 L2080.7,650.2 L2081.6,648.4 L2082.5,646.6 L2083.4,644.8 L2084.3,643.0 L2085.2,641.3 L2086.1,639.5 L2086.9,637.7 L2087.8,635.9 L2088.7,634.1 L2089.6,632.3 L2090.5,630.5 L2091.4,628.7 L2092.3,626.9 L2093.2,625.2 L2094.1,623.4 L2095.0,621.6 L2095.9,619.8 L2096.8,618.0 L2097.6,616.2 L2098.5,614.4 L2099.3,612.6 L2100.0,610.7 L2100.7,608.8 L2101.4,607.0 L2102.0,605.1 L2102.7,603.2 L2103.3,601.3 L2103.9,599.4 L2104.5,597.5 L2105.2,595.6 L2105.8,593.7 L2106.5,591.8 L2107.1,589.9 L2107.8,588.0 L2108.4,586.1 L2109.1,584.2 L2109.8,582.3 L2110.4,580.4 L2111.1,578.6 L2111.8,576.7 L2112.4,574.8 L2113.1,572.9 L2113.8,571.0 L2114.5,569.2 L2115.2,567.3 L2115.9,565.4 L2116.6,563.6 L2117.3,561.7 L2118.0,559.8 L2118.7,557.9 L2119.4,556.1 L2120.1,554.2 L2120.8,552.3 L2121.4,550.4 L2122.1,548.5 L2122.8,546.6 L2123.5,544.8 L2124.1,542.9 L2124.8,541.0 L2125.5,539.1 L2126.1,537.2 L2126.8,535.3 L2127.5,533.5 L2128.2,531.6 L2128.8,529.7 L2129.5,527.8 L2130.2,525.9 L2130.8,524.0 L2131.4,522.1 L2132.0,520.2 L2132.6,518.3 L2133.2,516.4 L2133.8,514.5 L2134.4,512.6 L2135.0,510.7 L2135.5,508.7 L2136.1,506.8 L2136.6,504.9 L2137.2,503.0 L2137.7,501.0 L2138.2,499.1 L2138.7,497.2 L2139.3,495.2 L2139.8,493.3 L2140.3,491.4 L2140.8,489.5 L2141.4,487.5 L2141.9,485.6 L2142.4,483.7 L2142.9,481.7 L2143.5,479.8 L2144.0,477.9 L2144.5,475.9 L2145.0,474.0 L2145.6,472.1 L2146.1,470.2 L2146.6,468.2 L2147.1,466.3 L2147.7,464.4 L2148.2,462.4 L2148.7,460.5 L2149.2,458.6 L2149.8,456.6 L2150.3,454.7 L2150.8,452.8 L2151.3,450.9 L2151.9,448.9 L2152.4,447.0 L2152.9,445.1 L2153.4,443.1 L2154.0,441.2 L2154.5,439.3 L2155.0,437.3 L2155.5,435.4 L2156.0,433.5 L2156.6,431.6 L2157.1,429.6 L2157.6,427.7 L2158.1,425.8 L2158.7,423.8 L2159.2,421.9 L2159.7,420.0 L2160.2,418.0 L2160.8,416.1 L2161.3,414.2 L2161.8,412.3 L2162.4,410.3 L2162.9,408.4 L2163.4,406.5 L2164.0,404.6 L2164.5,402.6 L2165.1,400.7 L2165.7,398.8 L2166.2,396.9 L2166.8,395.0 L2167.4,393.0 L2167.9,391.1 L2168.5,389.2 L2169.1,387.3 L2169.7,385.4 L2170.3,383.5 L2170.9,381.6 L2171.6,379.7 L2172.2,377.8 L2172.8,375.9 L2173.5,374.0 L2174.1,372.1 L2174.7,370.2 L2175.4,368.3 L2176.1,366.4 L2176.8,364.6 L2177.5,362.7 L2178.3,360.9 L2179.1,359.0 L2179.8,357.2 L2180.6,355.3 L2181.4,353.5 L2182.2,351.7 L2183.0,349.9 L2183.9,348.0 L2184.7,346.2 L2185.6,344.4 L2186.5,342.6 L2187.4,340.8 L2188.3,339.1 L2189.2,337.3 L2190.1,335.5 L2191.0,333.7 L2191.9,331.9 L2192.7,330.1 L2193.6,328.3 L2194.5,326.5 L2195.4,324.7 L2196.3,323.0 L2197.3,321.2 L2198.2,319.4 L2199.2,317.7 L2200.2,316.0 L2201.2,314.2 L2202.2,312.5 L2203.2,310.8 L2204.1,309.0 L2205.0,307.2 L2205.8,305.4 L2206.5,303.5 L2207.2,301.7 L2207.8,299.8 L2208.5,297.9 L2209.1,296.0 L2209.7,294.1 L2210.4,292.2 L2211.1,290.3 L2211.8,288.5 L2212.6,286.6 L2213.3,284.8 L2214.1,282.9 L2214.9,281.1 L2215.7,279.2 L2216.5,277.4 L2217.3,275.6 L2218.2,273.8 L2219.0,272.0 L2219.9,270.2 L2220.8,268.4 L2221.7,266.6 L2222.7,264.9 L2223.6,263.1 L2224.6,261.4 L2225.6,259.6 L2226.7,257.9 L2227.7,256.2 L2228.8,254.6 L2229.9,252.9 L2231.0,251.2 L2232.0,249.5 L2233.2,247.9 L2234.3,246.2 L2235.4,244.6 L2236.6,242.9 L2237.7,241.3 L2238.9,239.7 L2240.1,238.1 L2241.3,236.5 L2242.6,234.9 L2243.9,233.4 L2245.2,231.9 L2246.5,230.4 L2247.9,228.9 L2249.2,227.5 L2250.7,226.1 L2252.2,224.8 L2253.7,223.5 L2255.2,222.3 L2256.8,221.1 L2258.5,220.0 L2260.2,219.1 L2262.0,218.2 L2263.8,217.4 L2265.7,216.8 L2267.6,216.2 L2269.5,215.9 L2271.5,215.6 L2273.4,215.5 L2275.4,215.5 L2277.4,215.7 L2279.3,215.9 L2281.2,216.4 L2283.1,216.9 L2284.9,217.7 L2286.5,218.6 L2288.0,219.8 L2289.4,221.2 L2290.6,222.7 L2291.7,224.3 L2292.6,226.0 L2293.5,227.8 L2294.2,229.6 L2294.9,231.5 L2295.5,233.4 L2296.2,235.3 L2296.9,237.2 L2297.5,239.0 L2298.2,240.9 L2298.9,242.8 L2299.6,244.7 L2300.3,246.6 L2300.9,248.4 L2301.6,250.3 L2302.3,252.2 L2303.0,254.1 L2303.7,256.0 L2304.4,257.8 L2305.1,259.7 L2305.8,261.6 L2306.6,263.4 L2307.4,265.2 L2308.2,267.1 L2309.0,268.9 L2309.8,270.7 L2310.7,272.5 L2311.5,274.3 L2312.4,276.2 L2313.2,277.9 L2314.1,279.7 L2315.1,281.4 L2316.0,283.0 L2317.1,284.4 L2318.4,285.3 L2319.7,285.8 L2321.3,285.6 L2322.8,285.1 L2324.4,284.1 L2325.9,282.9 L2327.4,281.6 L2328.8,280.3 L2330.3,279.0 L2331.9,277.7 L2333.4,276.5 L2335.0,275.2 L2336.6,274.1 L2338.2,272.9 L2339.9,271.7 L2341.5,270.6 L2343.2,269.5 L2344.9,268.5 L2346.6,267.4 L2348.3,266.4 L2350.0,265.4 L2351.8,264.4 L2353.5,263.4 L2355.3,262.4 L2357.0,261.5 L2358.8,260.6 L2360.5,259.7 L2362.3,259.0 L2364.1,258.5 L2365.9,258.4 L2367.7,258.6 L2369.4,259.2 L2371.0,260.0 L2372.4,261.2 L2373.5,262.6 L2374.5,264.2 L2375.4,265.9 L2376.1,267.8 L2376.9,269.6 L2377.6,271.5 L2378.3,273.3 L2379.0,275.2 L2379.7,277.1 L2380.4,279.0 L2381.0,280.9 L2381.7,282.8 L2382.3,284.7 L2382.9,286.6 L2383.6,288.5 L2384.2,290.3 L2384.8,292.2 L2385.5,294.1 L2386.1,296.0 L2386.7,297.9 L2387.3,299.8 L2388.0,301.7 L2388.6,303.6 L2389.2,305.5 L2389.9,307.4 L2390.5,309.3 L2391.1,311.2 L2391.8,313.1 L2392.4,315.0 L2393.0,316.9 L2393.6,318.8 L2394.2,320.7 L2394.8,322.7 L2395.3,324.6 L2395.8,326.5 L2396.3,328.4 L2396.9,330.4 L2397.4,332.3 L2397.9,334.3 L2398.3,336.2 L2398.8,338.1 L2399.3,340.1 L2399.7,342.0 L2400.2,344.0 L2400.6,345.9 L2401.1,347.9 L2401.5,349.8 L2402.0,351.8 L2402.4,353.7 L2402.8,355.7 L2403.3,357.6 L2403.7,359.6 L2404.2,361.5 L2404.6,363.5 L2405.0,365.4 L2405.3,367.4 L2405.7,369.4 L2406.0,371.4 L2406.2,373.3 L2406.5,375.3 L2406.8,377.3 L2407.1,379.3 L2407.4,381.3 L2407.6,383.2 L2407.9,385.2 L2408.2,387.2 L2408.4,389.2 L2408.7,391.2 L2409.0,393.2 L2409.2,395.1 L2409.5,397.1 L2409.7,399.1 L2410.0,401.1 L2410.2,403.1 L2410.5,405.1 L2410.7,407.0 L2410.9,409.0 L2411.0,411.0 L2411.2,413.0 L2411.4,415.0 L2411.5,417.0 L2411.7,419.0 L2411.8,421.0 L2412.0,423.0 L2412.2,424.9 L2412.5,426.7 L2412.8,428.5 L2413.3,430.2 L2413.7,431.9 L2414.1,433.6 L2414.5,435.5 L2414.7,437.4 L2415.0,439.3 L2415.2,441.3 L2415.4,443.3 L2415.6,445.3 L2415.8,447.3 L2416.0,449.3 L2416.2,451.2 L2416.5,453.2 L2416.8,455.2 L2417.2,457.2 L2417.5,459.1 L2417.9,461.1 L2418.3,463.1 L2418.7,465.0 L2419.1,467.0 L2419.5,468.9 L2419.9,470.9 L2420.2,472.9 L2420.6,474.8 L2421.1,476.8 L2421.5,478.7 L2421.9,480.7 L2422.4,482.6 L2422.8,484.6 L2423.3,486.5 L2423.7,488.5 L2424.2,490.4 L2424.6,492.4 L2425.1,494.3 L2425.5,496.3 L2426.0,498.2 L2426.4,500.2 L2426.9,502.1 L2427.3,504.1 L2427.8,506.0 L2428.3,508.0 L2428.7,509.9 L2429.2,511.9 L2429.6,513.8 L2430.1,515.8 L2430.5,517.7 L2431.0,519.7 L2431.4,521.6 L2431.9,523.5 L2432.3,525.5 L2432.8,527.4 L2433.3,529.4 L2433.7,531.3 L2434.2,533.3 L2434.6,535.2 L2435.1,537.2 L2435.5,539.1 L2436.0,541.1 L2436.4,543.0 L2436.9,545.0 L2437.3,546.9 L2437.8,548.9 L2438.3,550.8 L2438.7,552.8 L2439.2,554.7 L2439.6,556.7 L2440.1,558.6 L2440.5,560.6 L2441.0,562.5 L2441.4,564.4 L2441.9,566.4 L2442.4,568.3 L2442.8,570.3 L2443.3,572.2 L2443.8,574.1 L2444.3,575.9 L2444.8,577.5 L2445.2,578.8 L2445.4,579.3"/>
<path stroke="#4472c4" d="M150.6,560.4 L151.1,561.4 L151.7,562.9 L152.5,564.5 L153.2,566.3 L154.0,568.1 L154.7,569.9 L155.4,571.8 L156.1,573.7 L156.7,575.6 L157.4,577.5 L158.0,579.4 L158.6,581.3 L159.2,583.2 L159.8,585.1 L160.3,587.0 L160.9,588.9 L161.4,590.9 L161.9,592.8 L162.5,594.7 L163.1,596.6 L163.6,598.5 L164.2,600.5 L164.8,602.4 L165.4,604.3 L166.0,606.2 L166.6,608.1 L167.1,610.0 L167.7,611.9 L168.2,613.9 L168.8,615.8 L169.3,617.7 L169.8,619.7 L170.3,621.6 L170.8,623.5 L171.3,625.5 L171.9,627.4 L172.4,629.3 L173.0,631.2 L173.7,633.1 L174.3,635.0 L175.0,636.9 L175.7,638.7 L176.5,640.6 L177.2,642.4 L178.0,644.3 L178.8,646.1 L179.6,647.9 L180.5,649.7 L181.4,651.5 L182.3,653.3 L183.3,655.0 L184.3,656.8 L185.2,658.5 L186.2,660.3 L187.2,662.0 L188.2,663.7 L189.3,665.4 L190.3,667.1 L191.3,668.9 L192.4,670.6 L193.4,672.3 L194.5,673.9 L195.6,675.6 L196.7,677.3 L197.9,678.9 L199.0,680.5 L200.3,682.0 L201.7,683.4 L203.1,684.7 L204.7,685.9 L206.3,686.9 L208.1,687.8 L209.9,688.4 L211.8,688.9 L213.7,689.1 L215.7,689.2 L217.6,689.1 L219.6,688.8 L221.5,688.4 L223.3,687.7 L225.0,686.9 L226.7,685.9 L228.3,684.8 L229.8,683.5 L231.3,682.2 L232.7,680.8 L234.1,679.3 L235.4,677.8 L236.7,676.3 L237.9,674.7 L239.1,673.1 L240.2,671.5 L241.3,669.8 L242.4,668.1 L243.4,666.4 L244.4,664.7 L245.4,662.9 L246.3,661.2 L247.2,659.4 L248.1,657.6 L248.9,655.8 L249.8,654.0 L250.6,652.1 L251.4,650.3 L252.2,648.5 L253.0,646.6 L253.8,644.8 L254.6,643.0 L255.4,641.1 L256.1,639.3 L256.9,637.4 L257.7,635.6 L258.4,633.7 L259.2,631.9 L260.0,630.0 L260.7,628.2 L261.5,626.4 L262.3,624.5 L263.1,622.7 L263.8,620.8 L264.6,619.0 L265.4,617.2 L266.3,615.3 L267.1,613.5 L267.9,611.7 L268.7,609.8 L269.4,608.0 L270.1,606.1 L270.7,604.2 L271.3,602.3 L271.8,600.4 L272.3,598.5 L272.8,596.5 L273.3,594.6 L273.8,592.6 L274.3,590.7 L274.9,588.8 L275.5,586.9 L276.1,585.0 L276.7,583.1 L277.2,581.2 L277.8,579.3 L278.4,577.3 L279.0,575.4 L279.6,573.5 L280.2,571.6 L280.8,569.7 L281.4,567.8 L282.0,565.9 L282.6,564.0 L283.2,562.1 L283.8,560.2 L284.4,558.3 L285.0,556.3 L285.6,554.4 L286.2,552.5 L286.8,550.6 L287.3,548.7 L287.9,546.8 L288.5,544.9 L289.1,542.9 L289.6,541.0 L290.2,539.1 L290.8,537.2 L291.3,535.3 L291.9,533.4 L292.4,531.4 L293.0,529.5 L293.5,527.6 L294.1,525.7 L294.6,523.7 L295.1,521.8 L295.7,519.9 L296.2,518.0 L296.8,516.0 L297.3,514.1 L297.9,512.2 L298.4,510.3 L299.0,508.3 L299.5,506.4 L300.1,504.5 L300.6,502.6 L301.1,500.6 L301.6,498.7 L302.1,496.8 L302.6,494.8 L303.1,492.9 L303.6,491.0 L304.1,489.0 L304.6,487.1 L305.1,485.1 L305.6,483.2 L306.1,481.3 L306.5,479.3 L307.0,477.4 L307.5,475.4 L308.0,473.5 L308.5,471.6 L309.0,469.6 L309.5,467.7 L309.9,465.7 L310.4,463.8 L310.9,461.9 L311.4,459.9 L311.9,458.0 L312.4,456.0 L312.9,454.1 L313.4,452.2 L313.8,450.2 L314.3,448.3 L314.8,446.3 L315.3,444.4 L315.8,442.5 L316.3,440.5 L316.8,438.6 L317.2,436.6 L317.7,434.7 L318.2,432.8 L318.7,430.8 L319.2,428.9 L319.7,426.9 L320.2,425.0 L320.7,423.1 L321.1,421.1 L321.6,419.2 L322.1,417.2 L322.6,415.3 L323.1,413.4 L323.6,411.4 L324.1,409.5 L324.6,407.5 L325.1,405.6 L325.7,403.7 L326.2,401.8 L326.8,399.9 L327.4,398.0 L328.1,396.1 L328.7,394.2 L329.3,392.3 L329.9,390.4 L330.6,388.5 L331.2,386.6 L331.9,384.7 L332.6,382.8 L333.3,381.0 L334.0,379.1 L334.7,377.2 L335.4,375.3 L336.1,373.5 L336.9,371.6 L337.7,369.8 L338.6,368.0 L339.6,366.3 L340.6,364.6 L341.6,362.9 L342.7,361.2 L343.8,359.5 L344.9,357.9 L346.0,356.2 L347.2,354.6 L348.4,353.0 L349.6,351.4 L350.8,349.8 L352.1,348.2 L353.3,346.7 L354.7,345.2 L356.1,343.8 L357.5,342.4 L359.0,341.1 L360.5,339.8 L362.0,338.5 L363.6,337.3 L365.2,336.2 L366.9,335.2 L368.7,334.2 L370.5,333.3 L372.2,332.4 L374.0,331.5 L375.8,330.6 L377.6,329.7 L379.4,328.8 L381.2,327.9 L383.0,327.0 L384.7,326.1 L386.5,325.2 L388.3,324.2 L390.0,323.3 L391.8,322.3 L393.5,321.2 L395.2,320.2 L396.8,319.1 L398.4,317.9 L399.9,316.7 L401.3,315.3 L402.6,313.8 L403.8,312.2 L404.9,310.6 L406.1,309.0 L407.2,307.3 L408.4,305.7 L409.5,304.0 L410.6,302.4 L411.8,300.8 L413.0,299.1 L414.2,297.5 L415.4,296.0 L416.7,294.4 L417.9,292.9 L419.2,291.4 L420.5,289.8 L421.8,288.3 L423.1,286.8 L424.4,285.3 L425.8,283.8 L427.1,282.3 L428.5,280.9 L429.9,279.5 L431.4,278.1 L432.9,276.8 L434.4,275.5 L435.9,274.2 L437.5,273.0 L439.0,271.7 L440.5,270.4 L442.1,269.1 L443.6,267.8 L445.2,266.6 L446.7,265.3 L448.3,264.0 L449.8,262.8 L451.4,261.6 L453.1,260.5 L454.7,259.3 L456.4,258.2 L458.0,257.1 L459.7,256.0 L461.3,254.9 L463.0,253.8 L464.7,252.6 L466.3,251.5 L468.0,250.4 L469.7,249.3 L471.3,248.2 L473.0,247.1 L474.7,246.0 L476.3,244.9 L478.0,243.9 L479.8,242.8 L481.5,241.9 L483.2,240.9 L485.0,239.9 L486.7,238.9 L488.4,237.9 L490.2,236.9 L491.9,235.9 L493.6,235.0 L495.4,234.2 L497.2,233.6 L499.1,233.3 L500.9,233.3 L502.7,233.6 L504.4,234.3 L506.0,235.3 L507.5,236.5 L508.9,237.9 L510.3,239.3 L511.6,240.8 L512.9,242.4 L514.1,243.9 L515.3,245.5 L516.5,247.1 L517.7,248.7 L518.8,250.3 L520.0,252.0 L521.2,253.6 L522.3,255.2 L523.5,256.9 L524.6,258.5 L525.7,260.2 L526.8,261.9 L527.8,263.6 L528.8,265.3 L529.8,267.1 L530.7,268.8 L531.7,270.6 L532.7,272.3 L533.7,274.0 L534.7,275.8 L535.7,277.5 L536.7,279.2 L537.8,280.9 L538.8,282.6 L539.8,284.4 L540.8,286.1 L541.8,287.8 L542.8,289.6 L543.7,291.3 L544.6,293.1 L545.4,294.9 L546.2,296.8 L547.1,298.6 L547.9,300.4 L548.7,302.2 L549.5,304.1 L550.3,305.9 L551.1,307.7 L551.9,309.6 L552.7,311.4 L553.4,313.3 L554.2,315.1 L554.9,317.0 L555.6,318.8 L556.4,320.7 L557.1,322.6 L557.8,324.4 L558.5,326.3 L559.1,328.2 L559.8,330.1 L560.4,332.0 L561.1,333.9 L561.7,335.8 L562.3,337.7 L562.9,339.6 L563.5,341.5 L564.0,343.4 L564.5,345.4 L565.0,347.3 L565.5,349.2 L566.0,351.2 L566.5,353.1 L567.0,355.1 L567.5,357.0 L568.0,358.9 L568.4,360.9 L568.9,362.8 L569.4,364.8 L569.8,366.7 L570.3,368.7 L570.7,370.6 L571.2,372.6 L571.6,374.5 L572.1,376.5 L572.5,378.4 L573.0,380.4 L573.5,382.3 L573.9,384.2 L574.4,386.2 L574.8,388.1 L575.3,390.1 L575.7,392.0 L576.2,394.0 L576.6,395.9 L577.1,397.9 L577.5,399.8 L578.0,401.8 L578.5,403.7 L578.9,405.7 L579.4,407.6 L579.8,409.6 L580.2,411.5 L580.6,413.5 L581.0,415.4 L581.4,417.4 L581.7,419.4 L582.1,421.4 L582.4,423.3 L582.7,425.3 L583.1,427.3 L583.4,429.2 L583.7,431.2 L584.1,433.2 L584.4,435.2 L584.7,437.1 L585.1,439.1 L585.4,441.1 L585.7,443.0 L586.1,445.0 L586.4,447.0 L586.7,449.0 L587.1,450.9 L587.4,452.9 L587.7,454.9 L588.0,456.8 L588.4,458.8 L588.7,460.8 L589.0,462.8 L589.4,464.7 L589.7,466.7 L590.0,468.7 L590.4,470.7 L590.7,472.6 L591.0,474.6 L591.4,476.6 L591.7,478.5 L592.0,480.5 L592.4,482.5 L592.7,484.5 L593.0,486.4 L593.4,488.4 L593.7,490.4 L594.0,492.3 L594.4,494.3 L594.7,496.3 L595.0,498.3 L595.4,500.2 L595.7,502.2 L596.0,504.2 L596.4,506.2 L596.7,508.1 L597.0,510.1 L597.4,512.1 L597.7,514.0 L598.1,516.0 L598.5,518.0 L598.9,519.9 L599.3,521.9 L599.7,523.8 L600.1,525.8 L600.4,527.8 L600.8,529.7 L601.2,531.7 L601.6,533.7 L602.0,535.6 L602.4,537.6 L602.8,539.5 L603.3,541.5 L603.7,543.4 L604.1,545.4 L604.6,547.3 L605.0,549.3 L605.4,551.2 L605.9,553.2 L606.3,555.1 L606.7,557.1 L607.2,559.0 L607.6,561.0 L608.1,562.9 L608.5,564.9 L609.0,566.8 L609.4,568.8 L609.9,570.7 L610.4,572.7 L610.8,574.6 L611.3,576.6 L611.8,578.5 L612.3,580.4 L612.8,582.4 L613.4,584.3 L614.0,586.2 L614.6,588.1 L615.1,590.0 L615.7,591.9 L616.3,593.8 L616.9,595.8 L617.5,597.7 L618.1,599.6 L618.7,601.5 L619.4,603.4 L620.0,605.2 L620.8,607.1 L621.5,609.0 L622.3,610.8 L623.1,612.7 L623.8,614.5 L624.6,616.3 L625.5,618.1 L626.3,620.0 L627.2,621.8 L628.1,623.6 L628.9,625.3 L629.8,627.1 L630.8,628.9 L631.7,630.7 L632.6,632.4 L633.6,634.2 L634.5,636.0 L635.5,637.7 L636.4,639.5 L637.4,641.2 L638.4,643.0 L639.4,644.7 L640.4,646.4 L641.4,648.1 L642.5,649.9 L643.5,651.6 L644.5,653.3 L645.6,655.0 L646.7,656.7 L647.8,658.3 L648.9,660.0 L650.0,661.7 L651.1,663.3 L652.2,665.0 L653.3,666.6 L654.5,668.3 L655.7,669.9 L656.9,671.5 L658.1,673.0 L659.5,674.4 L661.0,675.7 L662.6,676.8 L664.2,677.8 L666.0,678.6 L667.9,679.2 L669.8,679.7 L671.7,680.0 L673.7,680.2 L675.7,680.4 L677.7,680.4 L679.6,680.3 L681.6,680.1 L683.5,679.7 L685.4,679.3 L687.3,678.6 L689.1,677.9 L690.9,677.0 L692.5,675.9 L694.1,674.8 L695.7,673.5 L697.1,672.2 L698.5,670.8 L699.8,669.3 L701.1,667.7 L702.3,666.1 L703.4,664.5 L704.4,662.8 L705.5,661.1 L706.4,659.3 L707.3,657.5 L708.3,655.8 L709.1,654.0 L710.0,652.2 L710.9,650.4 L711.7,648.6 L712.5,646.7 L713.4,644.9 L714.1,643.1 L714.9,641.2 L715.6,639.4 L716.3,637.5 L716.9,635.6 L717.5,633.7 L718.1,631.7 L718.6,629.8 L719.2,627.9 L719.8,626.0 L720.4,624.1 L720.9,622.2 L721.5,620.3 L722.1,618.3 L722.7,616.4 L723.2,614.5 L723.8,612.6 L724.4,610.7 L724.9,608.8 L725.5,606.8 L726.0,604.9 L726.5,603.0 L726.9,601.0 L727.3,599.1 L727.7,597.1 L728.1,595.1 L728.6,593.2 L729.0,591.3 L729.5,589.3 L730.0,587.4 L730.5,585.4 L731.0,583.5 L731.5,581.6 L732.1,579.6 L732.6,577.7 L733.2,575.8 L733.8,573.9 L734.4,572.0 L735.0,570.1 L735.6,568.2 L736.1,566.3 L736.7,564.3 L737.3,562.4 L737.9,560.5 L738.5,558.6 L739.0,556.7 L739.6,554.8 L740.2,552.8 L740.8,550.9 L741.3,549.0 L741.9,547.1 L742.5,545.2 L743.1,543.3 L743.6,541.4 L744.2,539.4 L744.8,537.5 L745.4,535.6 L746.0,533.7 L746.6,531.8 L747.2,529.9 L747.8,528.0 L748.3,526.1 L748.9,524.2 L749.5,522.2 L750.1,520.3 L750.7,518.4 L751.3,516.5 L751.9,514.6 L752.5,512.7 L753.1,510.8 L753.7,508.9 L754.3,507.0 L754.9,505.1 L755.5,503.2 L756.2,501.3 L756.8,499.4 L757.4,497.5 L758.0,495.6 L758.7,493.7 L759.3,491.8 L759.9,489.9 L760.5,488.0 L761.2,486.1 L761.8,484.2 L762.4,482.3 L763.0,480.4 L763.6,478.5 L764.3,476.6 L764.9,474.7 L765.5,472.8 L766.1,470.9 L766.8,469.0 L767.4,467.1 L768.0,465.2 L768.6,463.3 L769.3,461.4 L769.9,459.5 L770.5,457.6 L771.1,455.7 L771.8,453.8 L772.4,451.9 L773.0,450.0 L773.6,448.1 L774.3,446.2 L774.9,444.3 L775.5,442.4 L776.1,440.5 L776.8,438.6 L777.4,436.7 L778.0,434.8 L778.6,432.9 L779.3,431.0 L779.9,429.1 L780.5,427.2 L781.1,425.3 L781.7,423.4 L782.4,421.5 L783.0,419.6 L783.6,417.7 L784.2,415.8 L784.9,413.9 L785.5,412.0 L786.2,410.1 L786.8,408.2 L787.5,406.3 L788.2,404.4 L788.9,402.6 L789.7,400.7 L790.4,398.9 L791.2,397.0 L791.9,395.2 L792.7,393.3 L793.5,391.5 L794.3,389.7 L795.2,387.9 L796.1,386.1 L797.1,384.4 L798.1,382.6 L799.1,380.9 L800.0,379.1 L801.1,377.4 L802.1,375.7 L803.2,374.0 L804.3,372.4 L805.5,370.8 L806.7,369.2 L807.9,367.7 L809.2,366.1 L810.5,364.6 L811.8,363.1 L813.1,361.5 L814.4,360.0 L815.7,358.5 L817.1,357.0 L818.4,355.6 L819.8,354.1 L821.2,352.7 L822.6,351.3 L824.0,349.9 L825.4,348.5 L826.8,347.0 L828.2,345.5 L829.5,344.1 L830.8,342.5 L832.1,341.0 L833.3,339.4 L834.5,337.8 L835.7,336.2 L836.9,334.6 L838.1,333.0 L839.2,331.3 L840.3,329.7 L841.4,328.0 L842.4,326.3 L843.5,324.6 L844.5,322.9 L845.5,321.2 L846.5,319.4 L847.4,317.6 L848.2,315.8 L849.1,314.0 L849.9,312.2 L850.8,310.4 L851.6,308.6 L852.5,306.8 L853.3,305.0 L854.2,303.1 L855.0,301.3 L855.9,299.5 L856.7,297.7 L857.6,296.0 L858.6,294.2 L859.6,292.5 L860.7,290.9 L861.9,289.2 L863.1,287.6 L864.3,286.0 L865.5,284.5 L866.8,282.9 L868.1,281.4 L869.4,279.9 L870.7,278.4 L872.0,276.9 L873.4,275.4 L874.8,274.0 L876.2,272.6 L877.7,271.3 L879.2,269.9 L880.7,268.6 L882.1,267.2 L883.6,265.8 L885.0,264.4 L886.3,263.0 L887.7,261.5 L889.0,260.0 L890.3,258.5 L891.6,257.0 L892.9,255.4 L894.2,253.9 L895.5,252.4 L896.9,251.0 L898.4,249.7 L899.9,248.4 L901.5,247.3 L903.2,246.4 L905.0,245.7 L906.9,245.1 L908.8,244.7 L910.7,244.5 L912.7,244.3 L914.7,244.2 L916.7,244.1 L918.7,244.1 L920.7,244.1 L922.7,244.0 L924.7,244.1 L926.7,244.1 L928.7,244.1 L930.7,244.2 L932.6,244.4 L934.6,244.7 L936.4,245.1 L938.2,245.8 L939.9,246.6 L941.5,247.6 L943.2,248.6 L944.9,249.5 L946.7,250.2 L948.6,250.7 L950.5,251.2 L952.4,251.7 L954.4,252.2 L956.3,252.7 L958.2,253.3 L960.1,253.9 L961.9,254.7 L963.7,255.5 L965.5,256.4 L967.2,257.4 L968.8,258.6 L970.4,259.7 L972.0,260.9 L973.6,262.2 L975.1,263.4 L976.6,264.7 L978.1,266.1 L979.6,267.4 L981.0,268.8 L982.4,270.2 L983.9,271.6 L985.3,273.1 L986.7,274.5 L988.1,275.9 L989.5,277.3 L990.8,278.8 L992.2,280.3 L993.4,281.8 L994.6,283.4 L995.8,285.0 L996.9,286.7 L998.0,288.4 L999.0,290.1 L1000.0,291.8 L1000.9,293.6 L1001.7,295.4 L1002.4,297.3 L1003.1,299.1 L1003.7,301.0 L1004.1,303.0 L1004.6,304.9 L1005.0,306.9 L1005.4,308.8 L1005.7,310.8 L1006.1,312.7 L1006.5,314.7 L1006.9,316.7 L1007.3,318.6 L1007.7,320.6 L1008.1,322.6 L1008.5,324.5 L1009.0,326.5 L1009.4,328.4 L1009.8,330.4 L1010.2,332.3 L1010.7,334.3 L1011.1,336.2 L1011.6,338.2 L1012.0,340.1 L1012.4,342.1 L1012.9,344.0 L1013.3,346.0 L1013.8,347.9 L1014.2,349.9 L1014.7,351.8 L1015.1,353.8 L1015.6,355.7 L1016.0,357.7 L1016.5,359.6 L1017.0,361.6 L1017.4,363.5 L1017.8,365.5 L1018.2,367.4 L1018.6,369.4 L1019.0,371.3 L1019.4,373.3 L1019.8,375.3 L1020.2,377.2 L1020.6,379.2 L1021.0,381.1 L1021.4,383.1 L1021.8,385.1 L1022.2,387.0 L1022.6,389.0 L1023.0,390.9 L1023.4,392.9 L1023.8,394.9 L1024.1,396.8 L1024.5,398.8 L1024.9,400.8 L1025.3,402.7 L1025.6,404.7 L1025.9,406.7 L1026.3,408.6 L1026.6,410.6 L1026.9,412.6 L1027.3,414.6 L1027.6,416.5 L1028.0,418.5 L1028.3,420.5 L1028.7,422.4 L1029.1,424.4 L1029.4,426.4 L1029.8,428.3 L1030.2,430.3 L1030.5,432.3 L1030.9,434.2 L1031.3,436.2 L1031.7,438.2 L1032.0,440.1 L1032.4,442.1 L1032.8,444.1 L1033.1,446.0 L1033.5,448.0 L1033.9,449.9 L1034.2,451.9 L1034.6,453.9 L1035.0,455.8 L1035.3,457.8 L1035.7,459.8 L1036.1,461.7 L1036.4,463.7 L1036.8,465.7 L1037.2,467.6 L1037.6,469.6 L1037.9,471.6 L1038.3,473.5 L1038.7,475.5 L1039.0,477.5 L1039.4,479.4 L1039.8,481.4 L1040.1,483.4 L1040.5,485.3 L1040.9,487.3 L1041.2,489.3 L1041.6,491.2 L1042.0,493.2 L1042.4,495.2 L1042.7,497.1 L1043.1,499.1 L1043.5,501.1 L1043.8,503.0 L1044.2,505.0 L1044.6,507.0 L1044.9,508.9 L1045.3,510.9 L1045.7,512.8 L1046.1,514.8 L1046.5,516.8 L1047.0,518.7 L1047.4,520.7 L1047.8,522.6 L1048.3,524.6 L1048.7,526.5 L1049.1,528.5 L1049.6,530.4 L1050.0,532.4 L1050.4,534.3 L1050.9,536.3 L1051.3,538.2 L1051.7,540.2 L1052.1,542.1 L1052.5,544.1 L1052.9,546.1 L1053.3,548.0 L1053.7,550.0 L1054.1,552.0 L1054.5,553.9 L1054.9,555.9 L1055.3,557.8 L1055.7,559.8 L1056.1,561.8 L1056.5,563.7 L1056.9,565.7 L1057.3,567.6 L1057.8,569.6 L1058.2,571.5 L1058.7,573.5 L1059.1,575.4 L1059.5,577.4 L1060.0,579.3 L1060.4,581.3 L1060.9,583.2 L1061.3,585.2 L1061.8,587.1 L1062.3,589.0 L1062.9,591.0 L1063.4,592.9 L1063.9,594.8 L1064.5,596.7 L1065.0,598.7 L1065.6,600.6 L1066.1,602.5 L1066.7,604.4 L1067.2,606.4 L1067.8,608.3 L1068.3,610.2 L1068.9,612.1 L1069.4,614.0 L1070.0,616.0 L1070.6,617.9 L1071.2,619.8 L1071.8,621.7 L1072.4,623.6 L1073.0,625.5 L1073.6,627.4 L1074.2,629.3 L1074.8,631.2 L1075.4,633.1 L1076.1,635.0 L1076.7,636.9 L1077.4,638.8 L1078.0,640.7 L1078.7,642.6 L1079.5,644.4 L1080.3,646.2 L1081.1,648.1 L1081.9,649.9 L1082.7,651.7 L1083.6,653.5 L1084.5,655.3 L1085.4,657.1 L1086.3,658.9 L1087.3,660.6 L1088.3,662.4 L1089.2,664.1 L1090.3,665.8 L1091.3,667.5 L1092.4,669.2 L1093.5,670.9 L1094.6,672.6 L1095.7,674.2 L1096.8,675.9 L1098.0,677.5 L1099.1,679.1 L1100.3,680.7 L1101.5,682.3 L1102.7,683.9 L1104.0,685.4 L1105.4,686.9 L1106.8,688.3 L1108.3,689.5 L1109.8,690.6 L1111.5,691.4 L1113.2,691.9 L1115.0,692.1 L1116.8,691.9 L1118.5,691.3 L1120.2,690.4 L1121.7,689.3 L1123.2,688.1 L1124.6,686.7 L1125.9,685.2 L1127.1,683.6 L1128.3,682.0 L1129.4,680.4 L1130.5,678.7 L1131.5,677.0 L1132.5,675.2 L1133.5,673.5 L1134.4,671.7 L1135.3,669.9 L1136.2,668.1 L1137.1,666.4 L1137.9,664.5 L1138.8,662.7 L1139.6,660.9 L1140.4,659.1 L1141.1,657.2 L1141.9,655.4 L1142.6,653.5 L1143.3,651.6 L1144.1,649.8 L1144.8,647.9 L1145.6,646.1 L1146.3,644.2 L1147.1,642.4 L1147.9,640.5 L1148.7,638.7 L1149.5,636.9 L1150.4,635.1 L1151.3,633.3 L1152.2,631.5 L1153.1,629.7 L1154.0,627.9 L1154.9,626.2 L1155.9,624.4 L1156.8,622.7 L1157.8,620.9 L1158.7,619.1 L1159.7,617.4 L1160.7,615.6 L1161.6,613.9 L1162.5,612.1 L1163.5,610.3 L1164.4,608.6 L1165.3,606.8 L1166.3,605.0 L1167.2,603.3 L1168.1,601.5 L1169.1,599.7 L1170.0,598.0 L1171.0,596.2 L1171.9,594.4 L1172.8,592.7 L1173.8,590.9 L1174.8,589.2 L1175.8,587.5 L1176.8,585.8 L1177.9,584.0 L1178.9,582.3 L1180.0,580.6 L1181.0,578.9 L1182.0,577.2 L1183.0,575.5 L1184.0,573.7 L1185.0,572.0 L1185.9,570.2 L1186.8,568.4 L1187.7,566.6 L1188.6,564.8 L1189.5,563.1 L1190.4,561.3 L1191.2,559.5 L1192.1,557.7 L1192.9,555.8 L1193.7,554.0 L1194.5,552.2 L1195.3,550.3 L1196.1,548.5 L1196.9,546.7 L1197.7,544.8 L1198.5,543.0 L1199.2,541.1 L1200.0,539.3 L1200.7,537.4 L1201.4,535.5 L1202.1,533.7 L1202.8,531.8 L1203.5,529.9 L1204.2,528.1 L1204.9,526.2 L1205.6,524.3 L1206.3,522.4 L1207.0,520.6 L1207.8,518.7 L1208.5,516.8 L1209.2,515.0 L1209.9,513.1 L1210.6,511.2 L1211.3,509.4 L1212.0,507.5 L1212.7,505.6 L1213.3,503.7 L1214.0,501.8 L1214.6,499.9 L1215.2,498.0 L1215.8,496.1 L1216.4,494.2 L1217.0,492.3 L1217.6,490.4 L1218.2,488.5 L1218.8,486.6 L1219.4,484.7 L1220.0,482.8 L1220.6,480.8 L1221.2,478.9 L1221.8,477.0 L1222.4,475.1 L1223.0,473.2 L1223.6,471.3 L1224.2,469.4 L1224.8,467.5 L1225.4,465.6 L1226.1,463.7 L1226.7,461.8 L1227.3,459.9 L1227.9,458.0 L1228.5,456.1 L1229.1,454.2 L1229.7,452.2 L1230.3,450.3 L1230.9,448.4 L1231.5,446.5 L1232.1,444.6 L1232.7,442.7 L1233.3,440.8 L1233.9,438.9 L1234.5,437.0 L1235.1,435.1 L1235.7,433.2 L1236.3,431.3 L1236.9,429.4 L1237.5,427.5 L1238.1,425.5 L1238.7,423.6 L1239.3,421.7 L1239.9,419.8 L1240.5,417.9 L1241.1,416.0 L1241.7,414.1 L1242.4,412.2 L1243.0,410.3 L1243.6,408.4 L1244.3,406.5 L1245.0,404.7 L1245.7,402.8 L1246.5,400.9 L1247.2,399.1 L1247.9,397.2 L1248.7,395.4 L1249.4,393.5 L1250.2,391.7 L1251.0,389.8 L1251.8,388.0 L1252.6,386.2 L1253.4,384.3 L1254.3,382.5 L1255.1,380.7 L1256.0,378.9 L1256.8,377.1 L1257.7,375.3 L1258.6,373.5 L1259.5,371.7 L1260.4,370.0 L1261.4,368.2 L1262.5,366.5 L1263.5,364.8 L1264.5,363.1 L1265.6,361.4 L1266.6,359.7 L1267.7,358.0 L1268.8,356.4 L1269.9,354.7 L1271.1,353.1 L1272.3,351.5 L1273.5,349.9 L1274.7,348.3 L1275.9,346.7 L1277.1,345.1 L1278.3,343.5 L1279.5,341.9 L1280.8,340.3 L1282.0,338.8 L1283.3,337.2 L1284.6,335.7 L1285.8,334.2 L1287.1,332.6 L1288.4,331.1 L1289.7,329.6 L1291.0,328.0 L1292.3,326.5 L1293.6,325.0 L1294.9,323.5 L1296.3,322.0 L1297.6,320.6 L1299.0,319.1 L1300.3,317.6 L1301.6,316.1 L1302.9,314.6 L1304.1,313.0 L1305.3,311.4 L1306.5,309.8 L1307.6,308.1 L1308.8,306.5 L1309.9,304.8 L1311.0,303.2 L1312.1,301.5 L1313.3,299.9 L1314.5,298.3 L1315.8,296.9 L1317.2,295.4 L1318.7,294.1 L1320.1,292.7 L1321.7,291.5 L1323.2,290.2 L1324.8,289.0 L1326.4,287.8 L1328.0,286.6 L1329.7,285.5 L1331.3,284.4 L1333.0,283.3 L1334.7,282.2 L1336.4,281.2 L1338.1,280.2 L1339.8,279.1 L1341.5,278.0 L1343.2,276.9 L1344.8,275.8 L1346.4,274.6 L1348.0,273.4 L1349.6,272.2 L1351.2,270.9 L1352.7,269.7 L1354.3,268.5 L1355.9,267.2 L1357.5,266.1 L1359.1,265.0 L1360.8,263.9 L1362.6,262.9 L1364.3,262.1 L1366.2,261.3 L1368.0,260.6 L1369.9,260.0 L1371.9,259.4 L1373.8,258.9 L1375.7,258.4 L1377.7,258.0 L1379.6,257.5 L1381.6,257.2 L1383.5,256.8 L1385.5,256.5 L1387.5,256.1 L1389.4,255.7 L1391.3,255.1 L1393.1,254.5 L1394.9,253.6 L1396.6,252.6 L1398.2,251.5 L1399.7,250.3 L1401.1,248.9 L1402.5,247.4 L1403.8,245.9 L1405.1,244.4 L1406.4,242.9 L1407.7,241.4 L1409.0,239.9 L1410.4,238.5 L1411.9,237.3 L1413.5,236.2 L1415.2,235.3 L1417.0,234.6 L1418.8,234.2 L1420.7,234.1 L1422.6,234.2 L1424.4,234.6 L1426.3,235.3 L1428.0,236.1 L1429.7,237.1 L1431.3,238.2 L1432.9,239.5 L1434.4,240.7 L1435.9,242.1 L1437.3,243.5 L1438.7,244.9 L1440.1,246.4 L1441.5,247.8 L1442.8,249.3 L1444.1,250.8 L1445.4,252.3 L1446.7,253.9 L1448.0,255.4 L1449.3,256.9 L1450.6,258.4 L1451.9,260.0 L1453.1,261.5 L1454.4,263.1 L1455.5,264.7 L1456.6,266.4 L1457.7,268.0 L1458.8,269.7 L1459.8,271.5 L1460.7,273.2 L1461.6,275.0 L1462.5,276.8 L1463.3,278.6 L1464.1,280.4 L1464.8,282.3 L1465.5,284.2 L1466.2,286.1 L1466.8,288.0 L1467.3,289.9 L1467.8,291.8 L1468.3,293.8 L1468.8,295.7 L1469.2,297.7 L1469.6,299.6 L1469.9,301.6 L1470.2,303.6 L1470.5,305.5 L1470.8,307.5 L1471.1,309.5 L1471.3,311.5 L1471.6,313.5 L1471.9,315.4 L1472.2,317.4 L1472.5,319.4 L1472.8,321.4 L1473.1,323.3 L1473.5,325.3 L1473.9,327.3 L1474.2,329.2 L1474.6,331.2 L1475.0,333.2 L1475.4,335.1 L1475.8,337.1 L1476.2,339.0 L1476.6,341.0 L1477.0,343.0 L1477.4,344.9 L1477.8,346.9 L1478.2,348.8 L1478.6,350.8 L1479.0,352.8 L1479.3,354.7 L1479.7,356.7 L1480.1,358.7 L1480.5,360.6 L1480.9,362.6 L1481.3,364.5 L1481.7,366.5 L1482.1,368.5 L1482.5,370.4 L1482.8,372.4 L1483.2,374.4 L1483.5,376.3 L1483.9,378.3 L1484.2,380.3 L1484.6,382.2 L1484.9,384.2 L1485.3,386.2 L1485.6,388.1 L1486.0,390.1 L1486.3,392.1 L1486.7,394.1 L1487.0,396.0 L1487.4,398.0 L1487.8,399.9 L1488.2,401.9 L1488.6,403.9 L1489.0,405.8 L1489.4,407.8 L1489.8,409.8 L1490.2,411.7 L1490.6,413.7 L1491.0,415.6 L1491.4,417.6 L1491.8,419.5 L1492.2,421.5 L1492.7,423.4 L1493.1,425.4 L1493.5,427.4 L1493.9,429.3 L1494.4,431.3 L1494.8,433.2 L1495.2,435.2 L1495.6,437.1 L1496.1,439.1 L1496.5,441.0 L1496.9,443.0 L1497.3,444.9 L1497.8,446.9 L1498.2,448.9 L1498.6,450.8 L1499.0,452.8 L1499.5,454.7 L1499.9,456.7 L1500.3,458.6 L1500.7,460.6 L1501.2,462.5 L1501.6,464.5 L1502.0,466.4 L1502.4,468.4 L1502.9,470.3 L1503.3,472.3 L1503.7,474.3 L1504.1,476.2 L1504.6,478.2 L1505.0,480.1 L1505.4,482.1 L1505.8,484.0 L1506.3,486.0 L1506.7,487.9 L1507.1,489.9 L1507.5,491.8 L1508.0,493.8 L1508.4,495.8 L1508.8,497.7 L1509.2,499.7 L1509.7,501.6 L1510.1,503.6 L1510.6,505.5 L1511.0,507.5 L1511.6,509.4 L1512.1,511.3 L1512.8,513.2 L1513.4,515.1 L1514.1,517.0 L1514.7,518.8 L1515.4,520.7 L1516.1,522.6 L1516.8,524.5 L1517.5,526.3 L1518.2,528.2 L1519.0,530.1 L1519.8,531.9 L1520.5,533.8 L1521.3,535.6 L1522.0,537.5 L1522.8,539.3 L1523.5,541.2 L1524.2,543.1 L1524.9,544.9 L1525.6,546.8 L1526.3,548.7 L1526.9,550.6 L1527.6,552.5 L1528.3,554.3 L1529.0,556.2 L1529.6,558.1 L1530.3,560.0 L1531.0,561.9 L1531.6,563.8 L1532.3,565.6 L1533.0,567.5 L1533.7,569.4 L1534.3,571.3 L1535.0,573.2 L1535.7,575.1 L1536.4,576.9 L1537.0,578.8 L1537.7,580.7 L1538.4,582.6 L1539.0,584.5 L1539.7,586.4 L1540.4,588.2 L1541.1,590.1 L1541.8,592.0 L1542.5,593.9 L1543.2,595.7 L1543.9,597.6 L1544.6,599.5 L1545.3,601.3 L1546.0,603.2 L1546.7,605.1 L1547.4,607.0 L1548.1,608.8 L1548.8,610.7 L1549.5,612.6 L1550.2,614.5 L1550.9,616.4 L1551.5,618.2 L1552.2,620.1 L1552.9,622.0 L1553.6,623.9 L1554.2,625.8 L1554.9,627.7 L1555.5,629.5 L1556.1,631.5 L1556.7,633.4 L1557.3,635.3 L1557.9,637.2 L1558.5,639.1 L1559.0,641.0 L1559.6,643.0 L1560.1,644.9 L1560.6,646.8 L1561.2,648.7 L1561.7,650.7 L1562.3,652.6 L1562.9,654.5 L1563.6,656.3 L1564.3,658.2 L1565.0,660.1 L1565.8,661.9 L1566.5,663.8 L1567.3,665.6 L1568.1,667.4 L1569.0,669.2 L1569.9,671.0 L1570.8,672.8 L1571.7,674.6 L1572.6,676.4 L1573.6,678.1 L1574.6,679.8 L1575.7,681.5 L1576.8,683.2 L1577.9,684.8 L1579.1,686.3 L1580.4,687.8 L1581.9,689.1 L1583.5,690.2 L1585.2,691.1 L1586.9,691.9 L1588.8,692.5 L1590.7,692.9 L1592.6,693.1 L1594.6,693.2 L1596.5,693.1 L1598.5,692.9 L1600.4,692.5 L1602.3,691.9 L1604.1,691.2 L1605.9,690.3 L1607.5,689.3 L1609.1,688.2 L1610.6,686.8 L1611.9,685.4 L1613.3,684.0 L1614.5,682.4 L1615.7,680.8 L1616.8,679.2 L1617.8,677.5 L1618.8,675.7 L1619.8,674.0 L1620.8,672.3 L1621.6,670.5 L1622.4,668.6 L1623.2,666.8 L1623.9,664.9 L1624.6,663.1 L1625.3,661.2 L1626.0,659.3 L1626.7,657.4 L1627.3,655.5 L1628.0,653.7 L1628.7,651.8 L1629.4,649.9 L1630.1,648.0 L1630.8,646.1 L1631.4,644.3 L1632.1,642.4 L1632.8,640.5 L1633.5,638.6 L1634.2,636.7 L1634.9,634.9 L1635.5,633.0 L1636.2,631.1 L1636.9,629.2 L1637.6,627.3 L1638.3,625.5 L1639.0,623.6 L1639.6,621.7 L1640.3,619.8 L1641.0,617.9 L1641.7,616.1 L1642.4,614.2 L1643.1,612.3 L1643.7,610.4 L1644.4,608.5 L1645.0,606.6 L1645.6,604.7 L1646.1,602.8 L1646.5,600.8 L1646.9,598.9 L1647.3,596.9 L1647.7,595.0 L1648.2,593.0 L1648.6,591.1 L1649.1,589.2 L1649.7,587.2 L1650.3,585.3 L1650.9,583.4 L1651.5,581.5 L1652.1,579.6 L1652.8,577.7 L1653.4,575.8 L1654.0,573.9 L1654.7,572.0 L1655.3,570.1 L1655.9,568.2 L1656.6,566.3 L1657.2,564.4 L1657.8,562.5 L1658.5,560.7 L1659.1,558.8 L1659.7,556.9 L1660.3,555.0 L1661.0,553.1 L1661.6,551.2 L1662.2,549.2 L1662.8,547.3 L1663.3,545.4 L1663.9,543.5 L1664.5,541.6 L1665.0,539.7 L1665.6,537.7 L1666.2,535.8 L1666.7,533.9 L1667.3,532.0 L1667.9,530.1 L1668.5,528.2 L1669.1,526.3 L1669.8,524.4 L1670.4,522.5 L1671.0,520.6 L1671.6,518.7 L1672.3,516.8 L1672.9,514.9 L1673.5,513.0 L1674.2,511.1 L1674.8,509.2 L1675.4,507.3 L1676.1,505.4 L1676.7,503.5 L1677.3,501.6 L1678.0,499.7 L1678.6,497.8 L1679.2,495.9 L1679.8,494.0 L1680.4,492.1 L1681.0,490.2 L1681.6,488.3 L1682.2,486.4 L1682.7,484.4 L1683.3,482.5 L1683.9,480.6 L1684.4,478.7 L1685.0,476.8 L1685.6,474.9 L1686.2,472.9 L1686.7,471.0 L1687.3,469.1 L1687.9,467.2 L1688.4,465.3 L1689.0,463.3 L1689.6,461.4 L1690.2,459.5 L1690.7,457.6 L1691.3,455.7 L1691.9,453.8 L1692.4,451.8 L1693.0,449.9 L1693.6,448.0 L1694.1,446.1 L1694.7,444.2 L1695.3,442.3 L1695.9,440.3 L1696.4,438.4 L1697.0,436.5 L1697.6,434.6 L1698.1,432.7 L1698.7,430.8 L1699.3,428.8 L1699.9,426.9 L1700.4,425.0 L1701.0,423.1 L1701.6,421.2 L1702.1,419.3 L1702.7,417.3 L1703.3,415.4 L1703.9,413.5 L1704.5,411.6 L1705.1,409.7 L1705.8,407.9 L1706.5,406.0 L1707.4,404.2 L1708.2,402.4 L1709.1,400.6 L1710.0,398.8 L1710.9,397.0 L1711.8,395.2 L1712.7,393.4 L1713.6,391.7 L1714.6,389.9 L1715.6,388.2 L1716.5,386.4 L1717.5,384.7 L1718.5,383.0 L1719.5,381.2 L1720.5,379.5 L1721.5,377.8 L1722.5,376.0 L1723.5,374.3 L1724.6,372.6 L1725.6,370.9 L1726.6,369.2 L1727.7,367.5 L1728.7,365.8 L1729.8,364.1 L1730.8,362.4 L1731.9,360.7 L1732.9,358.9 L1733.9,357.2 L1735.0,355.5 L1736.0,353.8 L1737.0,352.1 L1738.1,350.4 L1739.1,348.7 L1740.1,347.0 L1741.2,345.2 L1742.2,343.5 L1743.3,341.9 L1744.4,340.2 L1745.5,338.5 L1746.7,336.9 L1747.8,335.3 L1749.0,333.6 L1750.1,332.0 L1751.3,330.4 L1752.5,328.8 L1753.7,327.2 L1754.9,325.6 L1756.1,324.0 L1757.4,322.5 L1758.7,321.0 L1760.0,319.5 L1761.3,318.0 L1762.7,316.5 L1764.0,314.9 L1765.2,313.4 L1766.5,311.8 L1767.6,310.2 L1768.7,308.5 L1769.8,306.9 L1770.9,305.2 L1771.9,303.5 L1773.0,301.8 L1774.1,300.2 L1775.3,298.6 L1776.6,297.1 L1777.9,295.6 L1779.4,294.3 L1780.9,293.0 L1782.4,291.7 L1784.0,290.5 L1785.6,289.3 L1787.2,288.1 L1788.9,286.9 L1790.5,285.8 L1792.1,284.6 L1793.7,283.5 L1795.4,282.3 L1797.0,281.2 L1798.7,280.1 L1800.4,279.1 L1802.2,278.2 L1804.0,277.4 L1805.8,276.7 L1807.7,276.0 L1809.6,275.5 L1811.6,275.1 L1813.5,274.8 L1815.5,274.6 L1817.5,274.5 L1819.5,274.5 L1821.4,274.7 L1823.3,275.1 L1825.1,275.6 L1826.9,276.4 L1828.6,277.4 L1830.2,278.5 L1831.9,279.5 L1833.6,280.6 L1835.3,281.7 L1837.0,282.6 L1838.8,283.5 L1840.6,284.2 L1842.5,284.8 L1844.3,285.1 L1846.2,285.1 L1848.1,284.9 L1849.9,284.4 L1851.7,283.7 L1853.5,282.9 L1855.3,282.1 L1857.1,281.2 L1858.9,280.4 L1860.8,279.7 L1862.7,279.2 L1864.6,278.8 L1866.6,278.4 L1868.5,278.2 L1870.5,278.1 L1872.5,278.0 L1874.5,278.1 L1876.5,278.1 L1878.5,278.2 L1880.5,278.3 L1882.5,278.3 L1884.5,278.3 L1886.5,278.3 L1888.5,278.3 L1890.5,278.3 L1892.5,278.2 L1894.5,278.1 L1896.5,278.0 L1898.5,278.0 L1900.5,278.0 L1902.5,278.0 L1904.4,278.2 L1906.4,278.4 L1908.3,278.8 L1910.1,279.4 L1911.7,280.3 L1913.3,281.4 L1914.6,282.8 L1915.8,284.3 L1916.9,285.9 L1917.9,287.6 L1918.8,289.4 L1919.7,291.2 L1920.6,293.0 L1921.3,294.8 L1922.1,296.7 L1922.8,298.5 L1923.4,300.4 L1924.0,302.3 L1924.6,304.3 L1925.1,306.2 L1925.7,308.1 L1926.2,310.0 L1926.8,312.0 L1927.3,313.9 L1927.8,315.8 L1928.4,317.7 L1928.9,319.7 L1929.4,321.6 L1929.9,323.5 L1930.4,325.5 L1930.8,327.4 L1931.3,329.4 L1931.7,331.3 L1932.1,333.3 L1932.6,335.2 L1933.0,337.2 L1933.5,339.1 L1933.9,341.1 L1934.3,343.0 L1934.8,345.0 L1935.2,346.9 L1935.7,348.9 L1936.1,350.8 L1936.6,352.8 L1937.0,354.7 L1937.5,356.7 L1938.0,358.6 L1938.4,360.6 L1938.9,362.5 L1939.3,364.5 L1939.8,366.4 L1940.2,368.4 L1940.6,370.3 L1941.1,372.3 L1941.5,374.2 L1941.9,376.2 L1942.4,378.1 L1942.8,380.1 L1943.2,382.0 L1943.7,384.0 L1944.1,385.9 L1944.5,387.9 L1944.9,389.8 L1945.3,391.8 L1945.7,393.8 L1946.1,395.7 L1946.6,397.7 L1947.0,399.6 L1947.4,401.6 L1947.8,403.6 L1948.2,405.5 L1948.7,407.4 L1949.2,409.4 L1949.7,411.3 L1950.3,413.2 L1950.8,415.2 L1951.4,417.1 L1951.9,419.0 L1952.5,420.9 L1953.1,422.8 L1953.6,424.8 L1954.2,426.7 L1954.7,428.6 L1955.3,430.5 L1955.9,432.4 L1956.4,434.4 L1957.0,436.3 L1957.6,438.2 L1958.1,440.1 L1958.7,442.0 L1959.2,443.9 L1959.8,445.9 L1960.4,447.8 L1960.9,449.7 L1961.5,451.6 L1962.0,453.5 L1962.6,455.5 L1963.2,457.4 L1963.7,459.3 L1964.3,461.2 L1964.9,463.1 L1965.4,465.1 L1966.0,467.0 L1966.5,468.9 L1967.1,470.8 L1967.7,472.7 L1968.2,474.7 L1968.8,476.6 L1969.3,478.5 L1969.9,480.4 L1970.5,482.3 L1971.0,484.3 L1971.6,486.2 L1972.2,488.1 L1972.7,490.0 L1973.3,491.9 L1973.8,493.9 L1974.4,495.8 L1975.0,497.7 L1975.5,499.6 L1976.1,501.5 L1976.6,503.5 L1977.2,505.4 L1977.8,507.3 L1978.3,509.2 L1978.9,511.1 L1979.4,513.1 L1980.0,515.0 L1980.5,516.9 L1981.1,518.8 L1981.6,520.8 L1982.1,522.7 L1982.7,524.6 L1983.2,526.5 L1983.7,528.5 L1984.2,530.4 L1984.8,532.3 L1985.3,534.3 L1985.8,536.2 L1986.3,538.1 L1986.8,540.1 L1987.3,542.0 L1987.8,543.9 L1988.3,545.9 L1988.8,547.8 L1989.3,549.8 L1989.8,551.7 L1990.2,553.6 L1990.7,555.6 L1991.2,557.5 L1991.7,559.5 L1992.2,561.4 L1992.7,563.3 L1993.2,565.3 L1993.6,567.2 L1994.1,569.2 L1994.6,571.1 L1995.1,573.0 L1995.6,575.0 L1996.1,576.9 L1996.5,578.9 L1997.0,580.8 L1997.5,582.7 L1997.9,584.7 L1998.3,586.7 L1998.7,588.6 L1999.1,590.6 L1999.4,592.6 L1999.7,594.5 L2000.0,596.5 L2000.4,598.5 L2000.8,600.4 L2001.2,602.4 L2001.7,604.3 L2002.2,606.2 L2002.8,608.2 L2003.3,610.1 L2003.9,612.0 L2004.5,613.9 L2005.1,615.8 L2005.7,617.7 L2006.3,619.6 L2006.9,621.5 L2007.4,623.5 L2008.0,625.4 L2008.6,627.3 L2009.2,629.2 L2009.8,631.1 L2010.4,633.0 L2011.0,634.9 L2011.6,636.8 L2012.3,638.7 L2012.9,640.6 L2013.5,642.5 L2014.2,644.4 L2014.8,646.3 L2015.5,648.2 L2016.1,650.1 L2016.8,652.0 L2017.5,653.8 L2018.2,655.7 L2018.9,657.6 L2019.6,659.4 L2020.4,661.3 L2021.3,663.1 L2022.2,664.8 L2023.1,666.6 L2024.1,668.3 L2025.1,670.1 L2026.2,671.8 L2027.2,673.4 L2028.4,675.1 L2029.5,676.7 L2030.8,678.3 L2032.1,679.7 L2033.5,681.1 L2035.0,682.4 L2036.5,683.6 L2038.2,684.7 L2039.9,685.6 L2041.7,686.5 L2043.5,687.1 L2045.4,687.7 L2047.4,688.1 L2049.3,688.4 L2051.3,688.6 L2053.2,688.7 L2055.2,688.6 L2057.2,688.4 L2059.1,688.1 L2061.0,687.6 L2062.8,686.9 L2064.5,686.1 L2066.2,685.0 L2067.8,683.9 L2069.3,682.6 L2070.7,681.2 L2071.9,679.7 L2073.1,678.1 L2074.2,676.5 L2075.2,674.8 L2076.2,673.0 L2077.1,671.2 L2077.9,669.4 L2078.7,667.6 L2079.5,665.8 L2080.2,663.9 L2081.0,662.1 L2081.7,660.2 L2082.4,658.3 L2083.2,656.5 L2083.9,654.6 L2084.7,652.8 L2085.4,650.9 L2086.2,649.1 L2086.9,647.2 L2087.6,645.3 L2088.4,643.5 L2089.1,641.6 L2089.9,639.8 L2090.6,637.9 L2091.4,636.1 L2092.1,634.2 L2092.8,632.3 L2093.6,630.5 L2094.3,628.6 L2095.1,626.8 L2095.8,624.9 L2096.6,623.1 L2097.3,621.2 L2098.0,619.3 L2098.8,617.5 L2099.5,615.6 L2100.2,613.7 L2100.9,611.9 L2101.5,610.0 L2102.1,608.1 L2102.7,606.2 L2103.3,604.2 L2103.8,602.3 L2104.4,600.4 L2105.0,598.5 L2105.6,596.6 L2106.2,594.7 L2106.8,592.8 L2107.4,590.9 L2108.1,589.0 L2108.7,587.1 L2109.3,585.2 L2109.9,583.3 L2110.5,581.4 L2111.2,579.5 L2111.8,577.6 L2112.5,575.7 L2113.2,573.8 L2113.9,571.9 L2114.6,570.1 L2115.3,568.2 L2116.0,566.3 L2116.7,564.4 L2117.4,562.6 L2118.1,560.7 L2118.8,558.8 L2119.4,556.9 L2120.1,555.1 L2120.8,553.2 L2121.5,551.3 L2122.2,549.4 L2122.8,547.5 L2123.5,545.6 L2124.2,543.8 L2124.8,541.9 L2125.5,540.0 L2126.2,538.1 L2126.9,536.2 L2127.5,534.3 L2128.2,532.5 L2128.9,530.6 L2129.5,528.7 L2130.2,526.8 L2130.9,524.9 L2131.5,523.0 L2132.1,521.1 L2132.7,519.2 L2133.3,517.3 L2133.9,515.4 L2134.5,513.5 L2135.0,511.6 L2135.6,509.6 L2136.1,507.7 L2136.6,505.8 L2137.1,503.8 L2137.5,501.9 L2137.9,499.9 L2138.4,498.0 L2138.8,496.0 L2139.2,494.1 L2139.7,492.1 L2140.1,490.2 L2140.5,488.2 L2140.9,486.3 L2141.4,484.3 L2141.8,482.3 L2142.2,480.4 L2142.7,478.4 L2143.1,476.5 L2143.5,474.5 L2144.0,472.6 L2144.4,470.6 L2144.8,468.7 L2145.3,466.7 L2145.7,464.8 L2146.1,462.8 L2146.5,460.9 L2147.0,458.9 L2147.4,457.0 L2147.8,455.0 L2148.3,453.0 L2148.7,451.1 L2149.1,449.1 L2149.6,447.2 L2150.0,445.2 L2150.4,443.3 L2150.8,441.3 L2151.3,439.4 L2151.7,437.4 L2152.1,435.5 L2152.6,433.5 L2153.0,431.6 L2153.4,429.6 L2153.9,427.7 L2154.3,425.7 L2154.7,423.8 L2155.1,421.8 L2155.6,419.8 L2156.0,417.9 L2156.4,415.9 L2156.9,414.0 L2157.3,412.0 L2157.8,410.1 L2158.3,408.2 L2158.8,406.2 L2159.4,404.3 L2160.0,402.4 L2160.6,400.5 L2161.2,398.6 L2161.9,396.7 L2162.5,394.8 L2163.1,392.9 L2163.8,391.0 L2164.4,389.1 L2165.1,387.2 L2165.7,385.3 L2166.4,383.5 L2167.0,381.6 L2167.7,379.7 L2168.3,377.8 L2169.0,375.9 L2169.7,374.0 L2170.3,372.1 L2171.0,370.3 L2171.7,368.4 L2172.5,366.5 L2173.2,364.7 L2174.0,362.9 L2174.9,361.1 L2175.8,359.3 L2176.7,357.5 L2177.6,355.7 L2178.5,353.9 L2179.4,352.1 L2180.3,350.4 L2181.3,348.6 L2182.3,346.9 L2183.4,345.2 L2184.5,343.5 L2185.6,341.9 L2186.7,340.2 L2187.8,338.5 L2188.9,336.9 L2190.1,335.3 L2191.3,333.7 L2192.6,332.2 L2193.9,330.6 L2195.2,329.1 L2196.5,327.6 L2197.9,326.2 L2199.2,324.7 L2200.6,323.3 L2202.1,322.0 L2203.6,320.7 L2205.2,319.5 L2206.8,318.3 L2208.4,317.1 L2210.0,316.0 L2211.6,314.8 L2213.2,313.5 L2214.7,312.2 L2216.2,310.9 L2217.6,309.5 L2219.0,308.1 L2220.5,306.7 L2221.9,305.2 L2223.3,303.8 L2224.7,302.4 L2226.1,301.0 L2227.5,299.6 L2228.9,298.1 L2230.3,296.7 L2231.7,295.3 L2233.1,293.9 L2234.5,292.5 L2235.9,291.0 L2237.3,289.5 L2238.6,288.1 L2239.9,286.6 L2241.2,285.1 L2242.6,283.6 L2243.9,282.0 L2245.2,280.5 L2246.5,279.0 L2247.8,277.5 L2249.2,276.0 L2250.5,274.5 L2251.8,273.1 L2253.2,271.6 L2254.6,270.1 L2256.0,268.7 L2257.4,267.3 L2258.8,265.9 L2260.3,264.6 L2261.8,263.3 L2263.3,262.0 L2264.9,260.8 L2266.6,259.7 L2268.2,258.5 L2269.9,257.5 L2271.6,256.5 L2273.4,255.5 L2275.2,254.6 L2276.9,253.7 L2278.7,252.8 L2280.5,251.9 L2282.3,251.0 L2284.1,250.1 L2285.8,249.1 L2287.5,248.1 L2289.1,247.0 L2290.7,245.7 L2292.1,244.4 L2293.6,243.0 L2294.9,241.6 L2296.3,240.1 L2297.5,238.6 L2298.8,237.0 L2300.0,235.4 L2301.2,233.8 L2302.4,232.2 L2303.5,230.6 L2304.7,228.9 L2305.8,227.3 L2306.9,225.6 L2308.1,224.0 L2309.2,222.3 L2310.3,220.7 L2311.5,219.0 L2312.6,217.4 L2313.8,215.8 L2315.1,214.2 L2316.3,212.7 L2317.7,211.2 L2319.1,209.9 L2320.6,208.6 L2322.1,207.4 L2323.8,206.4 L2325.5,205.5 L2327.4,204.8 L2329.3,204.3 L2331.2,204.0 L2333.1,203.8 L2335.1,203.8 L2337.0,204.0 L2338.8,204.5 L2340.6,205.2 L2342.3,206.1 L2343.8,207.2 L2345.2,208.6 L2346.6,210.0 L2347.9,211.5 L2349.1,213.1 L2350.2,214.7 L2351.2,216.4 L2352.2,218.1 L2353.2,219.9 L2354.1,221.7 L2355.0,223.5 L2355.7,225.3 L2356.5,227.1 L2357.2,229.0 L2357.8,230.9 L2358.5,232.8 L2359.1,234.7 L2359.8,236.6 L2360.5,238.4 L2361.2,240.3 L2361.9,242.2 L2362.6,244.0 L2363.4,245.9 L2364.1,247.8 L2364.9,249.6 L2365.6,251.5 L2366.3,253.3 L2367.0,255.2 L2367.7,257.1 L2368.4,259.0 L2369.0,260.9 L2369.6,262.8 L2370.3,264.7 L2370.9,266.6 L2371.5,268.5 L2372.2,270.4 L2372.8,272.3 L2373.4,274.1 L2374.1,276.0 L2374.7,277.9 L2375.3,279.8 L2376.0,281.7 L2376.6,283.6 L2377.2,285.5 L2377.9,287.4 L2378.5,289.3 L2379.1,291.2 L2379.8,293.1 L2380.4,295.0 L2381.0,296.9 L2381.7,298.8 L2382.3,300.7 L2382.9,302.6 L2383.6,304.5 L2384.2,306.4 L2384.8,308.3 L2385.4,310.2 L2386.1,312.1 L2386.7,314.0 L2387.3,315.9 L2388.0,317.8 L2388.6,319.7 L2389.2,321.6 L2389.9,323.5 L2390.5,325.4 L2391.2,327.3 L2391.8,329.2 L2392.5,331.0 L2393.2,332.9 L2393.9,334.8 L2394.6,336.6 L2395.3,338.5 L2396.1,340.4 L2396.8,342.2 L2397.5,344.1 L2398.2,346.0 L2399.0,347.8 L2399.7,349.7 L2400.4,351.6 L2401.1,353.4 L2401.8,355.3 L2402.6,357.2 L2403.3,359.0 L2404.0,360.9 L2404.7,362.8 L2405.4,364.6 L2406.1,366.5 L2406.8,368.4 L2407.4,370.3 L2408.1,372.2 L2408.7,374.1 L2409.3,376.0 L2410.0,377.9 L2410.6,379.8 L2411.2,381.7 L2411.8,383.6 L2412.3,385.5 L2412.8,387.4 L2413.3,389.4 L2413.7,391.3 L2414.2,393.3 L2414.6,395.2 L2415.0,397.2 L2415.4,399.2 L2415.8,401.1 L2416.2,403.1 L2416.7,405.0 L2417.1,407.0 L2417.5,408.9 L2417.9,410.9 L2418.3,412.9 L2418.6,414.8 L2419.0,416.8 L2419.4,418.7 L2419.8,420.7 L2420.2,422.7 L2420.6,424.6 L2421.0,426.6 L2421.4,428.6 L2421.8,430.5 L2422.2,432.5 L2422.6,434.4 L2423.0,436.4 L2423.5,438.3 L2423.9,440.3 L2424.3,442.2 L2424.7,444.2 L2425.2,446.1 L2425.6,448.1 L2426.0,450.1 L2426.5,452.0 L2427.0,453.9 L2427.4,455.9 L2427.9,457.8 L2428.4,459.8 L2429.0,461.7 L2429.5,463.6 L2430.0,465.6 L2430.5,467.5 L2431.0,469.4 L2431.5,471.4 L2432.0,473.3 L2432.6,475.2 L2433.1,477.2 L2433.6,479.1 L2434.1,481.0 L2434.6,483.0 L2435.1,484.9 L2435.6,486.8 L2436.2,488.7 L2436.7,490.7 L2437.2,492.6 L2437.7,494.5 L2438.2,496.5 L2438.7,498.4 L2439.2,500.3 L2439.7,502.3 L2440.2,504.2 L2440.7,506.2 L2441.2,508.1 L2441.7,510.1 L2442.1,512.0 L2442.6,513.9 L2443.1,515.9 L2443.5,517.8 L2444.0,519.7 L2444.4,521.5 L2444.8,523.2 L2445.2,524.5 L2445.3,525.0"/>
</g>
<rect x="150" y="31" width="2296.8" height="836.5" fill="none" stroke="#000" stroke-width="2.4"/>
<line x1="261.4" y1="78.4" x2="357.8" y2="78.4" stroke="#000" stroke-width="4.6"/><line x1="726.7" y1="78.4" x2="827.7" y2="78.4" stroke="#c4875f" stroke-width="4.8"/><line x1="1191.7" y1="78.4" x2="1292.4" y2="78.4" stroke="#567194" stroke-width="4.8"/><line x1="261.4" y1="145.4" x2="344" y2="145.4" stroke="#000" stroke-width="4.6" stroke-dasharray="18 14.5"/><line x1="726.7" y1="145.4" x2="827.7" y2="145.4" stroke="#e8823c" stroke-width="4.6"/><line x1="1191.7" y1="145.4" x2="1274.2" y2="145.4" stroke="#4472c4" stroke-width="4.6" stroke-dasharray="18 14.5"/>
<text x="391.00" y="90.00" font-size="39.16" font-weight="bold" fill="#000" textLength="52.21" lengthAdjust="spacingAndGlyphs">3.0</text>
<text x="456.00" y="88.90" font-size="33.71" font-weight="bold" fill="#000" textLength="20.81" lengthAdjust="spacingAndGlyphs">×</text>
<text x="492.50" y="90.00" font-size="39.16" font-weight="bold" fill="#000" textLength="40.10" lengthAdjust="spacingAndGlyphs">10</text>
<text x="535.50" y="77.30" font-size="23.45" font-weight="bold" fill="#000" textLength="10.56" lengthAdjust="spacingAndGlyphs">7</text>
<text x="866.50" y="90.00" font-size="39.16" font-weight="bold" fill="#000" textLength="52.61" lengthAdjust="spacingAndGlyphs">1.6</text>
<text x="933.50" y="88.90" font-size="33.71" font-weight="bold" fill="#000" textLength="19.81" lengthAdjust="spacingAndGlyphs">×</text>
<text x="968.00" y="90.00" font-size="39.16" font-weight="bold" fill="#000" textLength="39.10" lengthAdjust="spacingAndGlyphs">10</text>
<text x="1012.50" y="77.30" font-size="23.45" font-weight="bold" fill="#000" textLength="9.56" lengthAdjust="spacingAndGlyphs">7</text>
<text x="1323.00" y="90.00" font-size="39.16" font-weight="bold" fill="#000" textLength="51.61" lengthAdjust="spacingAndGlyphs">1.0</text>
<text x="1388.50" y="88.90" font-size="33.71" font-weight="bold" fill="#000" textLength="20.81" lengthAdjust="spacingAndGlyphs">×</text>
<text x="1425.00" y="90.00" font-size="39.16" font-weight="bold" fill="#000" textLength="37.50" lengthAdjust="spacingAndGlyphs">10</text>
<text x="1468.00" y="77.30" font-size="23.45" font-weight="bold" fill="#000" textLength="9.96" lengthAdjust="spacingAndGlyphs">7</text>
<text x="372.00" y="157.10" font-size="37.59" font-weight="bold" fill="#000" textLength="152.07" lengthAdjust="spacingAndGlyphs">Average</text>
<text x="531.50" y="157.10" font-size="37.59" font-weight="bold" fill="#000" textLength="111.34" lengthAdjust="spacingAndGlyphs">165 W</text>
<text x="837.00" y="157.10" font-size="37.59" font-weight="bold" fill="#000" textLength="150.47" lengthAdjust="spacingAndGlyphs">Average</text>
<text x="995.50" y="157.10" font-size="37.59" font-weight="bold" fill="#ed7d31" textLength="111.74" lengthAdjust="spacingAndGlyphs">164 W</text>
<text x="1302.00" y="157.10" font-size="37.59" font-weight="bold" fill="#000" textLength="150.47" lengthAdjust="spacingAndGlyphs">Average</text>
<text x="1465.50" y="157.10" font-size="37.59" font-weight="bold" fill="#4472c4" textLength="110.94" lengthAdjust="spacingAndGlyphs">164 W</text>
<text x="2021.00" y="80.70" font-size="35.00" font-weight="bold" fill="#000" textLength="79.42" lengthAdjust="spacingAndGlyphs">Wind</text>
<text x="2115.00" y="80.70" font-size="35.00" font-weight="bold" fill="#000" textLength="101.16" lengthAdjust="spacingAndGlyphs">speed</text>
<text x="2220.00" y="80.70" font-size="35.00" font-weight="bold" fill="#000" textLength="14.66" lengthAdjust="spacingAndGlyphs">:</text>
<text x="2243.50" y="80.70" font-size="35.00" font-weight="bold" fill="#000" textLength="36.94" lengthAdjust="spacingAndGlyphs">12</text>
<text x="2290.00" y="80.70" font-size="35.00" font-weight="bold" fill="#000" textLength="57.71" lengthAdjust="spacingAndGlyphs">m/s</text>
<text x="2019.50" y="121.80" font-size="34.70" font-weight="bold" fill="#000" textLength="138.86" lengthAdjust="spacingAndGlyphs">Rotating</text>
<text x="2170.00" y="121.80" font-size="34.70" font-weight="bold" fill="#000" textLength="101.27" lengthAdjust="spacingAndGlyphs">speed</text>
<text x="2275.00" y="121.80" font-size="34.70" font-weight="bold" fill="#000" textLength="14.56" lengthAdjust="spacingAndGlyphs">:</text>
<text x="2300.50" y="121.80" font-size="34.70" font-weight="bold" fill="#000" textLength="54.07" lengthAdjust="spacingAndGlyphs">150</text>
<text x="2367.50" y="121.80" font-size="34.70" font-weight="bold" fill="#000" textLength="61.73" lengthAdjust="spacingAndGlyphs">rpm</text>
<text x="1159.00" y="974.30" font-size="34.40" font-weight="bold" fill="#000" textLength="133.96" lengthAdjust="spacingAndGlyphs">Physical</text>
<text x="1309.50" y="974.30" font-size="34.40" font-weight="bold" fill="#000" textLength="67.92" lengthAdjust="spacingAndGlyphs">time</text>
<text x="1390.50" y="974.30" font-size="34.40" font-weight="bold" fill="#000" textLength="39.63" lengthAdjust="spacingAndGlyphs">[s]</text>
<text transform="translate(41.00,600.50) rotate(-90)" font-size="34.10" font-weight="bold" fill="#000" textLength="184.33" lengthAdjust="spacingAndGlyphs">Mechanical</text>
<text transform="translate(41.00,404.50) rotate(-90)" font-size="34.10" font-weight="bold" fill="#000" textLength="100.96" lengthAdjust="spacingAndGlyphs">power</text>
<text transform="translate(41.00,294.00) rotate(-90)" font-size="34.10" font-weight="bold" fill="#000" textLength="51.67" lengthAdjust="spacingAndGlyphs">[W]</text>
<text x="96.50" y="878.00" font-size="35.50" font-weight="normal" fill="#111" stroke="#fff" stroke-width="0.7" textLength="16.55" lengthAdjust="spacingAndGlyphs">0</text>
<text x="76.50" y="738.93" font-size="35.50" font-weight="normal" fill="#111" stroke="#fff" stroke-width="0.7" textLength="37.10" lengthAdjust="spacingAndGlyphs">50</text>
<text x="56.50" y="599.85" font-size="35.50" font-weight="normal" fill="#111" stroke="#fff" stroke-width="0.7" textLength="56.63" lengthAdjust="spacingAndGlyphs">100</text>
<text x="56.50" y="459.77" font-size="35.50" font-weight="normal" fill="#111" stroke="#fff" stroke-width="0.7" textLength="56.63" lengthAdjust="spacingAndGlyphs">150</text>
<text x="57.50" y="320.70" font-size="35.50" font-weight="normal" fill="#111" stroke="#fff" stroke-width="0.7" textLength="55.63" lengthAdjust="spacingAndGlyphs">200</text>
<text x="57.50" y="181.62" font-size="35.50" font-weight="normal" fill="#111" stroke="#fff" stroke-width="0.7" textLength="55.63" lengthAdjust="spacingAndGlyphs">250</text>
<text x="57.50" y="40.55" font-size="35.50" font-weight="normal" fill="#111" stroke="#fff" stroke-width="0.7" textLength="55.63" lengthAdjust="spacingAndGlyphs">300</text>
<text x="139.50" y="929.30" font-size="34.00" font-weight="normal" fill="#111" stroke="#fff" stroke-width="0.7" textLength="19.32" lengthAdjust="spacingAndGlyphs">4</text>
<text x="355.50" y="929.30" font-size="34.00" font-weight="normal" fill="#111" stroke="#fff" stroke-width="0.7" textLength="45.67" lengthAdjust="spacingAndGlyphs">4.1</text>
<text x="584.50" y="929.30" font-size="34.00" font-weight="normal" fill="#111" stroke="#fff" stroke-width="0.7" textLength="46.67" lengthAdjust="spacingAndGlyphs">4.2</text>
<text x="814.50" y="929.30" font-size="34.00" font-weight="normal" fill="#111" stroke="#fff" stroke-width="0.7" textLength="45.67" lengthAdjust="spacingAndGlyphs">4.3</text>
<text x="1043.50" y="929.30" font-size="34.00" font-weight="normal" fill="#111" stroke="#fff" stroke-width="0.7" textLength="45.67" lengthAdjust="spacingAndGlyphs">4.4</text>
<text x="1273.50" y="929.30" font-size="34.00" font-weight="normal" fill="#111" stroke="#fff" stroke-width="0.7" textLength="45.67" lengthAdjust="spacingAndGlyphs">4.5</text>
<text x="1503.50" y="929.30" font-size="34.00" font-weight="normal" fill="#111" stroke="#fff" stroke-width="0.7" textLength="45.67" lengthAdjust="spacingAndGlyphs">4.6</text>
<text x="1732.50" y="929.30" font-size="34.00" font-weight="normal" fill="#111" stroke="#fff" stroke-width="0.7" textLength="46.67" lengthAdjust="spacingAndGlyphs">4.7</text>
<text x="1962.50" y="929.30" font-size="34.00" font-weight="normal" fill="#111" stroke="#fff" stroke-width="0.7" textLength="45.67" lengthAdjust="spacingAndGlyphs">4.8</text>
<text x="2191.50" y="929.30" font-size="34.00" font-weight="normal" fill="#111" stroke="#fff" stroke-width="0.7" textLength="46.67" lengthAdjust="spacingAndGlyphs">4.9</text>
<text x="2438.00" y="929.30" font-size="34.00" font-weight="normal" fill="#111" stroke="#fff" stroke-width="0.7" textLength="15.92" lengthAdjust="spacingAndGlyphs">5</text>
</svg>
</body></html>
